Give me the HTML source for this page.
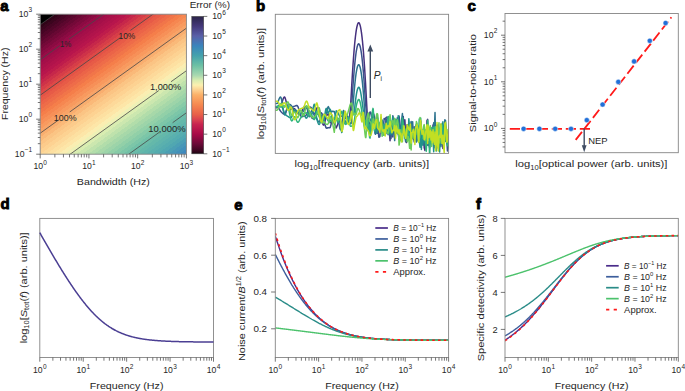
<!DOCTYPE html>
<html><head><meta charset="utf-8"><style>html,body{margin:0;padding:0;background:#fff;width:685px;height:391px;overflow:hidden}svg{display:block}text{font-family:"Liberation Sans", sans-serif;stroke:#262626;stroke-width:0px}</style></head>
<body><svg width="685" height="391" viewBox="0 0 685 391" font-family='"Liberation Sans", sans-serif'><defs><linearGradient id="ga" gradientUnits="userSpaceOnUse" x1="40.20" y1="14.20" x2="156.28" y2="175.83"><stop offset="0" stop-color="#000"/><stop offset="0.0430" stop-color="#000"/><stop offset="0.0430" stop-color="#300418"/><stop offset="0.0573" stop-color="#300418"/><stop offset="0.0573" stop-color="#3b051e"/><stop offset="0.0716" stop-color="#3b051e"/><stop offset="0.0716" stop-color="#460524"/><stop offset="0.0859" stop-color="#460524"/><stop offset="0.0859" stop-color="#510629"/><stop offset="0.1002" stop-color="#510629"/><stop offset="0.1002" stop-color="#5c072e"/><stop offset="0.1145" stop-color="#5c072e"/><stop offset="0.1145" stop-color="#680833"/><stop offset="0.1288" stop-color="#680833"/><stop offset="0.1288" stop-color="#740938"/><stop offset="0.1431" stop-color="#740938"/><stop offset="0.1431" stop-color="#7f0a3d"/><stop offset="0.1574" stop-color="#7f0a3d"/><stop offset="0.1574" stop-color="#8b0b42"/><stop offset="0.1717" stop-color="#8b0b42"/><stop offset="0.1717" stop-color="#970c47"/><stop offset="0.1861" stop-color="#970c47"/><stop offset="0.1861" stop-color="#9e0d49"/><stop offset="0.2004" stop-color="#9e0d49"/><stop offset="0.2004" stop-color="#a50f49"/><stop offset="0.2148" stop-color="#a50f49"/><stop offset="0.2148" stop-color="#ab114a"/><stop offset="0.2291" stop-color="#ab114a"/><stop offset="0.2291" stop-color="#b1134b"/><stop offset="0.2435" stop-color="#b1134b"/><stop offset="0.2435" stop-color="#b7154c"/><stop offset="0.2579" stop-color="#b7154c"/><stop offset="0.2579" stop-color="#be1c4b"/><stop offset="0.2724" stop-color="#be1c4b"/><stop offset="0.2724" stop-color="#c6274a"/><stop offset="0.2869" stop-color="#c6274a"/><stop offset="0.2869" stop-color="#ce3249"/><stop offset="0.3014" stop-color="#ce3249"/><stop offset="0.3014" stop-color="#d63e48"/><stop offset="0.3160" stop-color="#d63e48"/><stop offset="0.3160" stop-color="#de4947"/><stop offset="0.3307" stop-color="#de4947"/><stop offset="0.3307" stop-color="#e45346"/><stop offset="0.3455" stop-color="#e45346"/><stop offset="0.3455" stop-color="#e75b47"/><stop offset="0.3603" stop-color="#e75b47"/><stop offset="0.3603" stop-color="#eb6448"/><stop offset="0.3753" stop-color="#eb6448"/><stop offset="0.3753" stop-color="#ee6c49"/><stop offset="0.3905" stop-color="#ee6c49"/><stop offset="0.3905" stop-color="#f17549"/><stop offset="0.4058" stop-color="#f17549"/><stop offset="0.4058" stop-color="#f57e4a"/><stop offset="0.4213" stop-color="#f57e4a"/><stop offset="0.4213" stop-color="#f68751"/><stop offset="0.4371" stop-color="#f68751"/><stop offset="0.4371" stop-color="#f79058"/><stop offset="0.4531" stop-color="#f79058"/><stop offset="0.4531" stop-color="#f89a5f"/><stop offset="0.4693" stop-color="#f89a5f"/><stop offset="0.4693" stop-color="#f8a367"/><stop offset="0.4857" stop-color="#f8a367"/><stop offset="0.4857" stop-color="#f9ae6f"/><stop offset="0.5024" stop-color="#f9ae6f"/><stop offset="0.5024" stop-color="#fab979"/><stop offset="0.5194" stop-color="#fab979"/><stop offset="0.5194" stop-color="#fbc484"/><stop offset="0.5365" stop-color="#fbc484"/><stop offset="0.5365" stop-color="#fccb8b"/><stop offset="0.5538" stop-color="#fccb8b"/><stop offset="0.5538" stop-color="#fdd292"/><stop offset="0.5712" stop-color="#fdd292"/><stop offset="0.5712" stop-color="#fdd99a"/><stop offset="0.5888" stop-color="#fdd99a"/><stop offset="0.5888" stop-color="#fde0a1"/><stop offset="0.6064" stop-color="#fde0a1"/><stop offset="0.6064" stop-color="#fde6a8"/><stop offset="0.6240" stop-color="#fde6a8"/><stop offset="0.6240" stop-color="#faeeb2"/><stop offset="0.6416" stop-color="#faeeb2"/><stop offset="0.6416" stop-color="#eef1b6"/><stop offset="0.6592" stop-color="#eef1b6"/><stop offset="0.6592" stop-color="#d9edb1"/><stop offset="0.6767" stop-color="#d9edb1"/><stop offset="0.6767" stop-color="#cce7af"/><stop offset="0.6942" stop-color="#cce7af"/><stop offset="0.6942" stop-color="#bfe2ac"/><stop offset="0.7116" stop-color="#bfe2ac"/><stop offset="0.7116" stop-color="#b2ddaa"/><stop offset="0.7289" stop-color="#b2ddaa"/><stop offset="0.7289" stop-color="#a7d8a9"/><stop offset="0.7462" stop-color="#a7d8a9"/><stop offset="0.7462" stop-color="#9dd4a9"/><stop offset="0.7633" stop-color="#9dd4a9"/><stop offset="0.7633" stop-color="#92d0a8"/><stop offset="0.7803" stop-color="#92d0a8"/><stop offset="0.7803" stop-color="#87cba8"/><stop offset="0.7973" stop-color="#87cba8"/><stop offset="0.7973" stop-color="#7cc6a8"/><stop offset="0.8141" stop-color="#7cc6a8"/><stop offset="0.8141" stop-color="#72c1a8"/><stop offset="0.8309" stop-color="#72c1a8"/><stop offset="0.8309" stop-color="#6abca9"/><stop offset="0.8476" stop-color="#6abca9"/><stop offset="0.8476" stop-color="#64b8aa"/><stop offset="0.8642" stop-color="#64b8aa"/><stop offset="0.8642" stop-color="#5fb4ac"/><stop offset="0.8807" stop-color="#5fb4ac"/><stop offset="0.8807" stop-color="#5ab0ae"/><stop offset="0.8971" stop-color="#5ab0ae"/><stop offset="0.8971" stop-color="#55acaf"/><stop offset="0.9135" stop-color="#55acaf"/><stop offset="0.9135" stop-color="#50a7b1"/><stop offset="0.9298" stop-color="#50a7b1"/><stop offset="0.9298" stop-color="#4b9fb4"/><stop offset="0.9460" stop-color="#4b9fb4"/><stop offset="0.9460" stop-color="#4797b7"/><stop offset="0.9622" stop-color="#4797b7"/><stop offset="0.9622" stop-color="#4290ba"/><stop offset="0.9783" stop-color="#4290ba"/><stop offset="0.9783" stop-color="#3e88bd"/><stop offset="0.9943" stop-color="#3e88bd"/><stop offset="0.9943" stop-color="#3b83bf"/><stop offset="1.0000" stop-color="#3b83bf"/></linearGradient><linearGradient id="gcb" x1="0" y1="0" x2="0" y2="1"><stop offset="0.0000" stop-color="#2a2448"/><stop offset="0.0714" stop-color="#44387a"/><stop offset="0.1429" stop-color="#5a60a8"/><stop offset="0.2143" stop-color="#3a84bc"/><stop offset="0.2857" stop-color="#44a2ac"/><stop offset="0.3571" stop-color="#6cc0a4"/><stop offset="0.4286" stop-color="#a8d8b0"/><stop offset="0.4643" stop-color="#d8ecb0"/><stop offset="0.5000" stop-color="#fcf0b0"/><stop offset="0.5357" stop-color="#fcd090"/><stop offset="0.5714" stop-color="#fbb068"/><stop offset="0.6429" stop-color="#f58850"/><stop offset="0.7143" stop-color="#e86048"/><stop offset="0.7543" stop-color="#d84050"/><stop offset="0.7857" stop-color="#c82450"/><stop offset="0.8571" stop-color="#a80a48"/><stop offset="0.9286" stop-color="#6a0a38"/><stop offset="0.9786" stop-color="#3a0620"/><stop offset="1.0000" stop-color="#1a0610"/></linearGradient><clipPath id="ca"><rect x="40.2" y="14.2" width="146.20" height="140.00"/></clipPath><clipPath id="cb"><rect x="275.3" y="14.3" width="173.30" height="139.10"/></clipPath><clipPath id="cc"><rect x="505.0" y="13.5" width="173.30" height="139.20"/></clipPath><clipPath id="ce"><rect x="275.3" y="218.4" width="173.30" height="139.10"/></clipPath><clipPath id="cf"><rect x="505.0" y="218.4" width="173.30" height="139.10"/></clipPath></defs>
<rect x="40.2" y="14.2" width="146.20" height="140.00" fill="url(#ga)"/>
<g clip-path="url(#ca)">
<line x1="35.20" y1="28.33" x2="59.88" y2="10.61" stroke="#474747" stroke-width="0.8" />
<line x1="35.20" y1="63.38" x2="59.87" y2="45.66" stroke="#474747" stroke-width="0.8"/>
<line x1="68.91" y1="39.17" x2="191.40" y2="-48.80" stroke="#474747" stroke-width="0.8"/>
<line x1="35.20" y1="98.81" x2="120.51" y2="37.54" stroke="#474747" stroke-width="0.8"/>
<line x1="130.40" y1="30.44" x2="191.40" y2="-13.37" stroke="#474747" stroke-width="0.8"/>
<line x1="35.20" y1="136.80" x2="58.84" y2="119.82" stroke="#474747" stroke-width="0.8"/>
<line x1="69.71" y1="112.01" x2="191.40" y2="24.61" stroke="#474747" stroke-width="0.8"/>
<line x1="35.20" y1="179.30" x2="158.78" y2="90.54" stroke="#474747" stroke-width="0.8"/>
<line x1="171.04" y1="81.73" x2="191.40" y2="67.11" stroke="#474747" stroke-width="0.8"/>
<line x1="35.20" y1="221.36" x2="159.37" y2="132.18" stroke="#474747" stroke-width="0.8"/>
<line x1="172.61" y1="122.68" x2="191.40" y2="109.18" stroke="#474747" stroke-width="0.8"/>
</g>
<text x="59.90" y="47.40" font-size="9.2" fill="#262626" textLength="11.40" lengthAdjust="spacingAndGlyphs">1%</text>
<text x="118.55" y="39.30" font-size="9.2" fill="#262626" textLength="16.70" lengthAdjust="spacingAndGlyphs">10%</text>
<text x="53.85" y="120.50" font-size="9.2" fill="#262626" textLength="22.70" lengthAdjust="spacingAndGlyphs">100%</text>
<text x="149.95" y="90.40" font-size="9.2" fill="#262626" textLength="31.30" lengthAdjust="spacingAndGlyphs">1,000%</text>
<text x="148.25" y="132.00" font-size="9.2" fill="#262626" textLength="37.30" lengthAdjust="spacingAndGlyphs">10,000%</text>
<rect x="40.20" y="14.20" width="146.20" height="140.00" fill="none" stroke="#858585" stroke-width="0.9"/>
<line x1="40.20" y1="154.20" x2="40.20" y2="158.40" stroke="#4a4a4a" stroke-width="0.75" />
<line x1="54.87" y1="154.20" x2="54.87" y2="157.40" stroke="#4a4a4a" stroke-width="0.75" />
<line x1="63.45" y1="154.20" x2="63.45" y2="157.40" stroke="#4a4a4a" stroke-width="0.75" />
<line x1="69.54" y1="154.20" x2="69.54" y2="157.40" stroke="#4a4a4a" stroke-width="0.75" />
<line x1="74.26" y1="154.20" x2="74.26" y2="157.40" stroke="#4a4a4a" stroke-width="0.75" />
<line x1="78.12" y1="154.20" x2="78.12" y2="157.40" stroke="#4a4a4a" stroke-width="0.75" />
<line x1="81.38" y1="154.20" x2="81.38" y2="157.40" stroke="#4a4a4a" stroke-width="0.75" />
<line x1="84.21" y1="154.20" x2="84.21" y2="157.40" stroke="#4a4a4a" stroke-width="0.75" />
<line x1="86.70" y1="154.20" x2="86.70" y2="157.40" stroke="#4a4a4a" stroke-width="0.75" />
<line x1="88.93" y1="154.20" x2="88.93" y2="158.40" stroke="#4a4a4a" stroke-width="0.75" />
<line x1="103.60" y1="154.20" x2="103.60" y2="157.40" stroke="#4a4a4a" stroke-width="0.75" />
<line x1="112.19" y1="154.20" x2="112.19" y2="157.40" stroke="#4a4a4a" stroke-width="0.75" />
<line x1="118.27" y1="154.20" x2="118.27" y2="157.40" stroke="#4a4a4a" stroke-width="0.75" />
<line x1="123.00" y1="154.20" x2="123.00" y2="157.40" stroke="#4a4a4a" stroke-width="0.75" />
<line x1="126.86" y1="154.20" x2="126.86" y2="157.40" stroke="#4a4a4a" stroke-width="0.75" />
<line x1="130.12" y1="154.20" x2="130.12" y2="157.40" stroke="#4a4a4a" stroke-width="0.75" />
<line x1="132.94" y1="154.20" x2="132.94" y2="157.40" stroke="#4a4a4a" stroke-width="0.75" />
<line x1="135.44" y1="154.20" x2="135.44" y2="157.40" stroke="#4a4a4a" stroke-width="0.75" />
<line x1="137.67" y1="154.20" x2="137.67" y2="158.40" stroke="#4a4a4a" stroke-width="0.75" />
<line x1="152.34" y1="154.20" x2="152.34" y2="157.40" stroke="#4a4a4a" stroke-width="0.75" />
<line x1="160.92" y1="154.20" x2="160.92" y2="157.40" stroke="#4a4a4a" stroke-width="0.75" />
<line x1="167.01" y1="154.20" x2="167.01" y2="157.40" stroke="#4a4a4a" stroke-width="0.75" />
<line x1="171.73" y1="154.20" x2="171.73" y2="157.40" stroke="#4a4a4a" stroke-width="0.75" />
<line x1="175.59" y1="154.20" x2="175.59" y2="157.40" stroke="#4a4a4a" stroke-width="0.75" />
<line x1="178.85" y1="154.20" x2="178.85" y2="157.40" stroke="#4a4a4a" stroke-width="0.75" />
<line x1="181.68" y1="154.20" x2="181.68" y2="157.40" stroke="#4a4a4a" stroke-width="0.75" />
<line x1="184.17" y1="154.20" x2="184.17" y2="157.40" stroke="#4a4a4a" stroke-width="0.75" />
<line x1="186.40" y1="154.20" x2="186.40" y2="158.40" stroke="#4a4a4a" stroke-width="0.75" />
<line x1="36.20" y1="154.20" x2="40.20" y2="154.20" stroke="#4a4a4a" stroke-width="0.75" />
<line x1="37.80" y1="143.66" x2="40.20" y2="143.66" stroke="#4a4a4a" stroke-width="0.75" />
<line x1="37.80" y1="137.50" x2="40.20" y2="137.50" stroke="#4a4a4a" stroke-width="0.75" />
<line x1="37.80" y1="133.13" x2="40.20" y2="133.13" stroke="#4a4a4a" stroke-width="0.75" />
<line x1="37.80" y1="129.74" x2="40.20" y2="129.74" stroke="#4a4a4a" stroke-width="0.75" />
<line x1="37.80" y1="126.96" x2="40.20" y2="126.96" stroke="#4a4a4a" stroke-width="0.75" />
<line x1="37.80" y1="124.62" x2="40.20" y2="124.62" stroke="#4a4a4a" stroke-width="0.75" />
<line x1="37.80" y1="122.59" x2="40.20" y2="122.59" stroke="#4a4a4a" stroke-width="0.75" />
<line x1="37.80" y1="120.80" x2="40.20" y2="120.80" stroke="#4a4a4a" stroke-width="0.75" />
<line x1="36.20" y1="119.20" x2="40.20" y2="119.20" stroke="#4a4a4a" stroke-width="0.75" />
<line x1="37.80" y1="108.66" x2="40.20" y2="108.66" stroke="#4a4a4a" stroke-width="0.75" />
<line x1="37.80" y1="102.50" x2="40.20" y2="102.50" stroke="#4a4a4a" stroke-width="0.75" />
<line x1="37.80" y1="98.13" x2="40.20" y2="98.13" stroke="#4a4a4a" stroke-width="0.75" />
<line x1="37.80" y1="94.74" x2="40.20" y2="94.74" stroke="#4a4a4a" stroke-width="0.75" />
<line x1="37.80" y1="91.96" x2="40.20" y2="91.96" stroke="#4a4a4a" stroke-width="0.75" />
<line x1="37.80" y1="89.62" x2="40.20" y2="89.62" stroke="#4a4a4a" stroke-width="0.75" />
<line x1="37.80" y1="87.59" x2="40.20" y2="87.59" stroke="#4a4a4a" stroke-width="0.75" />
<line x1="37.80" y1="85.80" x2="40.20" y2="85.80" stroke="#4a4a4a" stroke-width="0.75" />
<line x1="36.20" y1="84.20" x2="40.20" y2="84.20" stroke="#4a4a4a" stroke-width="0.75" />
<line x1="37.80" y1="73.66" x2="40.20" y2="73.66" stroke="#4a4a4a" stroke-width="0.75" />
<line x1="37.80" y1="67.50" x2="40.20" y2="67.50" stroke="#4a4a4a" stroke-width="0.75" />
<line x1="37.80" y1="63.13" x2="40.20" y2="63.13" stroke="#4a4a4a" stroke-width="0.75" />
<line x1="37.80" y1="59.74" x2="40.20" y2="59.74" stroke="#4a4a4a" stroke-width="0.75" />
<line x1="37.80" y1="56.96" x2="40.20" y2="56.96" stroke="#4a4a4a" stroke-width="0.75" />
<line x1="37.80" y1="54.62" x2="40.20" y2="54.62" stroke="#4a4a4a" stroke-width="0.75" />
<line x1="37.80" y1="52.59" x2="40.20" y2="52.59" stroke="#4a4a4a" stroke-width="0.75" />
<line x1="37.80" y1="50.80" x2="40.20" y2="50.80" stroke="#4a4a4a" stroke-width="0.75" />
<line x1="36.20" y1="49.20" x2="40.20" y2="49.20" stroke="#4a4a4a" stroke-width="0.75" />
<line x1="37.80" y1="38.66" x2="40.20" y2="38.66" stroke="#4a4a4a" stroke-width="0.75" />
<line x1="37.80" y1="32.50" x2="40.20" y2="32.50" stroke="#4a4a4a" stroke-width="0.75" />
<line x1="37.80" y1="28.13" x2="40.20" y2="28.13" stroke="#4a4a4a" stroke-width="0.75" />
<line x1="37.80" y1="24.74" x2="40.20" y2="24.74" stroke="#4a4a4a" stroke-width="0.75" />
<line x1="37.80" y1="21.96" x2="40.20" y2="21.96" stroke="#4a4a4a" stroke-width="0.75" />
<line x1="37.80" y1="19.62" x2="40.20" y2="19.62" stroke="#4a4a4a" stroke-width="0.75" />
<line x1="37.80" y1="17.59" x2="40.20" y2="17.59" stroke="#4a4a4a" stroke-width="0.75" />
<line x1="37.80" y1="15.80" x2="40.20" y2="15.80" stroke="#4a4a4a" stroke-width="0.75" />
<line x1="36.20" y1="14.20" x2="40.20" y2="14.20" stroke="#4a4a4a" stroke-width="0.75" />
<text x="33.43" y="169.30" font-size="9.3" fill="#262626" textLength="9.62" lengthAdjust="spacingAndGlyphs">10</text>
<text x="43.35" y="164.60" font-size="6.5" fill="#262626" style="stroke-width:0">0</text>
<text x="82.17" y="169.30" font-size="9.3" fill="#262626" textLength="9.62" lengthAdjust="spacingAndGlyphs">10</text>
<text x="92.09" y="164.60" font-size="6.5" fill="#262626" style="stroke-width:0">1</text>
<text x="130.90" y="169.30" font-size="9.3" fill="#262626" textLength="9.62" lengthAdjust="spacingAndGlyphs">10</text>
<text x="140.82" y="164.60" font-size="6.5" fill="#262626" style="stroke-width:0">2</text>
<text x="179.63" y="169.30" font-size="9.3" fill="#262626" textLength="9.62" lengthAdjust="spacingAndGlyphs">10</text>
<text x="189.55" y="164.60" font-size="6.5" fill="#262626" style="stroke-width:0">3</text>
<text x="14.87" y="157.10" font-size="9.3" fill="#262626" textLength="9.62" lengthAdjust="spacingAndGlyphs">10</text>
<text x="24.79" y="152.40" font-size="6.5" fill="#262626" style="stroke-width:0">&#8722;1</text>
<text x="18.67" y="122.10" font-size="9.3" fill="#262626" textLength="9.62" lengthAdjust="spacingAndGlyphs">10</text>
<text x="28.59" y="117.40" font-size="6.5" fill="#262626" style="stroke-width:0">0</text>
<text x="18.67" y="87.10" font-size="9.3" fill="#262626" textLength="9.62" lengthAdjust="spacingAndGlyphs">10</text>
<text x="28.59" y="82.40" font-size="6.5" fill="#262626" style="stroke-width:0">1</text>
<text x="18.67" y="52.10" font-size="9.3" fill="#262626" textLength="9.62" lengthAdjust="spacingAndGlyphs">10</text>
<text x="28.59" y="47.40" font-size="6.5" fill="#262626" style="stroke-width:0">2</text>
<text x="18.67" y="17.10" font-size="9.3" fill="#262626" textLength="9.62" lengthAdjust="spacingAndGlyphs">10</text>
<text x="28.59" y="12.40" font-size="6.5" fill="#262626" style="stroke-width:0">3</text>
<text x="76.85" y="185.00" font-size="9.6" fill="#262626" textLength="73.00" lengthAdjust="spacingAndGlyphs">Bandwidth (Hz)</text>
<text x="-36.20" y="0" font-size="9.6" fill="#262626" textLength="72.40" lengthAdjust="spacingAndGlyphs" transform="translate(8.40,83.80) rotate(-90)">Frequency (Hz)</text>
<text x="0.20" y="11.40" font-size="15" font-weight="bold" fill="#000" style="stroke:#000;stroke-width:0.9px">a</text>
<rect x="191.8" y="16.4" width="11.90" height="137.40" fill="url(#gcb)" stroke="#4a4a4a" stroke-width="0.6"/>
<line x1="203.70" y1="16.40" x2="207.30" y2="16.40" stroke="#4a4a4a" stroke-width="0.75" />
<text x="212.30" y="19.30" font-size="9.3" fill="#262626" textLength="9.62" lengthAdjust="spacingAndGlyphs">10</text>
<text x="222.22" y="14.60" font-size="6.5" fill="#262626" style="stroke-width:0">6</text>
<line x1="203.70" y1="36.03" x2="207.30" y2="36.03" stroke="#4a4a4a" stroke-width="0.75" />
<text x="212.30" y="38.93" font-size="9.3" fill="#262626" textLength="9.62" lengthAdjust="spacingAndGlyphs">10</text>
<text x="222.22" y="34.23" font-size="6.5" fill="#262626" style="stroke-width:0">5</text>
<line x1="203.70" y1="55.66" x2="207.30" y2="55.66" stroke="#4a4a4a" stroke-width="0.75" />
<text x="212.30" y="58.56" font-size="9.3" fill="#262626" textLength="9.62" lengthAdjust="spacingAndGlyphs">10</text>
<text x="222.22" y="53.86" font-size="6.5" fill="#262626" style="stroke-width:0">4</text>
<line x1="203.70" y1="75.29" x2="207.30" y2="75.29" stroke="#4a4a4a" stroke-width="0.75" />
<text x="212.30" y="78.19" font-size="9.3" fill="#262626" textLength="9.62" lengthAdjust="spacingAndGlyphs">10</text>
<text x="222.22" y="73.49" font-size="6.5" fill="#262626" style="stroke-width:0">3</text>
<line x1="203.70" y1="94.91" x2="207.30" y2="94.91" stroke="#4a4a4a" stroke-width="0.75" />
<text x="212.30" y="97.81" font-size="9.3" fill="#262626" textLength="9.62" lengthAdjust="spacingAndGlyphs">10</text>
<text x="222.22" y="93.11" font-size="6.5" fill="#262626" style="stroke-width:0">2</text>
<line x1="203.70" y1="114.54" x2="207.30" y2="114.54" stroke="#4a4a4a" stroke-width="0.75" />
<text x="212.30" y="117.44" font-size="9.3" fill="#262626" textLength="9.62" lengthAdjust="spacingAndGlyphs">10</text>
<text x="222.22" y="112.74" font-size="6.5" fill="#262626" style="stroke-width:0">1</text>
<line x1="203.70" y1="134.17" x2="207.30" y2="134.17" stroke="#4a4a4a" stroke-width="0.75" />
<text x="212.30" y="137.07" font-size="9.3" fill="#262626" textLength="9.62" lengthAdjust="spacingAndGlyphs">10</text>
<text x="222.22" y="132.37" font-size="6.5" fill="#262626" style="stroke-width:0">0</text>
<line x1="203.70" y1="153.80" x2="207.30" y2="153.80" stroke="#4a4a4a" stroke-width="0.75" />
<text x="212.30" y="156.70" font-size="9.3" fill="#262626" textLength="9.62" lengthAdjust="spacingAndGlyphs">10</text>
<text x="222.22" y="152.00" font-size="6.5" fill="#262626" style="stroke-width:0">&#8722;1</text>
<text x="189.65" y="7.70" font-size="9.6" fill="#262626" textLength="40.40" lengthAdjust="spacingAndGlyphs">Error (%)</text>
<text x="256.10" y="11.20" font-size="15" font-weight="bold" fill="#000" style="stroke:#000;stroke-width:0.9px">b</text>
<g clip-path="url(#cb)">
<path d="M273.30,107.73 L273.80,107.73 L274.30,107.73 L274.80,107.73 L275.30,107.73 L275.80,107.73 L276.30,107.73 L276.80,107.73 L277.30,107.54 L277.80,107.05 L278.30,106.73 L278.80,106.51 L279.30,106.33 L279.80,106.10 L280.30,105.76 L280.80,105.23 L281.30,104.37 L281.80,103.07 L282.30,101.55 L282.80,99.99 L283.30,98.59 L283.80,97.54 L284.30,97.03 L284.80,97.29 L285.30,98.41 L285.80,100.15 L286.30,102.24 L286.80,104.41 L287.30,106.41 L287.80,107.95 L288.30,108.85 L288.80,109.31 L289.30,109.46 L289.80,109.40 L290.30,109.22 L290.80,109.04 L291.30,108.95 L291.80,108.93 L292.30,108.82 L292.80,108.67 L293.30,108.54 L293.80,108.50 L294.30,108.61 L294.80,108.92 L295.30,109.53 L295.80,110.33 L296.30,111.22 L296.80,112.10 L297.30,112.86 L297.80,113.39 L298.30,113.81 L298.80,114.15 L299.30,114.39 L299.80,114.46 L300.30,114.33 L300.80,113.94 L301.30,113.09 L301.80,111.83 L302.30,110.40 L302.80,109.01 L303.30,107.88 L303.80,107.23 L304.30,106.97 L304.80,106.99 L305.30,107.20 L305.80,107.54 L306.30,107.92 L306.80,108.30 L307.30,108.76 L307.80,109.31 L308.30,109.95 L308.80,110.71 L309.30,111.59 L309.80,112.81 L310.30,114.26 L310.80,115.73 L311.30,116.99 L311.80,117.85 L312.30,118.31 L312.80,118.52 L313.30,118.45 L313.80,118.07 L314.30,117.35 L314.80,116.01 L315.30,113.96 L315.80,111.66 L316.30,109.59 L316.80,108.20 L317.30,107.59 L317.80,107.46 L318.30,107.77 L318.80,108.49 L319.30,109.61 L319.80,111.48 L320.30,113.99 L320.80,116.67 L321.30,119.09 L321.80,120.93 L322.30,122.61 L322.80,124.03 L323.30,124.95 L323.80,125.14 L324.30,124.23 L324.80,122.30 L325.30,120.00 L325.80,117.93 L326.30,116.55 L326.80,115.33 L327.30,114.40 L327.80,114.01 L328.30,114.44 L328.80,116.30 L329.30,119.00 L329.80,121.49 L330.27,122.71 L332.31,117.43 L334.29,122.99 L336.22,127.89 L338.10,123.42 L339.94,120.53 L340.00,120.54 L340.50,121.24 L341.00,122.45 L341.50,123.22 L341.74,123.15 L342.00,122.59 L342.50,120.51 L343.00,118.12 L343.49,116.62 L343.50,116.61 L344.00,116.60 L344.50,117.39 L345.00,118.15 L345.21,118.26 L345.50,118.16 L346.00,117.63 L346.50,117.06 L346.88,116.91 L347.00,116.95 L347.50,117.49 L348.00,118.23 L348.50,118.61 L348.53,118.61 L349.00,118.06 L349.50,116.32 L350.00,112.75 L350.13,111.43 L350.50,106.70 L351.00,98.56 L351.50,89.66 L351.70,86.11 L352.00,80.89 L352.50,72.60 L353.00,64.90 L353.24,61.43 L353.50,57.84 L354.00,51.41 L354.50,45.63 L354.75,42.98 L355.00,40.50 L355.50,36.01 L356.00,32.18 L356.23,30.63 L356.50,28.99 L357.00,26.46 L357.50,24.57 L357.69,24.03 L358.00,23.34 L358.50,22.75 L359.00,22.82 L359.11,22.92 L359.50,23.53 L360.00,24.90 L360.50,26.91 L360.51,26.96 L361.00,29.58 L361.50,32.89 L361.88,35.85 L362.00,36.86 L362.50,41.47 L363.00,46.73 L363.23,49.37 L363.50,52.64 L364.00,59.20 L364.50,66.38 L364.55,67.13 L365.00,74.19 L365.50,82.62 L365.85,88.85 L366.00,91.59 L366.50,100.86 L367.00,109.96 L367.13,112.21 L367.50,118.32 L368.00,125.22 L368.39,127.93 L368.50,127.97 L369.00,124.14 L369.50,119.41 L369.63,118.93 L370.00,119.81 L370.50,123.40 L370.85,125.15 L371.00,125.44 L371.50,125.75 L372.00,124.55 L372.04,124.37 L372.50,120.44 L373.00,115.28 L373.22,114.03 L373.50,113.65 L374.00,115.02 L374.39,117.20 L374.50,118.02 L375.00,123.42 L375.50,128.41 L375.53,128.60 L376.00,130.27 L376.50,130.79 L376.66,131.05 L377.00,131.92 L377.50,133.11 L377.77,133.30 L378.87,130.32 L379.95,129.04 L381.02,128.29 L382.07,133.38 L383.11,122.29 L384.14,125.62 L385.15,128.08 L386.15,118.69 L387.14,133.69 L388.12,123.53 L389.08,128.29 L390.04,140.70 L390.98,124.10 L391.92,125.45 L392.84,136.95 L393.75,122.58 L394.66,125.48 L395.55,132.10 L396.44,132.76 L397.32,133.58 L398.19,133.21 L399.05,139.18 L399.90,137.68 L400.75,133.82 L401.59,125.34 L402.42,123.29 L403.24,117.73 L404.06,131.72 L404.87,119.82 L405.68,136.36 L406.48,142.60 L407.27,124.82 L408.06,125.24 L408.84,128.13 L409.61,135.62 L410.38,126.27 L411.15,129.51 L411.91,127.87 L412.66,130.73 L413.41,139.49 L414.16,126.74 L414.90,132.07 L415.64,134.90 L416.37,137.34 L417.10,125.73 L417.82,139.43 L418.55,137.39 L419.26,139.25 L419.98,132.86 L420.69,121.59 L421.40,128.25 L422.10,138.44 L422.80,134.44 L423.50,134.87 L424.20,147.86 L424.89,150.42 L425.58,137.29 L426.27,145.60 L426.95,120.52 L427.64,119.39 L428.32,138.51 L428.99,134.05 L429.67,138.94 L430.35,138.82 L431.02,135.38 L431.69,139.86 L432.36,135.48 L433.03,124.97 L433.69,135.75 L434.36,138.65 L435.02,147.63 L435.68,129.49 L436.34,134.63 L437.00,132.91 L437.66,136.26 L438.32,148.12 L438.97,140.09 L439.63,133.64 L440.28,137.89 L440.94,141.34 L441.59,130.19 L442.24,135.46 L442.90,148.53 L443.55,144.53 L444.20,137.25 L444.85,133.76 L445.50,134.55 L446.15,127.17 L446.80,143.35 L447.45,141.23 L448.10,138.06 L448.75,128.17 L449.40,132.27 L450.05,132.29" fill="none" stroke="#46317e" stroke-width="1.5" stroke-linejoin="round" stroke-linecap="butt" />
<path d="M273.30,106.51 L273.80,106.51 L274.30,106.51 L274.80,106.51 L275.30,106.51 L275.80,106.51 L276.30,106.51 L276.80,106.51 L277.30,106.59 L277.80,107.00 L278.30,107.61 L278.80,108.37 L279.30,109.20 L279.80,110.03 L280.30,110.79 L280.80,111.42 L281.30,111.94 L281.80,112.48 L282.30,113.01 L282.80,113.47 L283.30,113.81 L283.80,113.99 L284.30,113.95 L284.80,113.63 L285.30,112.89 L285.80,111.87 L286.30,110.68 L286.80,109.47 L287.30,108.38 L287.80,107.54 L288.30,107.06 L288.80,106.87 L289.30,106.88 L289.80,107.01 L290.30,107.19 L290.80,107.33 L291.30,107.37 L291.80,107.26 L292.30,107.08 L292.80,106.86 L293.30,106.63 L293.80,106.42 L294.30,106.25 L294.80,106.13 L295.30,105.93 L295.80,105.69 L296.30,105.51 L296.80,105.50 L297.30,105.75 L297.80,106.37 L298.30,107.60 L298.80,109.33 L299.30,111.30 L299.80,113.23 L300.30,114.88 L300.80,115.99 L301.30,116.56 L301.80,116.75 L302.30,116.68 L302.80,116.47 L303.30,116.23 L303.80,116.09 L304.30,116.01 L304.80,115.92 L305.30,115.75 L305.80,115.43 L306.30,114.90 L306.80,114.00 L307.30,112.64 L307.80,111.05 L308.30,109.48 L308.80,108.19 L309.30,107.41 L309.80,107.08 L310.30,107.06 L310.80,107.29 L311.30,107.71 L311.80,108.24 L312.30,109.05 L312.80,110.20 L313.30,111.47 L313.80,112.62 L314.30,113.42 L314.80,113.72 L315.30,113.64 L315.80,113.36 L316.30,113.11 L316.80,113.09 L317.30,113.46 L317.80,114.10 L318.30,114.80 L318.80,115.33 L319.30,115.50 L319.80,115.01 L320.30,114.08 L320.80,113.18 L321.30,112.75 L321.80,113.22 L322.30,114.59 L322.80,116.47 L323.30,118.54 L323.80,120.42 L324.30,122.21 L324.80,124.11 L325.30,125.87 L325.80,127.26 L326.30,128.06 L326.80,128.25 L327.30,128.06 L327.80,127.77 L328.30,127.62 L328.80,127.73 L329.30,127.87 L329.80,127.76 L330.27,127.20 L332.31,119.94 L334.29,122.98 L336.22,117.75 L338.10,123.38 L339.94,117.40 L340.00,117.29 L340.50,116.60 L341.00,116.28 L341.50,116.15 L341.74,116.09 L342.00,115.98 L342.50,115.73 L343.00,115.74 L343.49,116.37 L343.50,116.40 L344.00,118.31 L344.50,120.96 L345.00,123.21 L345.21,123.75 L345.50,124.05 L346.00,123.76 L346.50,123.02 L346.88,122.56 L347.00,122.47 L347.50,122.25 L348.00,121.94 L348.50,121.15 L348.53,121.08 L349.00,119.16 L349.50,116.43 L350.00,114.34 L350.13,114.04 L350.50,113.77 L351.00,112.63 L351.50,107.98 L351.70,105.26 L352.00,100.71 L352.50,92.93 L353.00,85.55 L353.24,82.22 L353.50,78.76 L354.00,72.46 L354.50,66.72 L354.75,64.07 L355.00,61.59 L355.50,57.11 L356.00,53.27 L356.23,51.73 L356.50,50.09 L357.00,47.55 L357.50,45.67 L357.69,45.12 L358.00,44.43 L358.50,43.85 L359.00,43.91 L359.11,44.02 L359.50,44.63 L360.00,45.99 L360.50,48.00 L360.51,48.05 L361.00,50.66 L361.50,53.97 L361.88,56.92 L362.00,57.93 L362.50,62.54 L363.00,67.80 L363.23,70.44 L363.50,73.71 L364.00,80.26 L364.50,87.44 L364.55,88.18 L365.00,95.08 L365.50,102.42 L365.85,106.64 L366.00,108.26 L366.50,113.02 L367.00,116.74 L367.13,117.42 L367.50,119.31 L368.00,121.65 L368.39,121.96 L368.50,121.60 L369.00,117.79 L369.50,113.59 L369.63,112.96 L370.00,112.00 L370.50,112.00 L370.85,112.84 L371.00,113.51 L371.50,117.15 L372.00,120.76 L372.04,120.96 L372.50,122.69 L373.00,123.76 L373.22,124.07 L373.50,124.04 L374.00,123.32 L374.39,123.93 L374.50,124.60 L375.00,130.06 L375.50,134.17 L375.53,134.22 L376.00,131.56 L376.50,126.73 L376.66,125.99 L377.00,125.91 L377.50,127.66 L377.77,129.01 L378.87,137.26 L379.95,136.57 L381.02,117.55 L382.07,123.82 L383.11,132.49 L384.14,118.48 L385.15,119.21 L386.15,117.34 L387.14,116.97 L388.12,119.53 L389.08,128.88 L390.04,137.18 L390.98,138.67 L391.92,127.87 L392.84,115.85 L393.75,126.29 L394.66,126.74 L395.55,130.69 L396.44,127.00 L397.32,117.87 L398.19,128.82 L399.05,115.92 L399.90,123.68 L400.75,131.45 L401.59,133.66 L402.42,138.55 L403.24,116.39 L404.06,131.12 L404.87,134.93 L405.68,129.52 L406.48,133.70 L407.27,124.69 L408.06,134.86 L408.84,134.36 L409.61,124.69 L410.38,126.01 L411.15,129.17 L411.91,128.03 L412.66,138.30 L413.41,135.03 L414.16,141.92 L414.90,141.15 L415.64,133.50 L416.37,130.39 L417.10,125.36 L417.82,125.80 L418.55,127.05 L419.26,133.84 L419.98,127.44 L420.69,133.12 L421.40,134.23 L422.10,130.05 L422.80,133.05 L423.50,144.70 L424.20,145.29 L424.89,129.75 L425.58,131.70 L426.27,131.19 L426.95,133.33 L427.64,145.30 L428.32,141.62 L428.99,145.39 L429.67,147.71 L430.35,133.12 L431.02,133.32 L431.69,136.09 L432.36,142.27 L433.03,136.12 L433.69,140.84 L434.36,145.27 L435.02,145.18 L435.68,139.23 L436.34,129.40 L437.00,125.37 L437.66,143.03 L438.32,139.56 L438.97,129.70 L439.63,131.66 L440.28,131.48 L440.94,124.65 L441.59,136.38 L442.24,131.28 L442.90,134.91 L443.55,142.05 L444.20,137.70 L444.85,141.52 L445.50,141.00 L446.15,138.23 L446.80,139.72 L447.45,151.06 L448.10,139.83 L448.75,148.78 L449.40,133.69 L450.05,133.68" fill="none" stroke="#3b528b" stroke-width="1.5" stroke-linejoin="round" stroke-linecap="butt" />
<path d="M273.30,103.62 L273.80,103.62 L274.30,103.62 L274.80,103.62 L275.30,103.62 L275.80,103.62 L276.30,103.62 L276.80,103.62 L277.30,103.38 L277.80,102.36 L278.30,101.09 L278.80,99.75 L279.30,98.52 L279.80,97.57 L280.30,97.08 L280.80,97.23 L281.30,98.34 L281.80,100.54 L282.30,103.47 L282.80,106.71 L283.30,109.87 L283.80,112.54 L284.30,114.34 L284.80,114.91 L285.30,114.33 L285.80,112.92 L286.30,111.01 L286.80,108.92 L287.30,107.00 L287.80,105.57 L288.30,104.84 L288.80,104.47 L289.30,104.36 L289.80,104.46 L290.30,104.72 L290.80,105.10 L291.30,105.54 L291.80,106.14 L292.30,107.01 L292.80,108.04 L293.30,109.13 L293.80,110.16 L294.30,111.02 L294.80,111.61 L295.30,111.96 L295.80,112.14 L296.30,112.22 L296.80,112.25 L297.30,112.30 L297.80,112.43 L298.30,112.68 L298.80,112.98 L299.30,113.29 L299.80,113.54 L300.30,113.67 L300.80,113.63 L301.30,113.40 L301.80,113.02 L302.30,112.53 L302.80,111.96 L303.30,111.35 L303.80,110.69 L304.30,109.67 L304.80,108.44 L305.30,107.26 L305.80,106.42 L306.30,106.21 L306.80,107.01 L307.30,108.95 L307.80,111.49 L308.30,114.03 L308.80,115.98 L309.30,116.76 L309.80,116.15 L310.30,114.63 L310.80,112.79 L311.30,111.20 L311.80,110.44 L312.30,110.74 L312.80,111.71 L313.30,113.04 L313.80,114.43 L314.30,115.57 L314.80,116.40 L315.30,117.12 L315.80,117.76 L316.30,118.38 L316.80,118.99 L317.30,119.76 L317.80,120.68 L318.30,121.51 L318.80,121.99 L319.30,121.90 L319.80,120.93 L320.30,119.33 L320.80,117.54 L321.30,116.01 L321.80,115.12 L322.30,114.71 L322.80,114.58 L323.30,114.57 L323.80,114.52 L324.30,114.51 L324.80,114.68 L325.30,114.76 L325.80,114.48 L326.30,113.49 L326.80,111.53 L327.30,109.25 L327.80,107.38 L328.30,106.65 L328.80,107.37 L329.30,108.93 L329.80,110.58 L330.27,111.58 L332.31,111.19 L334.29,111.44 L336.22,118.47 L338.10,118.37 L339.94,128.77 L340.00,128.92 L340.50,129.77 L341.00,129.74 L341.50,128.55 L341.74,127.50 L342.00,125.58 L342.50,119.85 L343.00,113.85 L343.49,110.47 L343.50,110.45 L344.00,111.44 L344.50,114.93 L345.00,118.16 L345.21,118.78 L345.50,118.72 L346.00,117.21 L346.50,115.52 L346.88,115.25 L347.00,115.49 L347.50,117.77 L348.00,120.88 L348.50,123.15 L348.53,123.23 L349.00,123.59 L349.50,123.06 L350.00,122.67 L350.13,122.71 L350.50,123.20 L351.00,123.73 L351.50,122.38 L351.70,121.01 L352.00,118.15 L352.50,112.14 L353.00,105.64 L353.24,102.54 L353.50,99.26 L354.00,93.19 L354.50,87.56 L354.75,84.95 L355.00,82.49 L355.50,78.03 L356.00,74.20 L356.23,72.66 L356.50,71.01 L357.00,68.45 L357.50,66.54 L357.69,65.99 L358.00,65.31 L358.50,64.76 L359.00,64.85 L359.11,64.96 L359.50,65.57 L360.00,66.94 L360.50,68.95 L360.51,68.99 L361.00,71.60 L361.50,74.89 L361.88,77.81 L362.00,78.81 L362.50,83.31 L363.00,88.37 L363.23,90.91 L363.50,94.12 L364.00,100.70 L364.50,107.75 L364.55,108.46 L365.00,114.47 L365.50,119.01 L365.85,120.90 L366.00,121.90 L366.50,126.38 L367.00,130.23 L367.13,130.59 L367.50,129.45 L368.00,125.68 L368.39,124.28 L368.50,124.57 L369.00,129.01 L369.50,133.01 L369.63,133.04 L370.00,129.74 L370.50,122.12 L370.85,119.03 L371.00,119.07 L371.50,122.97 L372.00,126.44 L372.04,126.45 L372.50,123.39 L373.00,118.44 L373.22,117.73 L373.50,118.95 L374.00,124.21 L374.39,128.04 L374.50,128.89 L375.00,133.08 L375.50,134.20 L375.53,134.06 L376.00,127.28 L376.50,117.82 L376.66,116.17 L377.00,115.46 L377.50,117.82 L377.77,119.36 L378.87,126.62 L379.95,124.12 L381.02,118.65 L382.07,132.58 L383.11,128.87 L384.14,135.13 L385.15,129.11 L386.15,119.89 L387.14,124.53 L388.12,134.70 L389.08,119.75 L390.04,124.33 L390.98,132.22 L391.92,135.72 L392.84,133.22 L393.75,121.45 L394.66,140.62 L395.55,129.47 L396.44,128.92 L397.32,128.93 L398.19,127.00 L399.05,122.76 L399.90,127.72 L400.75,136.88 L401.59,120.14 L402.42,113.59 L403.24,131.87 L404.06,133.51 L404.87,136.84 L405.68,141.83 L406.48,127.50 L407.27,131.83 L408.06,135.46 L408.84,140.48 L409.61,138.35 L410.38,125.55 L411.15,121.49 L411.91,127.37 L412.66,121.76 L413.41,137.60 L414.16,130.03 L414.90,128.72 L415.64,127.35 L416.37,142.11 L417.10,135.40 L417.82,130.66 L418.55,136.50 L419.26,133.36 L419.98,138.11 L420.69,142.36 L421.40,133.03 L422.10,137.06 L422.80,138.17 L423.50,142.29 L424.20,138.80 L424.89,134.07 L425.58,129.90 L426.27,134.70 L426.95,127.88 L427.64,138.05 L428.32,135.93 L428.99,138.01 L429.67,130.92 L430.35,128.05 L431.02,128.91 L431.69,141.77 L432.36,134.41 L433.03,131.92 L433.69,122.70 L434.36,130.53 L435.02,112.62 L435.68,142.04 L436.34,135.40 L437.00,134.68 L437.66,125.12 L438.32,127.82 L438.97,139.43 L439.63,135.89 L440.28,140.50 L440.94,146.64 L441.59,140.95 L442.24,123.17 L442.90,127.33 L443.55,127.35 L444.20,127.88 L444.85,119.85 L445.50,120.26 L446.15,129.87 L446.80,133.18 L447.45,140.68 L448.10,137.31 L448.75,146.34 L449.40,125.04 L450.05,125.01" fill="none" stroke="#2c728e" stroke-width="1.5" stroke-linejoin="round" stroke-linecap="butt" />
<path d="M273.30,106.66 L273.80,106.66 L274.30,106.66 L274.80,106.66 L275.30,106.66 L275.80,106.66 L276.30,106.66 L276.80,106.66 L277.30,106.57 L277.80,106.20 L278.30,105.74 L278.80,105.26 L279.30,104.84 L279.80,104.55 L280.30,104.46 L280.80,104.64 L281.30,105.21 L281.80,106.18 L282.30,107.43 L282.80,108.84 L283.30,110.28 L283.80,111.63 L284.30,112.77 L284.80,113.62 L285.30,114.32 L285.80,114.88 L286.30,115.35 L286.80,115.73 L287.30,116.07 L287.80,116.37 L288.30,116.68 L288.80,117.03 L289.30,117.37 L289.80,117.63 L290.30,117.78 L290.80,117.74 L291.30,117.46 L291.80,116.80 L292.30,115.70 L292.80,114.34 L293.30,112.92 L293.80,111.61 L294.30,110.60 L294.80,110.07 L295.30,109.95 L295.80,110.13 L296.30,110.51 L296.80,110.98 L297.30,111.43 L297.80,111.77 L298.30,112.08 L298.80,112.41 L299.30,112.74 L299.80,113.06 L300.30,113.34 L300.80,113.55 L301.30,113.64 L301.80,113.63 L302.30,113.58 L302.80,113.59 L303.30,113.73 L303.80,114.09 L304.30,114.86 L304.80,115.90 L305.30,116.95 L305.80,117.80 L306.30,118.19 L306.80,117.88 L307.30,116.85 L307.80,115.43 L308.30,113.95 L308.80,112.76 L309.30,112.20 L309.80,112.48 L310.30,113.26 L310.80,114.14 L311.30,114.69 L311.80,114.49 L312.30,112.94 L312.80,110.30 L313.30,107.40 L313.80,105.07 L314.30,104.17 L314.80,105.37 L315.30,108.23 L315.80,111.93 L316.30,115.63 L316.80,118.52 L317.30,120.54 L317.80,122.26 L318.30,123.57 L318.80,124.36 L319.30,124.51 L319.80,123.55 L320.30,121.70 L320.80,119.64 L321.30,118.04 L321.80,117.57 L322.30,118.38 L322.80,119.74 L323.30,120.81 L323.80,120.79 L324.30,118.88 L324.80,115.54 L325.30,111.92 L325.80,109.16 L326.30,108.30 L326.80,109.24 L327.30,111.03 L327.80,112.68 L328.30,113.22 L328.80,112.31 L329.30,110.73 L329.80,109.42 L330.27,109.25 L332.31,118.90 L334.29,120.30 L336.22,110.85 L338.10,112.89 L339.94,117.05 L340.00,117.40 L340.50,121.89 L341.00,127.45 L341.50,131.63 L341.74,132.42 L342.00,132.06 L342.50,128.77 L343.00,124.25 L343.49,121.15 L343.50,121.12 L344.00,120.22 L344.50,120.35 L345.00,120.82 L345.21,120.96 L345.50,121.18 L346.00,121.77 L346.50,122.40 L346.88,122.69 L347.00,122.75 L347.50,122.89 L348.00,122.83 L348.50,122.45 L348.53,122.42 L349.00,121.68 L349.50,120.58 L350.00,119.23 L350.13,118.85 L350.50,117.39 L351.00,114.97 L351.50,113.14 L351.70,112.84 L352.00,112.84 L352.50,113.54 L353.00,114.42 L353.24,114.59 L353.50,114.61 L354.00,113.23 L354.50,109.50 L354.75,107.24 L355.00,104.94 L355.50,100.59 L356.00,96.79 L356.23,95.27 L356.50,93.66 L357.00,91.15 L357.50,89.28 L357.69,88.73 L358.00,88.01 L358.50,87.34 L359.00,87.33 L359.11,87.43 L359.50,88.08 L360.00,89.54 L360.50,91.58 L360.51,91.63 L361.00,94.17 L361.50,97.30 L361.88,100.01 L362.00,100.91 L362.50,104.69 L363.00,108.43 L363.23,110.25 L363.50,112.71 L364.00,118.07 L364.50,122.82 L364.55,123.14 L365.00,123.95 L365.50,121.71 L365.85,120.44 L366.00,120.34 L366.50,121.02 L367.00,122.61 L367.13,123.05 L367.50,124.82 L368.00,127.74 L368.39,129.15 L368.50,129.25 L369.00,128.29 L369.50,127.11 L369.63,127.12 L370.00,128.30 L370.50,130.73 L370.85,131.23 L371.00,130.81 L371.50,127.46 L372.00,124.05 L372.04,123.89 L372.50,122.61 L373.00,122.28 L373.22,122.51 L373.50,123.43 L374.00,126.19 L374.39,127.81 L374.50,128.00 L375.00,127.81 L375.50,127.83 L375.53,127.89 L376.00,130.20 L376.50,132.90 L376.66,133.21 L377.00,132.60 L377.50,130.21 L377.77,129.10 L378.87,126.42 L379.95,129.34 L381.02,129.80 L382.07,119.98 L383.11,124.65 L384.14,125.60 L385.15,133.83 L386.15,125.93 L387.14,132.63 L388.12,120.40 L389.08,127.17 L390.04,134.32 L390.98,128.13 L391.92,133.63 L392.84,116.46 L393.75,127.17 L394.66,129.61 L395.55,126.97 L396.44,119.78 L397.32,130.31 L398.19,115.64 L399.05,133.88 L399.90,133.00 L400.75,136.11 L401.59,128.11 L402.42,122.19 L403.24,125.51 L404.06,127.33 L404.87,133.70 L405.68,129.37 L406.48,133.58 L407.27,135.53 L408.06,139.03 L408.84,118.87 L409.61,127.53 L410.38,136.19 L411.15,136.21 L411.91,128.34 L412.66,129.55 L413.41,131.25 L414.16,132.45 L414.90,128.08 L415.64,126.70 L416.37,124.20 L417.10,130.36 L417.82,141.00 L418.55,128.53 L419.26,140.34 L419.98,147.27 L420.69,138.35 L421.40,149.49 L422.10,136.08 L422.80,144.92 L423.50,133.97 L424.20,126.03 L424.89,137.11 L425.58,146.97 L426.27,132.40 L426.95,136.50 L427.64,127.47 L428.32,128.29 L428.99,137.13 L429.67,134.67 L430.35,140.06 L431.02,143.58 L431.69,127.77 L432.36,129.83 L433.03,137.49 L433.69,151.71 L434.36,135.23 L435.02,132.81 L435.68,140.68 L436.34,151.00 L437.00,134.00 L437.66,134.00 L438.32,137.47 L438.97,144.14 L439.63,151.96 L440.28,128.87 L440.94,124.57 L441.59,137.51 L442.24,139.54 L442.90,121.72 L443.55,132.35 L444.20,143.77 L444.85,135.60 L445.50,141.34 L446.15,140.59 L446.80,143.67 L447.45,142.52 L448.10,142.09 L448.75,147.55 L449.40,136.17 L450.05,136.16" fill="none" stroke="#21918c" stroke-width="1.5" stroke-linejoin="round" stroke-linecap="butt" />
<path d="M273.30,106.76 L273.80,106.76 L274.30,106.76 L274.80,106.76 L275.30,106.76 L275.80,106.76 L276.30,106.76 L276.80,106.76 L277.30,106.66 L277.80,106.45 L278.30,106.43 L278.80,106.54 L279.30,106.71 L279.80,106.90 L280.30,107.05 L280.80,107.10 L281.30,107.02 L281.80,106.86 L282.30,106.65 L282.80,106.43 L283.30,106.21 L283.80,106.04 L284.30,105.94 L284.80,105.92 L285.30,105.82 L285.80,105.69 L286.30,105.63 L286.80,105.72 L287.30,106.05 L287.80,106.71 L288.30,107.86 L288.80,109.75 L289.30,112.13 L289.80,114.70 L290.30,117.15 L290.80,119.20 L291.30,120.54 L291.80,120.95 L292.30,120.53 L292.80,119.58 L293.30,118.41 L293.80,117.32 L294.30,116.63 L294.80,116.63 L295.30,117.32 L295.80,118.44 L296.30,119.75 L296.80,121.00 L297.30,121.94 L297.80,122.31 L298.30,122.09 L298.80,121.44 L299.30,120.53 L299.80,119.50 L300.30,118.52 L300.80,117.73 L301.30,117.03 L301.80,116.34 L302.30,115.68 L302.80,115.07 L303.30,114.53 L303.80,114.08 L304.30,113.66 L304.80,113.30 L305.30,113.02 L305.80,112.85 L306.30,112.83 L306.80,113.03 L307.30,113.51 L307.80,114.15 L308.30,114.81 L308.80,115.37 L309.30,115.70 L309.80,115.73 L310.30,115.58 L310.80,115.40 L311.30,115.32 L311.80,115.50 L312.30,116.17 L312.80,117.26 L313.30,118.42 L313.80,119.29 L314.30,119.53 L314.80,118.73 L315.30,117.00 L315.80,114.94 L316.30,113.11 L316.80,112.11 L317.30,112.28 L317.80,113.25 L318.30,114.63 L318.80,116.00 L319.30,116.99 L319.80,117.71 L320.30,118.35 L320.80,118.83 L321.30,119.06 L321.80,118.96 L322.30,118.36 L322.80,117.49 L323.30,116.63 L323.80,116.06 L324.30,115.83 L324.80,115.77 L325.30,115.89 L325.80,116.22 L326.30,116.85 L326.80,117.92 L327.30,119.20 L327.80,120.37 L328.30,121.12 L328.80,121.55 L329.30,121.74 L329.80,121.72 L330.27,121.51 L332.31,118.38 L334.29,118.40 L336.22,116.61 L338.10,122.16 L339.94,118.54 L340.00,118.35 L340.50,116.07 L341.00,113.42 L341.50,111.54 L341.74,111.26 L342.00,111.53 L342.50,113.30 L343.00,115.85 L343.49,118.11 L343.50,118.15 L344.00,120.22 L344.50,122.28 L345.00,123.82 L345.21,124.19 L345.50,124.39 L346.00,124.09 L346.50,123.25 L346.88,122.45 L347.00,122.14 L347.50,120.08 L348.00,117.88 L348.50,117.04 L348.53,117.06 L349.00,118.79 L349.50,122.13 L350.00,125.08 L350.13,125.54 L350.50,126.23 L351.00,126.31 L351.50,126.08 L351.70,126.06 L352.00,126.02 L352.50,125.70 L353.00,125.09 L353.24,124.69 L353.50,124.23 L354.00,122.78 L354.50,119.82 L354.75,117.88 L355.00,115.77 L355.50,111.45 L356.00,107.66 L356.23,106.24 L356.50,104.89 L357.00,102.92 L357.50,101.39 L357.69,100.90 L358.00,100.23 L358.50,99.56 L359.00,99.53 L359.11,99.63 L359.50,100.30 L360.00,101.80 L360.50,103.85 L360.51,103.89 L361.00,106.41 L361.50,109.48 L361.88,112.08 L362.00,112.93 L362.50,116.42 L363.00,119.54 L363.23,120.85 L363.50,122.39 L364.00,125.10 L364.50,126.55 L364.55,126.56 L365.00,124.89 L365.50,121.52 L365.85,120.32 L366.00,120.50 L366.50,123.47 L367.00,126.41 L367.13,126.57 L367.50,124.74 L368.00,120.34 L368.39,119.58 L368.50,120.35 L369.00,128.32 L369.50,136.61 L369.63,137.63 L370.00,138.11 L370.50,135.38 L370.85,132.27 L371.00,130.57 L371.50,122.66 L372.00,115.29 L372.04,114.88 L372.50,110.54 L373.00,108.37 L373.22,109.13 L373.50,113.03 L374.00,124.75 L374.39,130.70 L374.50,130.97 L375.00,126.77 L375.50,121.95 L375.53,121.88 L376.00,123.91 L376.50,127.33 L376.66,127.50 L377.00,125.35 L377.50,120.02 L377.77,118.57 L378.87,125.12 L379.95,122.90 L381.02,129.43 L382.07,126.22 L383.11,135.17 L384.14,124.46 L385.15,134.51 L386.15,128.64 L387.14,129.50 L388.12,116.74 L389.08,116.40 L390.04,132.24 L390.98,120.98 L391.92,124.94 L392.84,125.44 L393.75,122.79 L394.66,128.20 L395.55,119.16 L396.44,121.07 L397.32,133.50 L398.19,125.52 L399.05,134.13 L399.90,135.69 L400.75,140.45 L401.59,132.57 L402.42,118.03 L403.24,124.13 L404.06,128.11 L404.87,138.40 L405.68,133.44 L406.48,128.18 L407.27,133.02 L408.06,129.46 L408.84,134.57 L409.61,133.62 L410.38,139.10 L411.15,135.47 L411.91,138.51 L412.66,133.13 L413.41,136.51 L414.16,132.16 L414.90,136.52 L415.64,134.22 L416.37,131.43 L417.10,129.40 L417.82,130.87 L418.55,133.79 L419.26,118.91 L419.98,137.49 L420.69,118.04 L421.40,129.76 L422.10,131.64 L422.80,138.47 L423.50,135.85 L424.20,133.75 L424.89,135.24 L425.58,142.57 L426.27,151.29 L426.95,137.14 L427.64,120.16 L428.32,130.25 L428.99,139.90 L429.67,157.31 L430.35,132.01 L431.02,132.21 L431.69,138.91 L432.36,136.75 L433.03,127.21 L433.69,139.72 L434.36,126.93 L435.02,133.80 L435.68,143.65 L436.34,127.51 L437.00,133.87 L437.66,147.31 L438.32,134.89 L438.97,128.21 L439.63,132.16 L440.28,140.59 L440.94,125.72 L441.59,129.61 L442.24,124.95 L442.90,128.69 L443.55,145.20 L444.20,137.38 L444.85,134.51 L445.50,139.47 L446.15,131.76 L446.80,129.41 L447.45,145.73 L448.10,144.51 L448.75,133.34 L449.40,143.74 L450.05,143.76" fill="none" stroke="#2fb47c" stroke-width="1.5" stroke-linejoin="round" stroke-linecap="butt" />
<path d="M273.30,110.14 L273.80,110.14 L274.30,110.14 L274.80,110.14 L275.30,110.14 L275.80,110.14 L276.30,110.14 L276.80,110.14 L277.30,109.99 L277.80,109.26 L278.30,108.27 L278.80,107.14 L279.30,105.98 L279.80,104.92 L280.30,104.07 L280.80,103.56 L281.30,103.49 L281.80,103.86 L282.30,104.53 L282.80,105.34 L283.30,106.15 L283.80,106.81 L284.30,107.16 L284.80,107.03 L285.30,106.32 L285.80,105.23 L286.30,104.00 L286.80,102.87 L287.30,102.07 L287.80,101.85 L288.30,102.46 L288.80,104.02 L289.30,106.22 L289.80,108.73 L290.30,111.20 L290.80,113.30 L291.30,114.71 L291.80,115.19 L292.30,114.95 L292.80,114.23 L293.30,113.32 L293.80,112.48 L294.30,111.98 L294.80,112.10 L295.30,112.89 L295.80,114.10 L296.30,115.46 L296.80,116.70 L297.30,117.53 L297.80,117.69 L298.30,116.91 L298.80,115.44 L299.30,113.63 L299.80,111.86 L300.30,110.51 L300.80,109.94 L301.30,110.43 L301.80,111.71 L302.30,113.31 L302.80,114.79 L303.30,115.70 L303.80,115.60 L304.30,114.24 L304.80,112.07 L305.30,109.62 L305.80,107.41 L306.30,105.97 L306.80,105.69 L307.30,106.27 L307.80,107.40 L308.30,108.82 L308.80,110.25 L309.30,111.42 L309.80,112.64 L310.30,113.94 L310.80,115.20 L311.30,116.27 L311.80,117.03 L312.30,117.44 L312.80,117.55 L313.30,117.45 L313.80,117.22 L314.30,116.92 L314.80,116.59 L315.30,116.15 L315.80,115.61 L316.30,114.93 L316.80,114.11 L317.30,112.77 L317.80,110.83 L318.30,108.96 L318.80,107.79 L319.30,107.97 L319.80,110.20 L320.30,113.85 L320.80,117.85 L321.30,121.15 L321.80,122.81 L322.30,123.05 L322.80,122.51 L323.30,121.79 L323.80,121.48 L324.30,121.85 L324.80,122.51 L325.30,123.25 L325.80,123.84 L326.30,124.14 L326.80,124.37 L327.30,124.44 L327.80,124.18 L328.30,123.43 L328.80,121.69 L329.30,119.43 L329.80,117.44 L330.27,116.50 L332.31,121.54 L334.29,132.29 L336.22,116.02 L338.10,120.14 L339.94,117.57 L340.00,117.74 L340.50,120.72 L341.00,124.95 L341.50,128.30 L341.74,128.96 L342.00,128.84 L342.50,126.92 L343.00,123.92 L343.49,121.26 L343.50,121.21 L344.00,118.79 L344.50,116.32 L345.00,114.41 L345.21,113.93 L345.50,113.72 L346.00,114.33 L346.50,115.16 L346.88,115.23 L347.00,115.08 L347.50,113.97 L348.00,112.37 L348.50,110.69 L348.53,110.59 L349.00,108.89 L349.50,106.94 L350.00,105.30 L350.13,104.98 L350.50,104.08 L351.00,103.08 L351.50,103.04 L351.70,103.48 L352.00,104.98 L352.50,109.10 L353.00,113.11 L353.24,114.29 L353.50,114.78 L354.00,114.30 L354.50,113.42 L354.75,113.35 L355.00,113.67 L355.50,114.61 L356.00,114.56 L356.23,114.03 L356.50,113.03 L357.00,110.77 L357.50,108.98 L357.69,108.64 L358.00,108.49 L358.50,108.88 L359.00,109.68 L359.11,109.89 L359.50,110.93 L360.00,112.72 L360.50,114.61 L360.51,114.65 L361.00,115.72 L361.50,114.63 L361.88,113.19 L362.00,112.97 L362.50,112.72 L363.00,113.93 L363.23,115.05 L363.50,117.21 L364.00,123.21 L364.50,129.08 L364.55,129.53 L365.00,133.83 L365.50,137.48 L365.85,137.61 L366.00,136.61 L366.50,129.12 L367.00,120.64 L367.13,119.13 L367.50,116.00 L368.00,113.49 L368.39,113.05 L368.50,113.27 L369.00,116.47 L369.50,120.36 L369.63,120.98 L370.00,121.75 L370.50,121.87 L370.85,122.39 L371.00,123.00 L371.50,126.16 L372.00,127.96 L372.04,127.92 L372.50,124.88 L373.00,119.94 L373.22,118.80 L373.50,118.87 L374.00,121.08 L374.39,122.47 L374.50,122.62 L375.00,122.93 L375.50,122.11 L375.53,122.01 L376.00,118.92 L376.50,115.07 L376.66,114.37 L377.00,113.60 L377.50,113.93 L377.77,115.13 L378.87,127.86 L379.95,129.20 L381.02,122.96 L382.07,136.31 L383.11,134.07 L384.14,130.92 L385.15,131.46 L386.15,130.41 L387.14,132.85 L388.12,133.60 L389.08,127.19 L390.04,114.66 L390.98,124.63 L391.92,121.71 L392.84,120.47 L393.75,129.91 L394.66,118.25 L395.55,132.17 L396.44,124.44 L397.32,119.84 L398.19,124.46 L399.05,145.11 L399.90,140.86 L400.75,129.87 L401.59,138.06 L402.42,141.83 L403.24,125.58 L404.06,128.34 L404.87,136.54 L405.68,133.61 L406.48,129.86 L407.27,141.76 L408.06,136.33 L408.84,138.82 L409.61,148.33 L410.38,138.85 L411.15,149.97 L411.91,135.71 L412.66,131.00 L413.41,133.31 L414.16,138.58 L414.90,137.63 L415.64,134.03 L416.37,121.59 L417.10,123.53 L417.82,130.42 L418.55,138.77 L419.26,141.41 L419.98,117.50 L420.69,129.59 L421.40,129.80 L422.10,132.33 L422.80,134.05 L423.50,126.63 L424.20,124.60 L424.89,140.34 L425.58,139.66 L426.27,131.61 L426.95,132.30 L427.64,128.00 L428.32,124.42 L428.99,137.18 L429.67,129.46 L430.35,125.65 L431.02,131.03 L431.69,146.40 L432.36,139.83 L433.03,137.29 L433.69,136.88 L434.36,142.27 L435.02,140.32 L435.68,126.72 L436.34,132.23 L437.00,131.13 L437.66,136.82 L438.32,133.94 L438.97,122.69 L439.63,142.98 L440.28,137.75 L440.94,125.17 L441.59,143.36 L442.24,139.01 L442.90,140.31 L443.55,137.63 L444.20,137.68 L444.85,131.98 L445.50,123.95 L446.15,131.33 L446.80,138.10 L447.45,138.46 L448.10,142.24 L448.75,135.47 L449.40,121.78 L450.05,121.79" fill="none" stroke="#6ccd5a" stroke-width="1.5" stroke-linejoin="round" stroke-linecap="butt" />
<path d="M273.30,101.18 L273.80,101.18 L274.30,101.18 L274.80,101.18 L275.30,101.18 L275.80,101.18 L276.30,101.18 L276.80,101.18 L277.30,101.25 L277.80,101.66 L278.30,102.30 L278.80,103.06 L279.30,103.86 L279.80,104.60 L280.30,105.19 L280.80,105.54 L281.30,105.54 L281.80,105.19 L282.30,104.61 L282.80,103.94 L283.30,103.32 L283.80,102.88 L284.30,102.75 L284.80,103.09 L285.30,103.94 L285.80,105.16 L286.30,106.55 L286.80,107.93 L287.30,109.14 L287.80,109.98 L288.30,110.27 L288.80,109.94 L289.30,109.20 L289.80,108.31 L290.30,107.51 L290.80,107.07 L291.30,107.23 L291.80,108.31 L292.30,110.30 L292.80,112.79 L293.30,115.38 L293.80,117.66 L294.30,119.24 L294.80,119.73 L295.30,119.12 L295.80,117.72 L296.30,115.87 L296.80,113.90 L297.30,112.17 L297.80,110.98 L298.30,110.24 L298.80,109.72 L299.30,109.37 L299.80,109.12 L300.30,108.89 L300.80,108.63 L301.30,108.43 L301.80,108.36 L302.30,108.31 L302.80,108.17 L303.30,107.87 L303.80,107.26 L304.30,106.12 L304.80,104.63 L305.30,103.10 L305.80,101.83 L306.30,101.11 L306.80,101.23 L307.30,102.12 L307.80,103.47 L308.30,104.99 L308.80,106.36 L309.30,107.29 L309.80,107.89 L310.30,108.31 L310.80,108.61 L311.30,108.88 L311.80,109.17 L312.30,109.63 L312.80,110.21 L313.30,110.71 L313.80,110.94 L314.30,110.72 L314.80,109.60 L315.30,107.55 L315.80,105.27 L316.30,103.48 L316.80,102.89 L317.30,104.02 L317.80,106.44 L318.30,109.50 L318.80,112.56 L319.30,114.98 L319.80,117.13 L320.30,119.22 L320.80,120.94 L321.30,121.96 L321.80,121.92 L322.30,120.46 L322.80,118.22 L323.30,115.99 L323.80,114.53 L324.30,114.18 L324.80,114.47 L325.30,115.10 L325.80,115.78 L326.30,116.34 L326.80,117.15 L327.30,117.98 L327.80,118.48 L328.30,118.31 L328.80,117.10 L329.30,115.31 L329.80,113.62 L330.27,112.71 L332.31,115.16 L334.29,122.88 L336.22,118.99 L338.10,110.54 L339.94,109.58 L340.00,109.96 L340.50,115.62 L341.00,123.29 L341.50,129.56 L341.74,131.08 L342.00,131.44 L342.50,129.57 L343.00,125.92 L343.49,122.48 L343.50,122.42 L344.00,118.69 L344.50,114.52 L345.00,111.62 L345.21,111.20 L345.50,111.64 L346.00,114.47 L346.50,118.17 L346.88,120.32 L347.00,120.80 L347.50,122.61 L348.00,123.92 L348.50,124.47 L348.53,124.47 L349.00,124.05 L349.50,122.81 L350.00,121.02 L350.13,120.51 L350.50,118.14 L351.00,113.88 L351.50,111.33 L351.70,111.51 L352.00,113.81 L352.50,121.28 L353.00,128.49 L353.24,130.23 L353.50,130.53 L354.00,128.49 L354.50,125.22 L354.75,123.84 L355.00,122.58 L355.50,119.89 L356.00,117.62 L356.23,116.90 L356.50,116.43 L357.00,116.13 L357.50,115.69 L357.69,115.40 L358.00,114.77 L358.50,113.72 L359.00,113.04 L359.11,113.00 L359.50,113.12 L360.00,113.76 L360.50,115.01 L360.51,115.05 L361.00,117.48 L361.50,120.51 L361.88,121.87 L362.00,121.83 L362.50,118.22 L363.00,113.05 L363.23,112.35 L363.50,113.97 L364.00,121.10 L364.50,127.55 L364.55,127.89 L365.00,128.82 L365.50,127.70 L365.85,127.27 L366.00,127.38 L366.50,128.17 L367.00,129.16 L367.13,129.38 L367.50,129.89 L368.00,130.56 L368.39,131.32 L368.50,131.63 L369.00,133.53 L369.50,135.26 L369.63,135.52 L370.00,135.86 L370.50,135.67 L370.85,135.14 L371.00,134.82 L371.50,133.27 L372.00,131.15 L372.04,130.97 L372.50,127.85 L373.00,124.45 L373.22,123.81 L373.50,124.39 L374.00,127.51 L374.39,128.76 L374.50,128.56 L375.00,125.67 L375.50,122.38 L375.53,122.25 L376.00,120.35 L376.50,119.45 L376.66,119.69 L377.00,121.70 L377.50,126.36 L377.77,128.19 L378.87,129.55 L379.95,132.29 L381.02,114.46 L382.07,129.22 L383.11,131.61 L384.14,129.44 L385.15,135.98 L386.15,123.32 L387.14,128.75 L388.12,125.66 L389.08,126.80 L390.04,121.81 L390.98,127.16 L391.92,132.78 L392.84,130.23 L393.75,130.52 L394.66,125.58 L395.55,138.21 L396.44,126.06 L397.32,129.48 L398.19,133.29 L399.05,129.65 L399.90,134.85 L400.75,133.33 L401.59,141.99 L402.42,135.69 L403.24,132.92 L404.06,126.00 L404.87,133.97 L405.68,138.28 L406.48,133.82 L407.27,124.87 L408.06,126.70 L408.84,129.45 L409.61,130.34 L410.38,123.98 L411.15,143.12 L411.91,132.90 L412.66,132.36 L413.41,129.25 L414.16,133.26 L414.90,144.53 L415.64,127.26 L416.37,127.45 L417.10,124.83 L417.82,129.50 L418.55,142.40 L419.26,129.77 L419.98,128.01 L420.69,120.28 L421.40,129.67 L422.10,134.40 L422.80,130.20 L423.50,131.34 L424.20,139.57 L424.89,138.29 L425.58,133.25 L426.27,127.49 L426.95,124.75 L427.64,143.55 L428.32,125.93 L428.99,137.73 L429.67,133.46 L430.35,130.53 L431.02,140.02 L431.69,131.96 L432.36,142.65 L433.03,129.81 L433.69,139.27 L434.36,144.26 L435.02,132.01 L435.68,150.64 L436.34,142.06 L437.00,122.56 L437.66,145.89 L438.32,150.93 L438.97,136.25 L439.63,135.38 L440.28,137.58 L440.94,123.82 L441.59,137.23 L442.24,143.43 L442.90,135.13 L443.55,146.82 L444.20,152.50 L444.85,123.83 L445.50,122.25 L446.15,131.61 L446.80,142.15 L447.45,140.51 L448.10,130.79 L448.75,128.49 L449.40,133.50 L450.05,133.53" fill="none" stroke="#c2df23" stroke-width="1.5" stroke-linejoin="round" stroke-linecap="butt" />
</g>
<rect x="275.30" y="14.30" width="173.30" height="139.10" fill="none" stroke="#858585" stroke-width="0.9"/>
<line x1="370.30" y1="98.00" x2="370.30" y2="50.00" stroke="#3f4c62" stroke-width="1.4" />
<path d="M367.4,51.5 L370.3,44.6 L373.2,51.5 Z" fill="#3f4c62"/>
<text x="373.80" y="78.60" font-size="10.2" text-anchor="start" fill="#262626" font-weight="normal" font-style="italic" >P</text>
<text x="380.60" y="81.40" font-size="6.6" text-anchor="start" fill="#262626" font-weight="normal" font-style="normal" >i</text>
<text x="294.45" y="167.40" font-size="9.6" fill="#262626" textLength="134.60" lengthAdjust="spacingAndGlyphs">log<tspan font-size="6.5" dy="2.4">10</tspan><tspan dy="-2.4">[frequency (arb. units)]</tspan></text>
<text x="-55.75" y="0" font-size="9.6" fill="#262626" textLength="111.50" lengthAdjust="spacingAndGlyphs" transform="translate(263.90,83.60) rotate(-90)">log<tspan font-size="6.5" dy="2.4">10</tspan><tspan dy="-2.4">[</tspan><tspan font-style="italic">S</tspan><tspan font-size="6.5" dy="2.4">tot</tspan><tspan dy="-2.4">(</tspan><tspan font-style="italic">f</tspan><tspan>) (arb. units)]</tspan></text>
<text x="467.40" y="11.30" font-size="15" font-weight="bold" fill="#000" style="stroke:#000;stroke-width:0.9px">c</text>
<rect x="505.00" y="13.50" width="173.30" height="139.20" fill="none" stroke="#858585" stroke-width="0.9"/>
<line x1="502.60" y1="146.94" x2="505.00" y2="146.94" stroke="#4a4a4a" stroke-width="0.75" />
<line x1="502.60" y1="142.43" x2="505.00" y2="142.43" stroke="#4a4a4a" stroke-width="0.75" />
<line x1="502.60" y1="138.74" x2="505.00" y2="138.74" stroke="#4a4a4a" stroke-width="0.75" />
<line x1="502.60" y1="135.62" x2="505.00" y2="135.62" stroke="#4a4a4a" stroke-width="0.75" />
<line x1="502.60" y1="132.92" x2="505.00" y2="132.92" stroke="#4a4a4a" stroke-width="0.75" />
<line x1="502.60" y1="130.53" x2="505.00" y2="130.53" stroke="#4a4a4a" stroke-width="0.75" />
<line x1="501.00" y1="128.40" x2="505.00" y2="128.40" stroke="#4a4a4a" stroke-width="0.75" />
<line x1="502.60" y1="114.37" x2="505.00" y2="114.37" stroke="#4a4a4a" stroke-width="0.75" />
<line x1="502.60" y1="106.17" x2="505.00" y2="106.17" stroke="#4a4a4a" stroke-width="0.75" />
<line x1="502.60" y1="100.34" x2="505.00" y2="100.34" stroke="#4a4a4a" stroke-width="0.75" />
<line x1="502.60" y1="95.83" x2="505.00" y2="95.83" stroke="#4a4a4a" stroke-width="0.75" />
<line x1="502.60" y1="92.14" x2="505.00" y2="92.14" stroke="#4a4a4a" stroke-width="0.75" />
<line x1="502.60" y1="89.02" x2="505.00" y2="89.02" stroke="#4a4a4a" stroke-width="0.75" />
<line x1="502.60" y1="86.32" x2="505.00" y2="86.32" stroke="#4a4a4a" stroke-width="0.75" />
<line x1="502.60" y1="83.93" x2="505.00" y2="83.93" stroke="#4a4a4a" stroke-width="0.75" />
<line x1="501.00" y1="81.80" x2="505.00" y2="81.80" stroke="#4a4a4a" stroke-width="0.75" />
<line x1="502.60" y1="67.77" x2="505.00" y2="67.77" stroke="#4a4a4a" stroke-width="0.75" />
<line x1="502.60" y1="59.57" x2="505.00" y2="59.57" stroke="#4a4a4a" stroke-width="0.75" />
<line x1="502.60" y1="53.74" x2="505.00" y2="53.74" stroke="#4a4a4a" stroke-width="0.75" />
<line x1="502.60" y1="49.23" x2="505.00" y2="49.23" stroke="#4a4a4a" stroke-width="0.75" />
<line x1="502.60" y1="45.54" x2="505.00" y2="45.54" stroke="#4a4a4a" stroke-width="0.75" />
<line x1="502.60" y1="42.42" x2="505.00" y2="42.42" stroke="#4a4a4a" stroke-width="0.75" />
<line x1="502.60" y1="39.72" x2="505.00" y2="39.72" stroke="#4a4a4a" stroke-width="0.75" />
<line x1="502.60" y1="37.33" x2="505.00" y2="37.33" stroke="#4a4a4a" stroke-width="0.75" />
<line x1="501.00" y1="35.20" x2="505.00" y2="35.20" stroke="#4a4a4a" stroke-width="0.75" />
<line x1="502.60" y1="21.17" x2="505.00" y2="21.17" stroke="#4a4a4a" stroke-width="0.75" />
<text x="483.87" y="131.30" font-size="9.3" fill="#262626" textLength="9.62" lengthAdjust="spacingAndGlyphs">10</text>
<text x="493.79" y="126.60" font-size="6.5" fill="#262626" style="stroke-width:0">0</text>
<text x="483.87" y="84.70" font-size="9.3" fill="#262626" textLength="9.62" lengthAdjust="spacingAndGlyphs">10</text>
<text x="493.79" y="80.00" font-size="6.5" fill="#262626" style="stroke-width:0">1</text>
<text x="483.87" y="38.10" font-size="9.3" fill="#262626" textLength="9.62" lengthAdjust="spacingAndGlyphs">10</text>
<text x="493.79" y="33.40" font-size="6.5" fill="#262626" style="stroke-width:0">2</text>
<g clip-path="url(#cc)">
<line x1="509.80" y1="128.90" x2="591.00" y2="128.90" stroke="#ff1a1a" stroke-width="1.8" stroke-dasharray="10.2,3.8"/>
<line x1="575.70" y1="139.90" x2="671.40" y2="17.30" stroke="#ff1a1a" stroke-width="1.8" stroke-dasharray="10.2,3.8"/>
<circle cx="523.6" cy="128.8" r="2.6" fill="#2270d8" stroke="#fff" stroke-width="0.5"/>
<circle cx="539.4" cy="128.8" r="2.6" fill="#2270d8" stroke="#fff" stroke-width="0.5"/>
<circle cx="555.2" cy="128.8" r="2.6" fill="#2270d8" stroke="#fff" stroke-width="0.5"/>
<circle cx="571.0" cy="128.8" r="2.6" fill="#2270d8" stroke="#fff" stroke-width="0.5"/>
<circle cx="586.8" cy="120.1" r="2.6" fill="#2270d8" stroke="#fff" stroke-width="0.5"/>
<circle cx="602.6" cy="104.5" r="2.6" fill="#2270d8" stroke="#fff" stroke-width="0.5"/>
<circle cx="618.3" cy="81.9" r="2.6" fill="#2270d8" stroke="#fff" stroke-width="0.5"/>
<circle cx="634.1" cy="61.4" r="2.6" fill="#2270d8" stroke="#fff" stroke-width="0.5"/>
<circle cx="649.8" cy="40.8" r="2.6" fill="#2270d8" stroke="#fff" stroke-width="0.5"/>
<circle cx="665.6" cy="23.0" r="2.6" fill="#2270d8" stroke="#fff" stroke-width="0.5"/>
</g>
<line x1="584.20" y1="128.40" x2="584.20" y2="146.00" stroke="#3f4c62" stroke-width="1.4" />
<path d="M581.8,145.3 L584.2,152.3 L586.6,145.3 Z" fill="#3f4c62"/>
<text x="588.15" y="143.70" font-size="9.4" fill="#262626" textLength="19.40" lengthAdjust="spacingAndGlyphs">NEP</text>
<text x="515.25" y="167.40" font-size="9.6" fill="#262626" textLength="152.20" lengthAdjust="spacingAndGlyphs">log<tspan font-size="6.5" dy="2.4">10</tspan><tspan dy="-2.4">[optical power (arb. units)]</tspan></text>
<text x="-48.95" y="0" font-size="9.6" fill="#262626" textLength="97.90" lengthAdjust="spacingAndGlyphs" transform="translate(476.30,83.20) rotate(-90)">Signal-to-noise ratio</text>
<text x="0.40" y="209.30" font-size="15" font-weight="bold" fill="#000" style="stroke:#000;stroke-width:0.9px">d</text>
<rect x="39.80" y="218.40" width="173.70" height="139.10" fill="none" stroke="#858585" stroke-width="0.9"/>
<line x1="39.80" y1="357.50" x2="39.80" y2="361.70" stroke="#4a4a4a" stroke-width="0.75" />
<line x1="52.87" y1="357.50" x2="52.87" y2="360.70" stroke="#4a4a4a" stroke-width="0.75" />
<line x1="60.52" y1="357.50" x2="60.52" y2="360.70" stroke="#4a4a4a" stroke-width="0.75" />
<line x1="65.94" y1="357.50" x2="65.94" y2="360.70" stroke="#4a4a4a" stroke-width="0.75" />
<line x1="70.15" y1="357.50" x2="70.15" y2="360.70" stroke="#4a4a4a" stroke-width="0.75" />
<line x1="73.59" y1="357.50" x2="73.59" y2="360.70" stroke="#4a4a4a" stroke-width="0.75" />
<line x1="76.50" y1="357.50" x2="76.50" y2="360.70" stroke="#4a4a4a" stroke-width="0.75" />
<line x1="79.02" y1="357.50" x2="79.02" y2="360.70" stroke="#4a4a4a" stroke-width="0.75" />
<line x1="81.24" y1="357.50" x2="81.24" y2="360.70" stroke="#4a4a4a" stroke-width="0.75" />
<line x1="83.22" y1="357.50" x2="83.22" y2="361.70" stroke="#4a4a4a" stroke-width="0.75" />
<line x1="96.30" y1="357.50" x2="96.30" y2="360.70" stroke="#4a4a4a" stroke-width="0.75" />
<line x1="103.94" y1="357.50" x2="103.94" y2="360.70" stroke="#4a4a4a" stroke-width="0.75" />
<line x1="109.37" y1="357.50" x2="109.37" y2="360.70" stroke="#4a4a4a" stroke-width="0.75" />
<line x1="113.58" y1="357.50" x2="113.58" y2="360.70" stroke="#4a4a4a" stroke-width="0.75" />
<line x1="117.02" y1="357.50" x2="117.02" y2="360.70" stroke="#4a4a4a" stroke-width="0.75" />
<line x1="119.92" y1="357.50" x2="119.92" y2="360.70" stroke="#4a4a4a" stroke-width="0.75" />
<line x1="122.44" y1="357.50" x2="122.44" y2="360.70" stroke="#4a4a4a" stroke-width="0.75" />
<line x1="124.66" y1="357.50" x2="124.66" y2="360.70" stroke="#4a4a4a" stroke-width="0.75" />
<line x1="126.65" y1="357.50" x2="126.65" y2="361.70" stroke="#4a4a4a" stroke-width="0.75" />
<line x1="139.72" y1="357.50" x2="139.72" y2="360.70" stroke="#4a4a4a" stroke-width="0.75" />
<line x1="147.37" y1="357.50" x2="147.37" y2="360.70" stroke="#4a4a4a" stroke-width="0.75" />
<line x1="152.79" y1="357.50" x2="152.79" y2="360.70" stroke="#4a4a4a" stroke-width="0.75" />
<line x1="157.00" y1="357.50" x2="157.00" y2="360.70" stroke="#4a4a4a" stroke-width="0.75" />
<line x1="160.44" y1="357.50" x2="160.44" y2="360.70" stroke="#4a4a4a" stroke-width="0.75" />
<line x1="163.35" y1="357.50" x2="163.35" y2="360.70" stroke="#4a4a4a" stroke-width="0.75" />
<line x1="165.87" y1="357.50" x2="165.87" y2="360.70" stroke="#4a4a4a" stroke-width="0.75" />
<line x1="168.09" y1="357.50" x2="168.09" y2="360.70" stroke="#4a4a4a" stroke-width="0.75" />
<line x1="170.07" y1="357.50" x2="170.07" y2="361.70" stroke="#4a4a4a" stroke-width="0.75" />
<line x1="183.15" y1="357.50" x2="183.15" y2="360.70" stroke="#4a4a4a" stroke-width="0.75" />
<line x1="190.79" y1="357.50" x2="190.79" y2="360.70" stroke="#4a4a4a" stroke-width="0.75" />
<line x1="196.22" y1="357.50" x2="196.22" y2="360.70" stroke="#4a4a4a" stroke-width="0.75" />
<line x1="200.43" y1="357.50" x2="200.43" y2="360.70" stroke="#4a4a4a" stroke-width="0.75" />
<line x1="203.87" y1="357.50" x2="203.87" y2="360.70" stroke="#4a4a4a" stroke-width="0.75" />
<line x1="206.77" y1="357.50" x2="206.77" y2="360.70" stroke="#4a4a4a" stroke-width="0.75" />
<line x1="209.29" y1="357.50" x2="209.29" y2="360.70" stroke="#4a4a4a" stroke-width="0.75" />
<line x1="211.51" y1="357.50" x2="211.51" y2="360.70" stroke="#4a4a4a" stroke-width="0.75" />
<line x1="213.50" y1="357.50" x2="213.50" y2="361.70" stroke="#4a4a4a" stroke-width="0.75" />
<text x="33.03" y="373.40" font-size="9.3" fill="#262626" textLength="9.62" lengthAdjust="spacingAndGlyphs">10</text>
<text x="42.95" y="368.70" font-size="6.5" fill="#262626" style="stroke-width:0">0</text>
<text x="76.46" y="373.40" font-size="9.3" fill="#262626" textLength="9.62" lengthAdjust="spacingAndGlyphs">10</text>
<text x="86.38" y="368.70" font-size="6.5" fill="#262626" style="stroke-width:0">1</text>
<text x="119.88" y="373.40" font-size="9.3" fill="#262626" textLength="9.62" lengthAdjust="spacingAndGlyphs">10</text>
<text x="129.80" y="368.70" font-size="6.5" fill="#262626" style="stroke-width:0">2</text>
<text x="163.31" y="373.40" font-size="9.3" fill="#262626" textLength="9.62" lengthAdjust="spacingAndGlyphs">10</text>
<text x="173.23" y="368.70" font-size="6.5" fill="#262626" style="stroke-width:0">3</text>
<text x="206.73" y="373.40" font-size="9.3" fill="#262626" textLength="9.62" lengthAdjust="spacingAndGlyphs">10</text>
<text x="216.65" y="368.70" font-size="6.5" fill="#262626" style="stroke-width:0">4</text>
<text x="89.85" y="388.50" font-size="9.6" fill="#262626" textLength="73.60" lengthAdjust="spacingAndGlyphs">Frequency (Hz)</text>
<path d="M39.80,232.70 L40.24,233.47 L40.67,234.24 L41.11,235.01 L41.54,235.78 L41.98,236.54 L42.41,237.31 L42.85,238.07 L43.28,238.84 L43.72,239.60 L44.15,240.36 L44.59,241.12 L45.02,241.88 L45.46,242.64 L45.89,243.40 L46.33,244.16 L46.77,244.92 L47.20,245.67 L47.64,246.42 L48.07,247.18 L48.51,247.93 L48.94,248.68 L49.38,249.43 L49.81,250.18 L50.25,250.92 L50.68,251.67 L51.12,252.41 L51.55,253.16 L51.99,253.90 L52.42,254.64 L52.86,255.38 L53.30,256.12 L53.73,256.85 L54.17,257.59 L54.60,258.32 L55.04,259.05 L55.47,259.78 L55.91,260.51 L56.34,261.24 L56.78,261.96 L57.21,262.69 L57.65,263.41 L58.08,264.13 L58.52,264.85 L58.95,265.56 L59.39,266.28 L59.83,266.99 L60.26,267.70 L60.70,268.41 L61.13,269.12 L61.57,269.82 L62.00,270.53 L62.44,271.23 L62.87,271.92 L63.31,272.62 L63.74,273.32 L64.18,274.01 L64.61,274.70 L65.05,275.39 L65.48,276.07 L65.92,276.75 L66.36,277.43 L66.79,278.11 L67.23,278.79 L67.66,279.46 L68.10,280.13 L68.53,280.80 L68.97,281.46 L69.40,282.13 L69.84,282.79 L70.27,283.44 L70.71,284.10 L71.14,284.75 L71.58,285.40 L72.02,286.04 L72.45,286.68 L72.89,287.32 L73.32,287.96 L73.76,288.59 L74.19,289.22 L74.63,289.85 L75.06,290.47 L75.50,291.09 L75.93,291.71 L76.37,292.32 L76.80,292.93 L77.24,293.54 L77.67,294.14 L78.11,294.74 L78.55,295.34 L78.98,295.93 L79.42,296.52 L79.85,297.11 L80.29,297.69 L80.72,298.27 L81.16,298.84 L81.59,299.41 L82.03,299.98 L82.46,300.54 L82.90,301.10 L83.33,301.66 L83.77,302.21 L84.20,302.75 L84.64,303.29 L85.08,303.83 L85.51,304.37 L85.95,304.90 L86.38,305.42 L86.82,305.95 L87.25,306.46 L87.69,306.98 L88.12,307.49 L88.56,307.99 L88.99,308.49 L89.43,308.99 L89.86,309.48 L90.30,309.96 L90.73,310.45 L91.17,310.93 L91.61,311.40 L92.04,311.87 L92.48,312.33 L92.91,312.79 L93.35,313.25 L93.78,313.70 L94.22,314.14 L94.65,314.59 L95.09,315.02 L95.52,315.46 L95.96,315.88 L96.39,316.31 L96.83,316.73 L97.26,317.14 L97.70,317.55 L98.14,317.95 L98.57,318.35 L99.01,318.75 L99.44,319.14 L99.88,319.52 L100.31,319.91 L100.75,320.28 L101.18,320.66 L101.62,321.02 L102.05,321.39 L102.49,321.74 L102.92,322.10 L103.36,322.45 L103.79,322.79 L104.23,323.13 L104.67,323.47 L105.10,323.80 L105.54,324.12 L105.97,324.45 L106.41,324.76 L106.84,325.08 L107.28,325.39 L107.71,325.69 L108.15,325.99 L108.58,326.29 L109.02,326.58 L109.45,326.86 L109.89,327.15 L110.32,327.43 L110.76,327.70 L111.20,327.97 L111.63,328.24 L112.07,328.50 L112.50,328.76 L112.94,329.01 L113.37,329.26 L113.81,329.51 L114.24,329.75 L114.68,329.99 L115.11,330.22 L115.55,330.45 L115.98,330.68 L116.42,330.90 L116.85,331.12 L117.29,331.34 L117.73,331.55 L118.16,331.76 L118.60,331.96 L119.03,332.16 L119.47,332.36 L119.90,332.56 L120.34,332.75 L120.77,332.93 L121.21,333.12 L121.64,333.30 L122.08,333.48 L122.51,333.65 L122.95,333.82 L123.38,333.99 L123.82,334.16 L124.26,334.32 L124.69,334.48 L125.13,334.64 L125.56,334.79 L126.00,334.94 L126.43,335.09 L126.87,335.23 L127.30,335.38 L127.74,335.52 L128.17,335.65 L128.61,335.79 L129.04,335.92 L129.48,336.05 L129.92,336.18 L130.35,336.30 L130.79,336.42 L131.22,336.54 L131.66,336.66 L132.09,336.78 L132.53,336.89 L132.96,337.00 L133.40,337.11 L133.83,337.21 L134.27,337.32 L134.70,337.42 L135.14,337.52 L135.57,337.62 L136.01,337.71 L136.45,337.81 L136.88,337.90 L137.32,337.99 L137.75,338.08 L138.19,338.17 L138.62,338.25 L139.06,338.33 L139.49,338.42 L139.93,338.50 L140.36,338.57 L140.80,338.65 L141.23,338.73 L141.67,338.80 L142.10,338.87 L142.54,338.94 L142.98,339.01 L143.41,339.08 L143.85,339.14 L144.28,339.21 L144.72,339.27 L145.15,339.33 L145.59,339.40 L146.02,339.45 L146.46,339.51 L146.89,339.57 L147.33,339.63 L147.76,339.68 L148.20,339.73 L148.63,339.79 L149.07,339.84 L149.51,339.89 L149.94,339.94 L150.38,339.98 L150.81,340.03 L151.25,340.08 L151.68,340.12 L152.12,340.17 L152.55,340.21 L152.99,340.25 L153.42,340.29 L153.86,340.33 L154.29,340.37 L154.73,340.41 L155.16,340.45 L155.60,340.48 L156.04,340.52 L156.47,340.56 L156.91,340.59 L157.34,340.62 L157.78,340.66 L158.21,340.69 L158.65,340.72 L159.08,340.75 L159.52,340.78 L159.95,340.81 L160.39,340.84 L160.82,340.87 L161.26,340.90 L161.69,340.92 L162.13,340.95 L162.57,340.98 L163.00,341.00 L163.44,341.03 L163.87,341.05 L164.31,341.07 L164.74,341.10 L165.18,341.12 L165.61,341.14 L166.05,341.16 L166.48,341.18 L166.92,341.20 L167.35,341.22 L167.79,341.24 L168.22,341.26 L168.66,341.28 L169.10,341.30 L169.53,341.32 L169.97,341.34 L170.40,341.35 L170.84,341.37 L171.27,341.39 L171.71,341.40 L172.14,341.42 L172.58,341.43 L173.01,341.45 L173.45,341.46 L173.88,341.48 L174.32,341.49 L174.75,341.51 L175.19,341.52 L175.63,341.53 L176.06,341.55 L176.50,341.56 L176.93,341.57 L177.37,341.58 L177.80,341.59 L178.24,341.61 L178.67,341.62 L179.11,341.63 L179.54,341.64 L179.98,341.65 L180.41,341.66 L180.85,341.67 L181.28,341.68 L181.72,341.69 L182.16,341.70 L182.59,341.71 L183.03,341.72 L183.46,341.72 L183.90,341.73 L184.33,341.74 L184.77,341.75 L185.20,341.76 L185.64,341.77 L186.07,341.77 L186.51,341.78 L186.94,341.79 L187.38,341.79 L187.82,341.80 L188.25,341.81 L188.69,341.82 L189.12,341.82 L189.56,341.83 L189.99,341.83 L190.43,341.84 L190.86,341.85 L191.30,341.85 L191.73,341.86 L192.17,341.86 L192.60,341.87 L193.04,341.87 L193.47,341.88 L193.91,341.88 L194.35,341.89 L194.78,341.89 L195.22,341.90 L195.65,341.90 L196.09,341.91 L196.52,341.91 L196.96,341.92 L197.39,341.92 L197.83,341.92 L198.26,341.93 L198.70,341.93 L199.13,341.94 L199.57,341.94 L200.00,341.94 L200.44,341.95 L200.88,341.95 L201.31,341.95 L201.75,341.96 L202.18,341.96 L202.62,341.96 L203.05,341.97 L203.49,341.97 L203.92,341.97 L204.36,341.98 L204.79,341.98 L205.23,341.98 L205.66,341.98 L206.10,341.99 L206.53,341.99 L206.97,341.99 L207.41,341.99 L207.84,342.00 L208.28,342.00 L208.71,342.00 L209.15,342.00 L209.58,342.01 L210.02,342.01 L210.45,342.01 L210.89,342.01 L211.32,342.01 L211.76,342.02 L212.19,342.02 L212.63,342.02 L213.06,342.02 L213.50,342.02" fill="none" stroke="#4b3f93" stroke-width="1.5" stroke-linejoin="round" stroke-linecap="butt" />
<text x="-55.50" y="0" font-size="9.6" fill="#262626" textLength="111.00" lengthAdjust="spacingAndGlyphs" transform="translate(27.00,287.85) rotate(-90)">log<tspan font-size="6.5" dy="2.4">10</tspan><tspan dy="-2.4">[</tspan><tspan font-style="italic">S</tspan><tspan font-size="6.5" dy="2.4">tot</tspan><tspan dy="-2.4">(</tspan><tspan font-style="italic">f</tspan><tspan>) (arb. units)]</tspan></text>
<text x="234.20" y="209.80" font-size="15" font-weight="bold" fill="#000" style="stroke:#000;stroke-width:0.9px">e</text>
<g clip-path="url(#ce)">
<path d="M275.30,236.09 L275.73,237.45 L276.17,238.80 L276.60,240.14 L277.04,241.46 L277.47,242.77 L277.91,244.06 L278.34,245.34 L278.77,246.61 L279.21,247.86 L279.64,249.10 L280.08,250.33 L280.51,251.54 L280.95,252.74 L281.38,253.93 L281.82,255.11 L282.25,256.27 L282.68,257.42 L283.12,258.55 L283.55,259.68 L283.99,260.79 L284.42,261.89 L284.86,262.97 L285.29,264.05 L285.72,265.11 L286.16,266.16 L286.59,267.20 L287.03,268.23 L287.46,269.24 L287.90,270.25 L288.33,271.24 L288.76,272.22 L289.20,273.19 L289.63,274.15 L290.07,275.09 L290.50,276.03 L290.94,276.96 L291.37,277.87 L291.80,278.77 L292.24,279.67 L292.67,280.55 L293.11,281.42 L293.54,282.29 L293.98,283.14 L294.41,283.98 L294.85,284.81 L295.28,285.63 L295.71,286.44 L296.15,287.25 L296.58,288.04 L297.02,288.82 L297.45,289.59 L297.89,290.36 L298.32,291.11 L298.75,291.86 L299.19,292.59 L299.62,293.32 L300.06,294.04 L300.49,294.75 L300.93,295.45 L301.36,296.14 L301.79,296.82 L302.23,297.49 L302.66,298.16 L303.10,298.82 L303.53,299.46 L303.97,300.10 L304.40,300.74 L304.83,301.36 L305.27,301.98 L305.70,302.59 L306.14,303.19 L306.57,303.78 L307.01,304.36 L307.44,304.94 L307.88,305.51 L308.31,306.07 L308.74,306.63 L309.18,307.17 L309.61,307.71 L310.05,308.25 L310.48,308.77 L310.92,309.29 L311.35,309.80 L311.78,310.30 L312.22,310.80 L312.65,311.29 L313.09,311.78 L313.52,312.26 L313.96,312.73 L314.39,313.19 L314.82,313.65 L315.26,314.10 L315.69,314.54 L316.13,314.98 L316.56,315.42 L317.00,315.84 L317.43,316.26 L317.86,316.68 L318.30,317.09 L318.73,317.49 L319.17,317.89 L319.60,318.28 L320.04,318.66 L320.47,319.04 L320.91,319.42 L321.34,319.79 L321.77,320.15 L322.21,320.51 L322.64,320.86 L323.08,321.21 L323.51,321.55 L323.95,321.89 L324.38,322.22 L324.81,322.54 L325.25,322.87 L325.68,323.18 L326.12,323.49 L326.55,323.80 L326.99,324.10 L327.42,324.40 L327.85,324.69 L328.29,324.98 L328.72,325.27 L329.16,325.55 L329.59,325.82 L330.03,326.09 L330.46,326.36 L330.89,326.62 L331.33,326.88 L331.76,327.13 L332.20,327.38 L332.63,327.63 L333.07,327.87 L333.50,328.10 L333.94,328.34 L334.37,328.57 L334.80,328.79 L335.24,329.01 L335.67,329.23 L336.11,329.45 L336.54,329.66 L336.98,329.86 L337.41,330.07 L337.84,330.27 L338.28,330.47 L338.71,330.66 L339.15,330.85 L339.58,331.03 L340.02,331.22 L340.45,331.40 L340.88,331.58 L341.32,331.75 L341.75,331.92 L342.19,332.09 L342.62,332.25 L343.06,332.41 L343.49,332.57 L343.93,332.73 L344.36,332.88 L344.79,333.03 L345.23,333.18 L345.66,333.32 L346.10,333.47 L346.53,333.61 L346.97,333.74 L347.40,333.88 L347.83,334.01 L348.27,334.14 L348.70,334.27 L349.14,334.39 L349.57,334.51 L350.01,334.63 L350.44,334.75 L350.87,334.87 L351.31,334.98 L351.74,335.09 L352.18,335.20 L352.61,335.31 L353.05,335.41 L353.48,335.51 L353.91,335.61 L354.35,335.71 L354.78,335.81 L355.22,335.90 L355.65,336.00 L356.09,336.09 L356.52,336.18 L356.96,336.27 L357.39,336.35 L357.82,336.44 L358.26,336.52 L358.69,336.60 L359.13,336.68 L359.56,336.76 L360.00,336.83 L360.43,336.91 L360.86,336.98 L361.30,337.05 L361.73,337.12 L362.17,337.19 L362.60,337.26 L363.04,337.32 L363.47,337.39 L363.90,337.45 L364.34,337.51 L364.77,337.57 L365.21,337.63 L365.64,337.69 L366.08,337.75 L366.51,337.80 L366.94,337.86 L367.38,337.91 L367.81,337.96 L368.25,338.01 L368.68,338.06 L369.12,338.11 L369.55,338.16 L369.99,338.21 L370.42,338.25 L370.85,338.30 L371.29,338.34 L371.72,338.39 L372.16,338.43 L372.59,338.47 L373.03,338.51 L373.46,338.55 L373.89,338.59 L374.33,338.63 L374.76,338.66 L375.20,338.70 L375.63,338.74 L376.07,338.77 L376.50,338.80 L376.93,338.84 L377.37,338.87 L377.80,338.90 L378.24,338.93 L378.67,338.96 L379.11,338.99 L379.54,339.02 L379.97,339.05 L380.41,339.08 L380.84,339.11 L381.28,339.13 L381.71,339.16 L382.15,339.19 L382.58,339.21 L383.02,339.23 L383.45,339.26 L383.88,339.28 L384.32,339.30 L384.75,339.33 L385.19,339.35 L385.62,339.37 L386.06,339.39 L386.49,339.41 L386.92,339.43 L387.36,339.45 L387.79,339.47 L388.23,339.49 L388.66,339.51 L389.10,339.53 L389.53,339.54 L389.96,339.56 L390.40,339.58 L390.83,339.59 L391.27,339.61 L391.70,339.63 L392.14,339.64 L392.57,339.66 L393.01,339.67 L393.44,339.68 L393.87,339.70 L394.31,339.71 L394.74,339.73 L395.18,339.74 L395.61,339.75 L396.05,339.76 L396.48,339.78 L396.91,339.79 L397.35,339.80 L397.78,339.81 L398.22,339.82 L398.65,339.83 L399.09,339.84 L399.52,339.85 L399.95,339.86 L400.39,339.87 L400.82,339.88 L401.26,339.89 L401.69,339.90 L402.13,339.91 L402.56,339.92 L402.99,339.93 L403.43,339.94 L403.86,339.95 L404.30,339.95 L404.73,339.96 L405.17,339.97 L405.60,339.98 L406.04,339.98 L406.47,339.99 L406.90,340.00 L407.34,340.01 L407.77,340.01 L408.21,340.02 L408.64,340.03 L409.08,340.03 L409.51,340.04 L409.94,340.04 L410.38,340.05 L410.81,340.06 L411.25,340.06 L411.68,340.07 L412.12,340.07 L412.55,340.08 L412.98,340.08 L413.42,340.09 L413.85,340.09 L414.29,340.10 L414.72,340.10 L415.16,340.11 L415.59,340.11 L416.02,340.12 L416.46,340.12 L416.89,340.12 L417.33,340.13 L417.76,340.13 L418.20,340.14 L418.63,340.14 L419.07,340.14 L419.50,340.15 L419.93,340.15 L420.37,340.15 L420.80,340.16 L421.24,340.16 L421.67,340.16 L422.11,340.17 L422.54,340.17 L422.97,340.17 L423.41,340.18 L423.84,340.18 L424.28,340.18 L424.71,340.19 L425.15,340.19 L425.58,340.19 L426.01,340.19 L426.45,340.20 L426.88,340.20 L427.32,340.20 L427.75,340.20 L428.19,340.21 L428.62,340.21 L429.05,340.21 L429.49,340.21 L429.92,340.21 L430.36,340.22 L430.79,340.22 L431.23,340.22 L431.66,340.22 L432.10,340.22 L432.53,340.23 L432.96,340.23 L433.40,340.23 L433.83,340.23 L434.27,340.23 L434.70,340.23 L435.14,340.24 L435.57,340.24 L436.00,340.24 L436.44,340.24 L436.87,340.24 L437.31,340.24 L437.74,340.24 L438.18,340.25 L438.61,340.25 L439.04,340.25 L439.48,340.25 L439.91,340.25 L440.35,340.25 L440.78,340.25 L441.22,340.25 L441.65,340.26 L442.08,340.26 L442.52,340.26 L442.95,340.26 L443.39,340.26 L443.82,340.26 L444.26,340.26 L444.69,340.26 L445.13,340.26 L445.56,340.26 L445.99,340.27 L446.43,340.27 L446.86,340.27 L447.30,340.27 L447.73,340.27 L448.17,340.27 L448.60,340.27" fill="none" stroke="#4a2c8a" stroke-width="1.4" stroke-linejoin="round" stroke-linecap="butt" />
<path d="M275.30,254.36 L275.73,255.24 L276.17,256.11 L276.60,256.98 L277.04,257.85 L277.47,258.71 L277.91,259.57 L278.34,260.43 L278.77,261.28 L279.21,262.13 L279.64,262.97 L280.08,263.81 L280.51,264.65 L280.95,265.48 L281.38,266.31 L281.82,267.14 L282.25,267.96 L282.68,268.77 L283.12,269.58 L283.55,270.39 L283.99,271.19 L284.42,271.99 L284.86,272.78 L285.29,273.57 L285.72,274.35 L286.16,275.13 L286.59,275.91 L287.03,276.68 L287.46,277.44 L287.90,278.20 L288.33,278.96 L288.76,279.71 L289.20,280.45 L289.63,281.19 L290.07,281.92 L290.50,282.65 L290.94,283.38 L291.37,284.09 L291.80,284.81 L292.24,285.51 L292.67,286.22 L293.11,286.91 L293.54,287.61 L293.98,288.29 L294.41,288.97 L294.85,289.65 L295.28,290.32 L295.71,290.98 L296.15,291.64 L296.58,292.29 L297.02,292.94 L297.45,293.58 L297.89,294.22 L298.32,294.85 L298.75,295.47 L299.19,296.09 L299.62,296.71 L300.06,297.31 L300.49,297.92 L300.93,298.51 L301.36,299.10 L301.79,299.69 L302.23,300.27 L302.66,300.84 L303.10,301.41 L303.53,301.98 L303.97,302.53 L304.40,303.08 L304.83,303.63 L305.27,304.17 L305.70,304.71 L306.14,305.23 L306.57,305.76 L307.01,306.28 L307.44,306.79 L307.88,307.29 L308.31,307.80 L308.74,308.29 L309.18,308.78 L309.61,309.27 L310.05,309.75 L310.48,310.22 L310.92,310.69 L311.35,311.15 L311.78,311.61 L312.22,312.06 L312.65,312.51 L313.09,312.95 L313.52,313.39 L313.96,313.82 L314.39,314.25 L314.82,314.67 L315.26,315.08 L315.69,315.49 L316.13,315.90 L316.56,316.30 L317.00,316.69 L317.43,317.08 L317.86,317.47 L318.30,317.85 L318.73,318.22 L319.17,318.60 L319.60,318.96 L320.04,319.32 L320.47,319.68 L320.91,320.03 L321.34,320.38 L321.77,320.72 L322.21,321.05 L322.64,321.39 L323.08,321.71 L323.51,322.04 L323.95,322.36 L324.38,322.67 L324.81,322.98 L325.25,323.29 L325.68,323.59 L326.12,323.89 L326.55,324.18 L326.99,324.47 L327.42,324.75 L327.85,325.03 L328.29,325.31 L328.72,325.58 L329.16,325.85 L329.59,326.11 L330.03,326.37 L330.46,326.62 L330.89,326.88 L331.33,327.12 L331.76,327.37 L332.20,327.61 L332.63,327.84 L333.07,328.08 L333.50,328.31 L333.94,328.53 L334.37,328.75 L334.80,328.97 L335.24,329.19 L335.67,329.40 L336.11,329.61 L336.54,329.81 L336.98,330.01 L337.41,330.21 L337.84,330.40 L338.28,330.60 L338.71,330.78 L339.15,330.97 L339.58,331.15 L340.02,331.33 L340.45,331.51 L340.88,331.68 L341.32,331.85 L341.75,332.01 L342.19,332.18 L342.62,332.34 L343.06,332.50 L343.49,332.65 L343.93,332.81 L344.36,332.96 L344.79,333.10 L345.23,333.25 L345.66,333.39 L346.10,333.53 L346.53,333.67 L346.97,333.80 L347.40,333.93 L347.83,334.06 L348.27,334.19 L348.70,334.32 L349.14,334.44 L349.57,334.56 L350.01,334.68 L350.44,334.79 L350.87,334.91 L351.31,335.02 L351.74,335.13 L352.18,335.23 L352.61,335.34 L353.05,335.44 L353.48,335.54 L353.91,335.64 L354.35,335.74 L354.78,335.84 L355.22,335.93 L355.65,336.02 L356.09,336.11 L356.52,336.20 L356.96,336.29 L357.39,336.37 L357.82,336.46 L358.26,336.54 L358.69,336.62 L359.13,336.70 L359.56,336.77 L360.00,336.85 L360.43,336.92 L360.86,336.99 L361.30,337.07 L361.73,337.13 L362.17,337.20 L362.60,337.27 L363.04,337.33 L363.47,337.40 L363.90,337.46 L364.34,337.52 L364.77,337.58 L365.21,337.64 L365.64,337.70 L366.08,337.76 L366.51,337.81 L366.94,337.87 L367.38,337.92 L367.81,337.97 L368.25,338.02 L368.68,338.07 L369.12,338.12 L369.55,338.17 L369.99,338.21 L370.42,338.26 L370.85,338.31 L371.29,338.35 L371.72,338.39 L372.16,338.43 L372.59,338.47 L373.03,338.52 L373.46,338.55 L373.89,338.59 L374.33,338.63 L374.76,338.67 L375.20,338.70 L375.63,338.74 L376.07,338.77 L376.50,338.81 L376.93,338.84 L377.37,338.87 L377.80,338.91 L378.24,338.94 L378.67,338.97 L379.11,339.00 L379.54,339.03 L379.97,339.05 L380.41,339.08 L380.84,339.11 L381.28,339.14 L381.71,339.16 L382.15,339.19 L382.58,339.21 L383.02,339.24 L383.45,339.26 L383.88,339.28 L384.32,339.31 L384.75,339.33 L385.19,339.35 L385.62,339.37 L386.06,339.39 L386.49,339.41 L386.92,339.43 L387.36,339.45 L387.79,339.47 L388.23,339.49 L388.66,339.51 L389.10,339.53 L389.53,339.54 L389.96,339.56 L390.40,339.58 L390.83,339.59 L391.27,339.61 L391.70,339.63 L392.14,339.64 L392.57,339.66 L393.01,339.67 L393.44,339.68 L393.87,339.70 L394.31,339.71 L394.74,339.73 L395.18,339.74 L395.61,339.75 L396.05,339.76 L396.48,339.78 L396.91,339.79 L397.35,339.80 L397.78,339.81 L398.22,339.82 L398.65,339.83 L399.09,339.84 L399.52,339.85 L399.95,339.86 L400.39,339.87 L400.82,339.88 L401.26,339.89 L401.69,339.90 L402.13,339.91 L402.56,339.92 L402.99,339.93 L403.43,339.94 L403.86,339.95 L404.30,339.95 L404.73,339.96 L405.17,339.97 L405.60,339.98 L406.04,339.98 L406.47,339.99 L406.90,340.00 L407.34,340.01 L407.77,340.01 L408.21,340.02 L408.64,340.03 L409.08,340.03 L409.51,340.04 L409.94,340.04 L410.38,340.05 L410.81,340.06 L411.25,340.06 L411.68,340.07 L412.12,340.07 L412.55,340.08 L412.98,340.08 L413.42,340.09 L413.85,340.09 L414.29,340.10 L414.72,340.10 L415.16,340.11 L415.59,340.11 L416.02,340.12 L416.46,340.12 L416.89,340.12 L417.33,340.13 L417.76,340.13 L418.20,340.14 L418.63,340.14 L419.07,340.14 L419.50,340.15 L419.93,340.15 L420.37,340.15 L420.80,340.16 L421.24,340.16 L421.67,340.16 L422.11,340.17 L422.54,340.17 L422.97,340.17 L423.41,340.18 L423.84,340.18 L424.28,340.18 L424.71,340.19 L425.15,340.19 L425.58,340.19 L426.01,340.19 L426.45,340.20 L426.88,340.20 L427.32,340.20 L427.75,340.20 L428.19,340.21 L428.62,340.21 L429.05,340.21 L429.49,340.21 L429.92,340.21 L430.36,340.22 L430.79,340.22 L431.23,340.22 L431.66,340.22 L432.10,340.22 L432.53,340.23 L432.96,340.23 L433.40,340.23 L433.83,340.23 L434.27,340.23 L434.70,340.23 L435.14,340.24 L435.57,340.24 L436.00,340.24 L436.44,340.24 L436.87,340.24 L437.31,340.24 L437.74,340.24 L438.18,340.25 L438.61,340.25 L439.04,340.25 L439.48,340.25 L439.91,340.25 L440.35,340.25 L440.78,340.25 L441.22,340.25 L441.65,340.26 L442.08,340.26 L442.52,340.26 L442.95,340.26 L443.39,340.26 L443.82,340.26 L444.26,340.26 L444.69,340.26 L445.13,340.26 L445.56,340.26 L445.99,340.27 L446.43,340.27 L446.86,340.27 L447.30,340.27 L447.73,340.27 L448.17,340.27 L448.60,340.27" fill="none" stroke="#3d5e9c" stroke-width="1.4" stroke-linejoin="round" stroke-linecap="butt" />
<path d="M275.30,297.05 L275.73,297.31 L276.17,297.57 L276.60,297.83 L277.04,298.09 L277.47,298.35 L277.91,298.61 L278.34,298.87 L278.77,299.14 L279.21,299.40 L279.64,299.66 L280.08,299.93 L280.51,300.19 L280.95,300.45 L281.38,300.72 L281.82,300.98 L282.25,301.25 L282.68,301.51 L283.12,301.78 L283.55,302.04 L283.99,302.31 L284.42,302.58 L284.86,302.84 L285.29,303.11 L285.72,303.38 L286.16,303.65 L286.59,303.91 L287.03,304.18 L287.46,304.45 L287.90,304.72 L288.33,304.99 L288.76,305.26 L289.20,305.53 L289.63,305.79 L290.07,306.06 L290.50,306.33 L290.94,306.60 L291.37,306.87 L291.80,307.14 L292.24,307.41 L292.67,307.68 L293.11,307.95 L293.54,308.22 L293.98,308.49 L294.41,308.76 L294.85,309.03 L295.28,309.30 L295.71,309.56 L296.15,309.83 L296.58,310.10 L297.02,310.37 L297.45,310.64 L297.89,310.91 L298.32,311.18 L298.75,311.44 L299.19,311.71 L299.62,311.98 L300.06,312.25 L300.49,312.51 L300.93,312.78 L301.36,313.04 L301.79,313.31 L302.23,313.57 L302.66,313.84 L303.10,314.10 L303.53,314.37 L303.97,314.63 L304.40,314.89 L304.83,315.15 L305.27,315.42 L305.70,315.68 L306.14,315.94 L306.57,316.20 L307.01,316.45 L307.44,316.71 L307.88,316.97 L308.31,317.23 L308.74,317.48 L309.18,317.74 L309.61,317.99 L310.05,318.24 L310.48,318.49 L310.92,318.75 L311.35,319.00 L311.78,319.25 L312.22,319.49 L312.65,319.74 L313.09,319.99 L313.52,320.23 L313.96,320.47 L314.39,320.72 L314.82,320.96 L315.26,321.20 L315.69,321.44 L316.13,321.68 L316.56,321.91 L317.00,322.15 L317.43,322.38 L317.86,322.61 L318.30,322.85 L318.73,323.08 L319.17,323.30 L319.60,323.53 L320.04,323.76 L320.47,323.98 L320.91,324.20 L321.34,324.42 L321.77,324.64 L322.21,324.86 L322.64,325.08 L323.08,325.29 L323.51,325.50 L323.95,325.72 L324.38,325.93 L324.81,326.13 L325.25,326.34 L325.68,326.54 L326.12,326.75 L326.55,326.95 L326.99,327.15 L327.42,327.35 L327.85,327.54 L328.29,327.74 L328.72,327.93 L329.16,328.12 L329.59,328.31 L330.03,328.49 L330.46,328.68 L330.89,328.86 L331.33,329.04 L331.76,329.22 L332.20,329.40 L332.63,329.58 L333.07,329.75 L333.50,329.92 L333.94,330.09 L334.37,330.26 L334.80,330.42 L335.24,330.59 L335.67,330.75 L336.11,330.91 L336.54,331.07 L336.98,331.23 L337.41,331.38 L337.84,331.53 L338.28,331.69 L338.71,331.83 L339.15,331.98 L339.58,332.13 L340.02,332.27 L340.45,332.41 L340.88,332.55 L341.32,332.69 L341.75,332.82 L342.19,332.96 L342.62,333.09 L343.06,333.22 L343.49,333.35 L343.93,333.48 L344.36,333.60 L344.79,333.72 L345.23,333.84 L345.66,333.96 L346.10,334.08 L346.53,334.20 L346.97,334.31 L347.40,334.42 L347.83,334.54 L348.27,334.64 L348.70,334.75 L349.14,334.86 L349.57,334.96 L350.01,335.06 L350.44,335.16 L350.87,335.26 L351.31,335.36 L351.74,335.46 L352.18,335.55 L352.61,335.64 L353.05,335.74 L353.48,335.83 L353.91,335.91 L354.35,336.00 L354.78,336.09 L355.22,336.17 L355.65,336.25 L356.09,336.33 L356.52,336.41 L356.96,336.49 L357.39,336.57 L357.82,336.64 L358.26,336.72 L358.69,336.79 L359.13,336.86 L359.56,336.93 L360.00,337.00 L360.43,337.07 L360.86,337.13 L361.30,337.20 L361.73,337.26 L362.17,337.33 L362.60,337.39 L363.04,337.45 L363.47,337.51 L363.90,337.56 L364.34,337.62 L364.77,337.68 L365.21,337.73 L365.64,337.79 L366.08,337.84 L366.51,337.89 L366.94,337.94 L367.38,337.99 L367.81,338.04 L368.25,338.09 L368.68,338.14 L369.12,338.18 L369.55,338.23 L369.99,338.27 L370.42,338.31 L370.85,338.36 L371.29,338.40 L371.72,338.44 L372.16,338.48 L372.59,338.52 L373.03,338.56 L373.46,338.59 L373.89,338.63 L374.33,338.67 L374.76,338.70 L375.20,338.74 L375.63,338.77 L376.07,338.80 L376.50,338.84 L376.93,338.87 L377.37,338.90 L377.80,338.93 L378.24,338.96 L378.67,338.99 L379.11,339.02 L379.54,339.05 L379.97,339.07 L380.41,339.10 L380.84,339.13 L381.28,339.15 L381.71,339.18 L382.15,339.20 L382.58,339.23 L383.02,339.25 L383.45,339.27 L383.88,339.30 L384.32,339.32 L384.75,339.34 L385.19,339.36 L385.62,339.38 L386.06,339.40 L386.49,339.42 L386.92,339.44 L387.36,339.46 L387.79,339.48 L388.23,339.50 L388.66,339.52 L389.10,339.53 L389.53,339.55 L389.96,339.57 L390.40,339.58 L390.83,339.60 L391.27,339.62 L391.70,339.63 L392.14,339.65 L392.57,339.66 L393.01,339.68 L393.44,339.69 L393.87,339.70 L394.31,339.72 L394.74,339.73 L395.18,339.74 L395.61,339.76 L396.05,339.77 L396.48,339.78 L396.91,339.79 L397.35,339.80 L397.78,339.81 L398.22,339.83 L398.65,339.84 L399.09,339.85 L399.52,339.86 L399.95,339.87 L400.39,339.88 L400.82,339.89 L401.26,339.90 L401.69,339.90 L402.13,339.91 L402.56,339.92 L402.99,339.93 L403.43,339.94 L403.86,339.95 L404.30,339.96 L404.73,339.96 L405.17,339.97 L405.60,339.98 L406.04,339.99 L406.47,339.99 L406.90,340.00 L407.34,340.01 L407.77,340.01 L408.21,340.02 L408.64,340.03 L409.08,340.03 L409.51,340.04 L409.94,340.05 L410.38,340.05 L410.81,340.06 L411.25,340.06 L411.68,340.07 L412.12,340.07 L412.55,340.08 L412.98,340.08 L413.42,340.09 L413.85,340.09 L414.29,340.10 L414.72,340.10 L415.16,340.11 L415.59,340.11 L416.02,340.12 L416.46,340.12 L416.89,340.12 L417.33,340.13 L417.76,340.13 L418.20,340.14 L418.63,340.14 L419.07,340.14 L419.50,340.15 L419.93,340.15 L420.37,340.15 L420.80,340.16 L421.24,340.16 L421.67,340.16 L422.11,340.17 L422.54,340.17 L422.97,340.17 L423.41,340.18 L423.84,340.18 L424.28,340.18 L424.71,340.19 L425.15,340.19 L425.58,340.19 L426.01,340.19 L426.45,340.20 L426.88,340.20 L427.32,340.20 L427.75,340.20 L428.19,340.21 L428.62,340.21 L429.05,340.21 L429.49,340.21 L429.92,340.21 L430.36,340.22 L430.79,340.22 L431.23,340.22 L431.66,340.22 L432.10,340.22 L432.53,340.23 L432.96,340.23 L433.40,340.23 L433.83,340.23 L434.27,340.23 L434.70,340.23 L435.14,340.24 L435.57,340.24 L436.00,340.24 L436.44,340.24 L436.87,340.24 L437.31,340.24 L437.74,340.24 L438.18,340.25 L438.61,340.25 L439.04,340.25 L439.48,340.25 L439.91,340.25 L440.35,340.25 L440.78,340.25 L441.22,340.25 L441.65,340.26 L442.08,340.26 L442.52,340.26 L442.95,340.26 L443.39,340.26 L443.82,340.26 L444.26,340.26 L444.69,340.26 L445.13,340.26 L445.56,340.26 L445.99,340.27 L446.43,340.27 L446.86,340.27 L447.30,340.27 L447.73,340.27 L448.17,340.27 L448.60,340.27" fill="none" stroke="#2a8c88" stroke-width="1.4" stroke-linejoin="round" stroke-linecap="butt" />
<path d="M275.30,327.90 L275.73,327.95 L276.17,328.00 L276.60,328.06 L277.04,328.11 L277.47,328.16 L277.91,328.21 L278.34,328.26 L278.77,328.31 L279.21,328.37 L279.64,328.42 L280.08,328.47 L280.51,328.52 L280.95,328.57 L281.38,328.63 L281.82,328.68 L282.25,328.73 L282.68,328.78 L283.12,328.84 L283.55,328.89 L283.99,328.94 L284.42,328.99 L284.86,329.05 L285.29,329.10 L285.72,329.15 L286.16,329.20 L286.59,329.26 L287.03,329.31 L287.46,329.36 L287.90,329.41 L288.33,329.47 L288.76,329.52 L289.20,329.57 L289.63,329.63 L290.07,329.68 L290.50,329.73 L290.94,329.79 L291.37,329.84 L291.80,329.89 L292.24,329.95 L292.67,330.00 L293.11,330.05 L293.54,330.11 L293.98,330.16 L294.41,330.21 L294.85,330.27 L295.28,330.32 L295.71,330.38 L296.15,330.43 L296.58,330.48 L297.02,330.54 L297.45,330.59 L297.89,330.65 L298.32,330.70 L298.75,330.75 L299.19,330.81 L299.62,330.86 L300.06,330.92 L300.49,330.97 L300.93,331.03 L301.36,331.08 L301.79,331.13 L302.23,331.19 L302.66,331.24 L303.10,331.30 L303.53,331.35 L303.97,331.41 L304.40,331.46 L304.83,331.52 L305.27,331.57 L305.70,331.63 L306.14,331.68 L306.57,331.74 L307.01,331.79 L307.44,331.85 L307.88,331.90 L308.31,331.96 L308.74,332.01 L309.18,332.06 L309.61,332.12 L310.05,332.17 L310.48,332.23 L310.92,332.28 L311.35,332.34 L311.78,332.39 L312.22,332.45 L312.65,332.50 L313.09,332.56 L313.52,332.61 L313.96,332.67 L314.39,332.73 L314.82,332.78 L315.26,332.84 L315.69,332.89 L316.13,332.95 L316.56,333.00 L317.00,333.06 L317.43,333.11 L317.86,333.17 L318.30,333.22 L318.73,333.27 L319.17,333.33 L319.60,333.38 L320.04,333.44 L320.47,333.49 L320.91,333.55 L321.34,333.60 L321.77,333.66 L322.21,333.71 L322.64,333.77 L323.08,333.82 L323.51,333.88 L323.95,333.93 L324.38,333.99 L324.81,334.04 L325.25,334.09 L325.68,334.15 L326.12,334.20 L326.55,334.26 L326.99,334.31 L327.42,334.37 L327.85,334.42 L328.29,334.47 L328.72,334.53 L329.16,334.58 L329.59,334.63 L330.03,334.69 L330.46,334.74 L330.89,334.79 L331.33,334.85 L331.76,334.90 L332.20,334.95 L332.63,335.01 L333.07,335.06 L333.50,335.11 L333.94,335.16 L334.37,335.22 L334.80,335.27 L335.24,335.32 L335.67,335.37 L336.11,335.42 L336.54,335.48 L336.98,335.53 L337.41,335.58 L337.84,335.63 L338.28,335.68 L338.71,335.73 L339.15,335.78 L339.58,335.83 L340.02,335.88 L340.45,335.93 L340.88,335.98 L341.32,336.03 L341.75,336.08 L342.19,336.13 L342.62,336.18 L343.06,336.23 L343.49,336.28 L343.93,336.33 L344.36,336.37 L344.79,336.42 L345.23,336.47 L345.66,336.52 L346.10,336.56 L346.53,336.61 L346.97,336.66 L347.40,336.70 L347.83,336.75 L348.27,336.80 L348.70,336.84 L349.14,336.89 L349.57,336.93 L350.01,336.98 L350.44,337.02 L350.87,337.06 L351.31,337.11 L351.74,337.15 L352.18,337.20 L352.61,337.24 L353.05,337.28 L353.48,337.32 L353.91,337.37 L354.35,337.41 L354.78,337.45 L355.22,337.49 L355.65,337.53 L356.09,337.57 L356.52,337.61 L356.96,337.65 L357.39,337.69 L357.82,337.73 L358.26,337.77 L358.69,337.81 L359.13,337.84 L359.56,337.88 L360.00,337.92 L360.43,337.96 L360.86,337.99 L361.30,338.03 L361.73,338.06 L362.17,338.10 L362.60,338.14 L363.04,338.17 L363.47,338.20 L363.90,338.24 L364.34,338.27 L364.77,338.31 L365.21,338.34 L365.64,338.37 L366.08,338.40 L366.51,338.43 L366.94,338.47 L367.38,338.50 L367.81,338.53 L368.25,338.56 L368.68,338.59 L369.12,338.62 L369.55,338.65 L369.99,338.68 L370.42,338.70 L370.85,338.73 L371.29,338.76 L371.72,338.79 L372.16,338.81 L372.59,338.84 L373.03,338.87 L373.46,338.89 L373.89,338.92 L374.33,338.94 L374.76,338.97 L375.20,338.99 L375.63,339.02 L376.07,339.04 L376.50,339.06 L376.93,339.09 L377.37,339.11 L377.80,339.13 L378.24,339.16 L378.67,339.18 L379.11,339.20 L379.54,339.22 L379.97,339.24 L380.41,339.26 L380.84,339.28 L381.28,339.30 L381.71,339.32 L382.15,339.34 L382.58,339.36 L383.02,339.38 L383.45,339.39 L383.88,339.41 L384.32,339.43 L384.75,339.45 L385.19,339.46 L385.62,339.48 L386.06,339.50 L386.49,339.51 L386.92,339.53 L387.36,339.54 L387.79,339.56 L388.23,339.57 L388.66,339.59 L389.10,339.60 L389.53,339.62 L389.96,339.63 L390.40,339.65 L390.83,339.66 L391.27,339.67 L391.70,339.69 L392.14,339.70 L392.57,339.71 L393.01,339.72 L393.44,339.74 L393.87,339.75 L394.31,339.76 L394.74,339.77 L395.18,339.78 L395.61,339.79 L396.05,339.80 L396.48,339.81 L396.91,339.82 L397.35,339.83 L397.78,339.84 L398.22,339.85 L398.65,339.86 L399.09,339.87 L399.52,339.88 L399.95,339.89 L400.39,339.90 L400.82,339.91 L401.26,339.92 L401.69,339.92 L402.13,339.93 L402.56,339.94 L402.99,339.95 L403.43,339.96 L403.86,339.96 L404.30,339.97 L404.73,339.98 L405.17,339.99 L405.60,339.99 L406.04,340.00 L406.47,340.01 L406.90,340.01 L407.34,340.02 L407.77,340.02 L408.21,340.03 L408.64,340.04 L409.08,340.04 L409.51,340.05 L409.94,340.05 L410.38,340.06 L410.81,340.06 L411.25,340.07 L411.68,340.08 L412.12,340.08 L412.55,340.09 L412.98,340.09 L413.42,340.09 L413.85,340.10 L414.29,340.10 L414.72,340.11 L415.16,340.11 L415.59,340.12 L416.02,340.12 L416.46,340.13 L416.89,340.13 L417.33,340.13 L417.76,340.14 L418.20,340.14 L418.63,340.14 L419.07,340.15 L419.50,340.15 L419.93,340.15 L420.37,340.16 L420.80,340.16 L421.24,340.16 L421.67,340.17 L422.11,340.17 L422.54,340.17 L422.97,340.18 L423.41,340.18 L423.84,340.18 L424.28,340.18 L424.71,340.19 L425.15,340.19 L425.58,340.19 L426.01,340.20 L426.45,340.20 L426.88,340.20 L427.32,340.20 L427.75,340.20 L428.19,340.21 L428.62,340.21 L429.05,340.21 L429.49,340.21 L429.92,340.22 L430.36,340.22 L430.79,340.22 L431.23,340.22 L431.66,340.22 L432.10,340.22 L432.53,340.23 L432.96,340.23 L433.40,340.23 L433.83,340.23 L434.27,340.23 L434.70,340.23 L435.14,340.24 L435.57,340.24 L436.00,340.24 L436.44,340.24 L436.87,340.24 L437.31,340.24 L437.74,340.25 L438.18,340.25 L438.61,340.25 L439.04,340.25 L439.48,340.25 L439.91,340.25 L440.35,340.25 L440.78,340.25 L441.22,340.26 L441.65,340.26 L442.08,340.26 L442.52,340.26 L442.95,340.26 L443.39,340.26 L443.82,340.26 L444.26,340.26 L444.69,340.26 L445.13,340.26 L445.56,340.27 L445.99,340.27 L446.43,340.27 L446.86,340.27 L447.30,340.27 L447.73,340.27 L448.17,340.27 L448.60,340.27" fill="none" stroke="#4cc26c" stroke-width="1.4" stroke-linejoin="round" stroke-linecap="butt" />
<path d="M275.30,233.06 L275.73,234.52 L276.17,235.97 L276.60,237.40 L277.04,238.81 L277.47,240.21 L277.91,241.59 L278.34,242.95 L278.77,244.30 L279.21,245.63 L279.64,246.95 L280.08,248.25 L280.51,249.53 L280.95,250.80 L281.38,252.05 L281.82,253.29 L282.25,254.51 L282.68,255.72 L283.12,256.91 L283.55,258.09 L283.99,259.26 L284.42,260.41 L284.86,261.55 L285.29,262.67 L285.72,263.78 L286.16,264.88 L286.59,265.96 L287.03,267.03 L287.46,268.08 L287.90,269.13 L288.33,270.16 L288.76,271.18 L289.20,272.18 L289.63,273.17 L290.07,274.15 L290.50,275.12 L290.94,276.08 L291.37,277.02 L291.80,277.96 L292.24,278.88 L292.67,279.79 L293.11,280.69 L293.54,281.58 L293.98,282.45 L294.41,283.32 L294.85,284.17 L295.28,285.02 L295.71,285.85 L296.15,286.67 L296.58,287.48 L297.02,288.29 L297.45,289.08 L297.89,289.86 L298.32,290.63 L298.75,291.39 L299.19,292.14 L299.62,292.89 L300.06,293.62 L300.49,294.34 L300.93,295.06 L301.36,295.76 L301.79,296.46 L302.23,297.14 L302.66,297.82 L303.10,298.49 L303.53,299.15 L303.97,299.80 L304.40,300.45 L304.83,301.08 L305.27,301.71 L305.70,302.32 L306.14,302.93 L306.57,303.53 L307.01,304.13 L307.44,304.71 L307.88,305.29 L308.31,305.86 L308.74,306.42 L309.18,306.98 L309.61,307.52 L310.05,308.06 L310.48,308.60 L310.92,309.12 L311.35,309.64 L311.78,310.15 L312.22,310.65 L312.65,311.15 L313.09,311.64 L313.52,312.12 L313.96,312.60 L314.39,313.06 L314.82,313.53 L315.26,313.98 L315.69,314.43 L316.13,314.88 L316.56,315.31 L317.00,315.74 L317.43,316.17 L317.86,316.59 L318.30,317.00 L318.73,317.40 L319.17,317.80 L319.60,318.20 L320.04,318.59 L320.47,318.97 L320.91,319.35 L321.34,319.72 L321.77,320.08 L322.21,320.44 L322.64,320.80 L323.08,321.15 L323.51,321.49 L323.95,321.83 L324.38,322.16 L324.81,322.49 L325.25,322.82 L325.68,323.14 L326.12,323.45 L326.55,323.76 L326.99,324.06 L327.42,324.36 L327.85,324.66 L328.29,324.95 L328.72,325.23 L329.16,325.51 L329.59,325.79 L330.03,326.06 L330.46,326.33 L330.89,326.59 L331.33,326.85 L331.76,327.10 L332.20,327.35 L332.63,327.60 L333.07,327.84 L333.50,328.08 L333.94,328.32 L334.37,328.55 L334.80,328.77 L335.24,328.99 L335.67,329.21 L336.11,329.43 L336.54,329.64 L336.98,329.85 L337.41,330.05 L337.84,330.25 L338.28,330.45 L338.71,330.64 L339.15,330.83 L339.58,331.02 L340.02,331.21 L340.45,331.39 L340.88,331.56 L341.32,331.74 L341.75,331.91 L342.19,332.08 L342.62,332.24 L343.06,332.40 L343.49,332.56 L343.93,332.72 L344.36,332.87 L344.79,333.02 L345.23,333.17 L345.66,333.32 L346.10,333.46 L346.53,333.60 L346.97,333.74 L347.40,333.87 L347.83,334.00 L348.27,334.13 L348.70,334.26 L349.14,334.39 L349.57,334.51 L350.01,334.63 L350.44,334.75 L350.87,334.86 L351.31,334.98 L351.74,335.09 L352.18,335.20 L352.61,335.30 L353.05,335.41 L353.48,335.51 L353.91,335.61 L354.35,335.71 L354.78,335.81 L355.22,335.90 L355.65,336.00 L356.09,336.09 L356.52,336.18 L356.96,336.26 L357.39,336.35 L357.82,336.43 L358.26,336.52 L358.69,336.60 L359.13,336.68 L359.56,336.75 L360.00,336.83 L360.43,336.91 L360.86,336.98 L361.30,337.05 L361.73,337.12 L362.17,337.19 L362.60,337.26 L363.04,337.32 L363.47,337.39 L363.90,337.45 L364.34,337.51 L364.77,337.57 L365.21,337.63 L365.64,337.69 L366.08,337.75 L366.51,337.80 L366.94,337.86 L367.38,337.91 L367.81,337.96 L368.25,338.01 L368.68,338.06 L369.12,338.11 L369.55,338.16 L369.99,338.21 L370.42,338.25 L370.85,338.30 L371.29,338.34 L371.72,338.39 L372.16,338.43 L372.59,338.47 L373.03,338.51 L373.46,338.55 L373.89,338.59 L374.33,338.63 L374.76,338.66 L375.20,338.70 L375.63,338.74 L376.07,338.77 L376.50,338.80 L376.93,338.84 L377.37,338.87 L377.80,338.90 L378.24,338.93 L378.67,338.96 L379.11,338.99 L379.54,339.02 L379.97,339.05 L380.41,339.08 L380.84,339.11 L381.28,339.13 L381.71,339.16 L382.15,339.19 L382.58,339.21 L383.02,339.23 L383.45,339.26 L383.88,339.28 L384.32,339.30 L384.75,339.33 L385.19,339.35 L385.62,339.37 L386.06,339.39 L386.49,339.41 L386.92,339.43 L387.36,339.45 L387.79,339.47 L388.23,339.49 L388.66,339.51 L389.10,339.53 L389.53,339.54 L389.96,339.56 L390.40,339.58 L390.83,339.59 L391.27,339.61 L391.70,339.62 L392.14,339.64 L392.57,339.66 L393.01,339.67 L393.44,339.68 L393.87,339.70 L394.31,339.71 L394.74,339.73 L395.18,339.74 L395.61,339.75 L396.05,339.76 L396.48,339.78 L396.91,339.79 L397.35,339.80 L397.78,339.81 L398.22,339.82 L398.65,339.83 L399.09,339.84 L399.52,339.85 L399.95,339.86 L400.39,339.87 L400.82,339.88 L401.26,339.89 L401.69,339.90 L402.13,339.91 L402.56,339.92 L402.99,339.93 L403.43,339.94 L403.86,339.95 L404.30,339.95 L404.73,339.96 L405.17,339.97 L405.60,339.98 L406.04,339.98 L406.47,339.99 L406.90,340.00 L407.34,340.01 L407.77,340.01 L408.21,340.02 L408.64,340.03 L409.08,340.03 L409.51,340.04 L409.94,340.04 L410.38,340.05 L410.81,340.06 L411.25,340.06 L411.68,340.07 L412.12,340.07 L412.55,340.08 L412.98,340.08 L413.42,340.09 L413.85,340.09 L414.29,340.10 L414.72,340.10 L415.16,340.11 L415.59,340.11 L416.02,340.12 L416.46,340.12 L416.89,340.12 L417.33,340.13 L417.76,340.13 L418.20,340.14 L418.63,340.14 L419.07,340.14 L419.50,340.15 L419.93,340.15 L420.37,340.15 L420.80,340.16 L421.24,340.16 L421.67,340.16 L422.11,340.17 L422.54,340.17 L422.97,340.17 L423.41,340.18 L423.84,340.18 L424.28,340.18 L424.71,340.19 L425.15,340.19 L425.58,340.19 L426.01,340.19 L426.45,340.20 L426.88,340.20 L427.32,340.20 L427.75,340.20 L428.19,340.21 L428.62,340.21 L429.05,340.21 L429.49,340.21 L429.92,340.21 L430.36,340.22 L430.79,340.22 L431.23,340.22 L431.66,340.22 L432.10,340.22 L432.53,340.23 L432.96,340.23 L433.40,340.23 L433.83,340.23 L434.27,340.23 L434.70,340.23 L435.14,340.24 L435.57,340.24 L436.00,340.24 L436.44,340.24 L436.87,340.24 L437.31,340.24 L437.74,340.24 L438.18,340.25 L438.61,340.25 L439.04,340.25 L439.48,340.25 L439.91,340.25 L440.35,340.25 L440.78,340.25 L441.22,340.25 L441.65,340.26 L442.08,340.26 L442.52,340.26 L442.95,340.26 L443.39,340.26 L443.82,340.26 L444.26,340.26 L444.69,340.26 L445.13,340.26 L445.56,340.26 L445.99,340.27 L446.43,340.27 L446.86,340.27 L447.30,340.27 L447.73,340.27 L448.17,340.27 L448.60,340.27" fill="none" stroke="#ff1a1a" stroke-width="1.6" stroke-linejoin="round" stroke-linecap="butt" stroke-dasharray="2.6,3.2"/>
</g>
<rect x="275.30" y="218.40" width="173.30" height="139.10" fill="none" stroke="#858585" stroke-width="0.9"/>
<line x1="275.30" y1="357.50" x2="275.30" y2="361.70" stroke="#4a4a4a" stroke-width="0.75" />
<line x1="288.34" y1="357.50" x2="288.34" y2="360.70" stroke="#4a4a4a" stroke-width="0.75" />
<line x1="295.97" y1="357.50" x2="295.97" y2="360.70" stroke="#4a4a4a" stroke-width="0.75" />
<line x1="301.38" y1="357.50" x2="301.38" y2="360.70" stroke="#4a4a4a" stroke-width="0.75" />
<line x1="305.58" y1="357.50" x2="305.58" y2="360.70" stroke="#4a4a4a" stroke-width="0.75" />
<line x1="309.01" y1="357.50" x2="309.01" y2="360.70" stroke="#4a4a4a" stroke-width="0.75" />
<line x1="311.91" y1="357.50" x2="311.91" y2="360.70" stroke="#4a4a4a" stroke-width="0.75" />
<line x1="314.43" y1="357.50" x2="314.43" y2="360.70" stroke="#4a4a4a" stroke-width="0.75" />
<line x1="316.64" y1="357.50" x2="316.64" y2="360.70" stroke="#4a4a4a" stroke-width="0.75" />
<line x1="318.62" y1="357.50" x2="318.62" y2="361.70" stroke="#4a4a4a" stroke-width="0.75" />
<line x1="331.67" y1="357.50" x2="331.67" y2="360.70" stroke="#4a4a4a" stroke-width="0.75" />
<line x1="339.30" y1="357.50" x2="339.30" y2="360.70" stroke="#4a4a4a" stroke-width="0.75" />
<line x1="344.71" y1="357.50" x2="344.71" y2="360.70" stroke="#4a4a4a" stroke-width="0.75" />
<line x1="348.91" y1="357.50" x2="348.91" y2="360.70" stroke="#4a4a4a" stroke-width="0.75" />
<line x1="352.34" y1="357.50" x2="352.34" y2="360.70" stroke="#4a4a4a" stroke-width="0.75" />
<line x1="355.24" y1="357.50" x2="355.24" y2="360.70" stroke="#4a4a4a" stroke-width="0.75" />
<line x1="357.75" y1="357.50" x2="357.75" y2="360.70" stroke="#4a4a4a" stroke-width="0.75" />
<line x1="359.97" y1="357.50" x2="359.97" y2="360.70" stroke="#4a4a4a" stroke-width="0.75" />
<line x1="361.95" y1="357.50" x2="361.95" y2="361.70" stroke="#4a4a4a" stroke-width="0.75" />
<line x1="374.99" y1="357.50" x2="374.99" y2="360.70" stroke="#4a4a4a" stroke-width="0.75" />
<line x1="382.62" y1="357.50" x2="382.62" y2="360.70" stroke="#4a4a4a" stroke-width="0.75" />
<line x1="388.03" y1="357.50" x2="388.03" y2="360.70" stroke="#4a4a4a" stroke-width="0.75" />
<line x1="392.23" y1="357.50" x2="392.23" y2="360.70" stroke="#4a4a4a" stroke-width="0.75" />
<line x1="395.66" y1="357.50" x2="395.66" y2="360.70" stroke="#4a4a4a" stroke-width="0.75" />
<line x1="398.56" y1="357.50" x2="398.56" y2="360.70" stroke="#4a4a4a" stroke-width="0.75" />
<line x1="401.08" y1="357.50" x2="401.08" y2="360.70" stroke="#4a4a4a" stroke-width="0.75" />
<line x1="403.29" y1="357.50" x2="403.29" y2="360.70" stroke="#4a4a4a" stroke-width="0.75" />
<line x1="405.28" y1="357.50" x2="405.28" y2="361.70" stroke="#4a4a4a" stroke-width="0.75" />
<line x1="418.32" y1="357.50" x2="418.32" y2="360.70" stroke="#4a4a4a" stroke-width="0.75" />
<line x1="425.95" y1="357.50" x2="425.95" y2="360.70" stroke="#4a4a4a" stroke-width="0.75" />
<line x1="431.36" y1="357.50" x2="431.36" y2="360.70" stroke="#4a4a4a" stroke-width="0.75" />
<line x1="435.56" y1="357.50" x2="435.56" y2="360.70" stroke="#4a4a4a" stroke-width="0.75" />
<line x1="438.99" y1="357.50" x2="438.99" y2="360.70" stroke="#4a4a4a" stroke-width="0.75" />
<line x1="441.89" y1="357.50" x2="441.89" y2="360.70" stroke="#4a4a4a" stroke-width="0.75" />
<line x1="444.40" y1="357.50" x2="444.40" y2="360.70" stroke="#4a4a4a" stroke-width="0.75" />
<line x1="446.62" y1="357.50" x2="446.62" y2="360.70" stroke="#4a4a4a" stroke-width="0.75" />
<line x1="448.60" y1="357.50" x2="448.60" y2="361.70" stroke="#4a4a4a" stroke-width="0.75" />
<text x="268.53" y="373.40" font-size="9.3" fill="#262626" textLength="9.62" lengthAdjust="spacingAndGlyphs">10</text>
<text x="278.45" y="368.70" font-size="6.5" fill="#262626" style="stroke-width:0">0</text>
<text x="311.86" y="373.40" font-size="9.3" fill="#262626" textLength="9.62" lengthAdjust="spacingAndGlyphs">10</text>
<text x="321.78" y="368.70" font-size="6.5" fill="#262626" style="stroke-width:0">1</text>
<text x="355.18" y="373.40" font-size="9.3" fill="#262626" textLength="9.62" lengthAdjust="spacingAndGlyphs">10</text>
<text x="365.10" y="368.70" font-size="6.5" fill="#262626" style="stroke-width:0">2</text>
<text x="398.51" y="373.40" font-size="9.3" fill="#262626" textLength="9.62" lengthAdjust="spacingAndGlyphs">10</text>
<text x="408.43" y="368.70" font-size="6.5" fill="#262626" style="stroke-width:0">3</text>
<text x="441.83" y="373.40" font-size="9.3" fill="#262626" textLength="9.62" lengthAdjust="spacingAndGlyphs">10</text>
<text x="451.75" y="368.70" font-size="6.5" fill="#262626" style="stroke-width:0">4</text>
<text x="325.15" y="388.50" font-size="9.6" fill="#262626" textLength="73.60" lengthAdjust="spacingAndGlyphs">Frequency (Hz)</text>
<line x1="271.10" y1="328.80" x2="275.30" y2="328.80" stroke="#4a4a4a" stroke-width="0.75" />
<text x="253.4" y="332.10" font-size="9.3" fill="#262626" textLength="13.6" lengthAdjust="spacingAndGlyphs">0.2</text>
<line x1="271.10" y1="292.00" x2="275.30" y2="292.00" stroke="#4a4a4a" stroke-width="0.75" />
<text x="253.4" y="295.30" font-size="9.3" fill="#262626" textLength="13.6" lengthAdjust="spacingAndGlyphs">0.4</text>
<line x1="271.10" y1="255.20" x2="275.30" y2="255.20" stroke="#4a4a4a" stroke-width="0.75" />
<text x="253.4" y="258.50" font-size="9.3" fill="#262626" textLength="13.6" lengthAdjust="spacingAndGlyphs">0.6</text>
<line x1="271.10" y1="218.40" x2="275.30" y2="218.40" stroke="#4a4a4a" stroke-width="0.75" />
<text x="253.4" y="221.70" font-size="9.3" fill="#262626" textLength="13.6" lengthAdjust="spacingAndGlyphs">0.8</text>
<text x="-69.80" y="0" font-size="9.6" fill="#262626" textLength="139.60" lengthAdjust="spacingAndGlyphs" transform="translate(244.90,291.15) rotate(-90)">Noise current/<tspan font-style="italic">B</tspan><tspan font-size="6.5" dy="-3.6">1/2</tspan><tspan dy="3.6"> (arb. units)</tspan></text>
<line x1="375.30" y1="228.00" x2="387.90" y2="228.00" stroke="#4a2c8a" stroke-width="1.7" />
<text x="393.30" y="231.10" font-size="8.8" fill="#262626" textLength="43.20" lengthAdjust="spacingAndGlyphs"><tspan font-style="italic">B</tspan> = 10<tspan font-size="5.8" dy="-4.0" style="stroke-width:0">&#8722;1</tspan><tspan dy="4.0"> Hz</tspan></text>
<line x1="375.30" y1="238.95" x2="387.90" y2="238.95" stroke="#3d5e9c" stroke-width="1.7" />
<text x="393.30" y="242.05" font-size="8.8" fill="#262626" textLength="43.20" lengthAdjust="spacingAndGlyphs"><tspan font-style="italic">B</tspan> = 10<tspan font-size="5.8" dy="-4.0" style="stroke-width:0">0</tspan><tspan dy="4.0"> Hz</tspan></text>
<line x1="375.30" y1="249.90" x2="387.90" y2="249.90" stroke="#2a8c88" stroke-width="1.7" />
<text x="393.30" y="253.00" font-size="8.8" fill="#262626" textLength="43.20" lengthAdjust="spacingAndGlyphs"><tspan font-style="italic">B</tspan> = 10<tspan font-size="5.8" dy="-4.0" style="stroke-width:0">1</tspan><tspan dy="4.0"> Hz</tspan></text>
<line x1="375.30" y1="260.85" x2="387.90" y2="260.85" stroke="#4cc26c" stroke-width="1.7" />
<text x="393.30" y="263.95" font-size="8.8" fill="#262626" textLength="43.20" lengthAdjust="spacingAndGlyphs"><tspan font-style="italic">B</tspan> = 10<tspan font-size="5.8" dy="-4.0" style="stroke-width:0">2</tspan><tspan dy="4.0"> Hz</tspan></text>
<line x1="375.30" y1="271.80" x2="387.90" y2="271.80" stroke="#ff1a1a" stroke-width="1.7" stroke-dasharray="3.2,4.4"/>
<text x="393.30" y="274.90" font-size="8.8" fill="#262626" textLength="32.40" lengthAdjust="spacingAndGlyphs">Approx.</text>
<text x="476.00" y="209.10" font-size="15" font-weight="bold" fill="#000" style="stroke:#000;stroke-width:0.9px">f</text>
<g clip-path="url(#cf)">
<path d="M505.00,340.15 L505.43,339.87 L505.87,339.58 L506.30,339.30 L506.74,339.01 L507.17,338.72 L507.61,338.43 L508.04,338.13 L508.47,337.83 L508.91,337.53 L509.34,337.22 L509.78,336.91 L510.21,336.60 L510.65,336.28 L511.08,335.96 L511.52,335.64 L511.95,335.31 L512.38,334.98 L512.82,334.65 L513.25,334.31 L513.69,333.98 L514.12,333.63 L514.56,333.29 L514.99,332.94 L515.42,332.59 L515.86,332.23 L516.29,331.87 L516.73,331.51 L517.16,331.14 L517.60,330.77 L518.03,330.40 L518.46,330.02 L518.90,329.64 L519.33,329.26 L519.77,328.87 L520.20,328.48 L520.64,328.09 L521.07,327.69 L521.50,327.29 L521.94,326.88 L522.37,326.47 L522.81,326.06 L523.24,325.65 L523.68,325.23 L524.11,324.81 L524.55,324.38 L524.98,323.95 L525.41,323.52 L525.85,323.08 L526.28,322.64 L526.72,322.20 L527.15,321.75 L527.59,321.30 L528.02,320.85 L528.45,320.39 L528.89,319.93 L529.32,319.47 L529.76,319.00 L530.19,318.53 L530.63,318.05 L531.06,317.58 L531.49,317.09 L531.93,316.61 L532.36,316.12 L532.80,315.63 L533.23,315.14 L533.67,314.64 L534.10,314.14 L534.53,313.64 L534.97,313.13 L535.40,312.62 L535.84,312.11 L536.27,311.59 L536.71,311.07 L537.14,310.55 L537.58,310.03 L538.01,309.50 L538.44,308.97 L538.88,308.44 L539.31,307.91 L539.75,307.37 L540.18,306.83 L540.62,306.29 L541.05,305.74 L541.48,305.19 L541.92,304.64 L542.35,304.09 L542.79,303.54 L543.22,302.98 L543.66,302.43 L544.09,301.87 L544.52,301.31 L544.96,300.74 L545.39,300.18 L545.83,299.61 L546.26,299.04 L546.70,298.47 L547.13,297.90 L547.56,297.33 L548.00,296.76 L548.43,296.18 L548.87,295.61 L549.30,295.03 L549.74,294.46 L550.17,293.88 L550.61,293.30 L551.04,292.72 L551.47,292.14 L551.91,291.56 L552.34,290.98 L552.78,290.40 L553.21,289.82 L553.65,289.25 L554.08,288.67 L554.51,288.09 L554.95,287.51 L555.38,286.93 L555.82,286.35 L556.25,285.78 L556.69,285.20 L557.12,284.63 L557.55,284.05 L557.99,283.48 L558.42,282.91 L558.86,282.34 L559.29,281.77 L559.73,281.21 L560.16,280.64 L560.59,280.08 L561.03,279.52 L561.46,278.96 L561.90,278.40 L562.33,277.85 L562.77,277.29 L563.20,276.74 L563.64,276.20 L564.07,275.65 L564.50,275.11 L564.94,274.57 L565.37,274.03 L565.81,273.50 L566.24,272.97 L566.68,272.44 L567.11,271.92 L567.54,271.40 L567.98,270.88 L568.41,270.37 L568.85,269.86 L569.28,269.35 L569.72,268.85 L570.15,268.35 L570.58,267.86 L571.02,267.37 L571.45,266.88 L571.89,266.40 L572.32,265.92 L572.76,265.44 L573.19,264.97 L573.63,264.51 L574.06,264.05 L574.49,263.59 L574.93,263.14 L575.36,262.69 L575.80,262.24 L576.23,261.80 L576.67,261.37 L577.10,260.94 L577.53,260.51 L577.97,260.09 L578.40,259.68 L578.84,259.27 L579.27,258.86 L579.71,258.46 L580.14,258.06 L580.57,257.67 L581.01,257.28 L581.44,256.90 L581.88,256.52 L582.31,256.15 L582.75,255.78 L583.18,255.42 L583.61,255.06 L584.05,254.70 L584.48,254.36 L584.92,254.01 L585.35,253.67 L585.79,253.34 L586.22,253.01 L586.66,252.68 L587.09,252.36 L587.52,252.05 L587.96,251.73 L588.39,251.43 L588.83,251.13 L589.26,250.83 L589.70,250.54 L590.13,250.25 L590.56,249.96 L591.00,249.68 L591.43,249.41 L591.87,249.14 L592.30,248.87 L592.74,248.61 L593.17,248.35 L593.60,248.10 L594.04,247.85 L594.47,247.60 L594.91,247.36 L595.34,247.13 L595.78,246.89 L596.21,246.66 L596.64,246.44 L597.08,246.22 L597.51,246.00 L597.95,245.79 L598.38,245.58 L598.82,245.37 L599.25,245.17 L599.69,244.97 L600.12,244.78 L600.55,244.58 L600.99,244.40 L601.42,244.21 L601.86,244.03 L602.29,243.85 L602.73,243.68 L603.16,243.51 L603.59,243.34 L604.03,243.17 L604.46,243.01 L604.90,242.85 L605.33,242.70 L605.77,242.54 L606.20,242.39 L606.63,242.25 L607.07,242.10 L607.50,241.96 L607.94,241.82 L608.37,241.69 L608.81,241.56 L609.24,241.43 L609.67,241.30 L610.11,241.17 L610.54,241.05 L610.98,240.93 L611.41,240.81 L611.85,240.69 L612.28,240.58 L612.72,240.47 L613.15,240.36 L613.58,240.26 L614.02,240.15 L614.45,240.05 L614.89,239.95 L615.32,239.85 L615.76,239.75 L616.19,239.66 L616.62,239.57 L617.06,239.48 L617.49,239.39 L617.93,239.30 L618.36,239.22 L618.80,239.14 L619.23,239.05 L619.66,238.97 L620.10,238.90 L620.53,238.82 L620.97,238.75 L621.40,238.67 L621.84,238.60 L622.27,238.53 L622.71,238.46 L623.14,238.40 L623.57,238.33 L624.01,238.27 L624.44,238.20 L624.88,238.14 L625.31,238.08 L625.75,238.02 L626.18,237.96 L626.61,237.91 L627.05,237.85 L627.48,237.80 L627.92,237.75 L628.35,237.69 L628.79,237.64 L629.22,237.59 L629.65,237.55 L630.09,237.50 L630.52,237.45 L630.96,237.41 L631.39,237.36 L631.83,237.32 L632.26,237.28 L632.69,237.24 L633.13,237.20 L633.56,237.16 L634.00,237.12 L634.43,237.08 L634.87,237.04 L635.30,237.01 L635.74,236.97 L636.17,236.94 L636.60,236.90 L637.04,236.87 L637.47,236.84 L637.91,236.80 L638.34,236.77 L638.78,236.74 L639.21,236.71 L639.64,236.68 L640.08,236.66 L640.51,236.63 L640.95,236.60 L641.38,236.57 L641.82,236.55 L642.25,236.52 L642.68,236.50 L643.12,236.47 L643.55,236.45 L643.99,236.43 L644.42,236.40 L644.86,236.38 L645.29,236.36 L645.72,236.34 L646.16,236.32 L646.59,236.30 L647.03,236.28 L647.46,236.26 L647.90,236.24 L648.33,236.22 L648.77,236.20 L649.20,236.19 L649.63,236.17 L650.07,236.15 L650.50,236.13 L650.94,236.12 L651.37,236.10 L651.81,236.09 L652.24,236.07 L652.67,236.06 L653.11,236.04 L653.54,236.03 L653.98,236.02 L654.41,236.00 L654.85,235.99 L655.28,235.98 L655.71,235.96 L656.15,235.95 L656.58,235.94 L657.02,235.93 L657.45,235.92 L657.89,235.90 L658.32,235.89 L658.75,235.88 L659.19,235.87 L659.62,235.86 L660.06,235.85 L660.49,235.84 L660.93,235.83 L661.36,235.82 L661.80,235.81 L662.23,235.81 L662.66,235.80 L663.10,235.79 L663.53,235.78 L663.97,235.77 L664.40,235.76 L664.84,235.76 L665.27,235.75 L665.70,235.74 L666.14,235.73 L666.57,235.73 L667.01,235.72 L667.44,235.71 L667.88,235.71 L668.31,235.70 L668.74,235.69 L669.18,235.69 L669.61,235.68 L670.05,235.68 L670.48,235.67 L670.92,235.66 L671.35,235.66 L671.78,235.65 L672.22,235.65 L672.65,235.64 L673.09,235.64 L673.52,235.63 L673.96,235.63 L674.39,235.62 L674.83,235.62 L675.26,235.61 L675.69,235.61 L676.13,235.61 L676.56,235.60 L677.00,235.60 L677.43,235.59 L677.87,235.59 L678.30,235.59" fill="none" stroke="#4a2c8a" stroke-width="1.4" stroke-linejoin="round" stroke-linecap="butt" />
<path d="M505.00,335.84 L505.43,335.60 L505.87,335.36 L506.30,335.11 L506.74,334.86 L507.17,334.60 L507.61,334.35 L508.04,334.09 L508.47,333.82 L508.91,333.56 L509.34,333.29 L509.78,333.01 L510.21,332.74 L510.65,332.46 L511.08,332.18 L511.52,331.89 L511.95,331.60 L512.38,331.31 L512.82,331.02 L513.25,330.72 L513.69,330.42 L514.12,330.11 L514.56,329.80 L514.99,329.49 L515.42,329.17 L515.86,328.85 L516.29,328.53 L516.73,328.21 L517.16,327.88 L517.60,327.54 L518.03,327.21 L518.46,326.87 L518.90,326.52 L519.33,326.17 L519.77,325.82 L520.20,325.47 L520.64,325.11 L521.07,324.75 L521.50,324.38 L521.94,324.01 L522.37,323.64 L522.81,323.26 L523.24,322.88 L523.68,322.50 L524.11,322.11 L524.55,321.72 L524.98,321.33 L525.41,320.93 L525.85,320.52 L526.28,320.12 L526.72,319.71 L527.15,319.30 L527.59,318.88 L528.02,318.46 L528.45,318.03 L528.89,317.61 L529.32,317.17 L529.76,316.74 L530.19,316.30 L530.63,315.86 L531.06,315.41 L531.49,314.96 L531.93,314.51 L532.36,314.05 L532.80,313.59 L533.23,313.13 L533.67,312.67 L534.10,312.20 L534.53,311.72 L534.97,311.25 L535.40,310.77 L535.84,310.28 L536.27,309.80 L536.71,309.31 L537.14,308.82 L537.58,308.32 L538.01,307.82 L538.44,307.32 L538.88,306.82 L539.31,306.31 L539.75,305.80 L540.18,305.29 L540.62,304.77 L541.05,304.25 L541.48,303.73 L541.92,303.21 L542.35,302.68 L542.79,302.16 L543.22,301.63 L543.66,301.09 L544.09,300.56 L544.52,300.02 L544.96,299.48 L545.39,298.94 L545.83,298.40 L546.26,297.86 L546.70,297.31 L547.13,296.76 L547.56,296.21 L548.00,295.66 L548.43,295.11 L548.87,294.56 L549.30,294.00 L549.74,293.45 L550.17,292.89 L550.61,292.33 L551.04,291.78 L551.47,291.22 L551.91,290.66 L552.34,290.10 L552.78,289.54 L553.21,288.98 L553.65,288.42 L554.08,287.86 L554.51,287.30 L554.95,286.74 L555.38,286.18 L555.82,285.62 L556.25,285.06 L556.69,284.50 L557.12,283.94 L557.55,283.39 L557.99,282.83 L558.42,282.28 L558.86,281.72 L559.29,281.17 L559.73,280.62 L560.16,280.07 L560.59,279.52 L561.03,278.97 L561.46,278.43 L561.90,277.88 L562.33,277.34 L562.77,276.80 L563.20,276.27 L563.64,275.73 L564.07,275.20 L564.50,274.67 L564.94,274.14 L565.37,273.62 L565.81,273.10 L566.24,272.58 L566.68,272.06 L567.11,271.55 L567.54,271.04 L567.98,270.53 L568.41,270.03 L568.85,269.53 L569.28,269.03 L569.72,268.54 L570.15,268.05 L570.58,267.57 L571.02,267.08 L571.45,266.61 L571.89,266.13 L572.32,265.66 L572.76,265.19 L573.19,264.73 L573.63,264.27 L574.06,263.82 L574.49,263.37 L574.93,262.92 L575.36,262.48 L575.80,262.05 L576.23,261.61 L576.67,261.19 L577.10,260.76 L577.53,260.34 L577.97,259.93 L578.40,259.52 L578.84,259.11 L579.27,258.71 L579.71,258.31 L580.14,257.92 L580.57,257.53 L581.01,257.15 L581.44,256.77 L581.88,256.40 L582.31,256.03 L582.75,255.67 L583.18,255.31 L583.61,254.95 L584.05,254.60 L584.48,254.26 L584.92,253.92 L585.35,253.58 L585.79,253.25 L586.22,252.92 L586.66,252.60 L587.09,252.28 L587.52,251.97 L587.96,251.66 L588.39,251.36 L588.83,251.06 L589.26,250.76 L589.70,250.47 L590.13,250.19 L590.56,249.91 L591.00,249.63 L591.43,249.36 L591.87,249.09 L592.30,248.82 L592.74,248.56 L593.17,248.31 L593.60,248.05 L594.04,247.81 L594.47,247.56 L594.91,247.32 L595.34,247.09 L595.78,246.86 L596.21,246.63 L596.64,246.41 L597.08,246.19 L597.51,245.97 L597.95,245.76 L598.38,245.55 L598.82,245.34 L599.25,245.14 L599.69,244.95 L600.12,244.75 L600.55,244.56 L600.99,244.37 L601.42,244.19 L601.86,244.01 L602.29,243.83 L602.73,243.66 L603.16,243.49 L603.59,243.32 L604.03,243.16 L604.46,243.00 L604.90,242.84 L605.33,242.68 L605.77,242.53 L606.20,242.38 L606.63,242.24 L607.07,242.09 L607.50,241.95 L607.94,241.81 L608.37,241.68 L608.81,241.55 L609.24,241.42 L609.67,241.29 L610.11,241.16 L610.54,241.04 L610.98,240.92 L611.41,240.80 L611.85,240.69 L612.28,240.57 L612.72,240.46 L613.15,240.36 L613.58,240.25 L614.02,240.14 L614.45,240.04 L614.89,239.94 L615.32,239.84 L615.76,239.75 L616.19,239.66 L616.62,239.56 L617.06,239.47 L617.49,239.39 L617.93,239.30 L618.36,239.21 L618.80,239.13 L619.23,239.05 L619.66,238.97 L620.10,238.89 L620.53,238.82 L620.97,238.74 L621.40,238.67 L621.84,238.60 L622.27,238.53 L622.71,238.46 L623.14,238.39 L623.57,238.33 L624.01,238.26 L624.44,238.20 L624.88,238.14 L625.31,238.08 L625.75,238.02 L626.18,237.96 L626.61,237.91 L627.05,237.85 L627.48,237.80 L627.92,237.74 L628.35,237.69 L628.79,237.64 L629.22,237.59 L629.65,237.54 L630.09,237.50 L630.52,237.45 L630.96,237.41 L631.39,237.36 L631.83,237.32 L632.26,237.28 L632.69,237.23 L633.13,237.19 L633.56,237.15 L634.00,237.12 L634.43,237.08 L634.87,237.04 L635.30,237.00 L635.74,236.97 L636.17,236.93 L636.60,236.90 L637.04,236.87 L637.47,236.83 L637.91,236.80 L638.34,236.77 L638.78,236.74 L639.21,236.71 L639.64,236.68 L640.08,236.65 L640.51,236.63 L640.95,236.60 L641.38,236.57 L641.82,236.55 L642.25,236.52 L642.68,236.50 L643.12,236.47 L643.55,236.45 L643.99,236.43 L644.42,236.40 L644.86,236.38 L645.29,236.36 L645.72,236.34 L646.16,236.32 L646.59,236.30 L647.03,236.28 L647.46,236.26 L647.90,236.24 L648.33,236.22 L648.77,236.20 L649.20,236.19 L649.63,236.17 L650.07,236.15 L650.50,236.13 L650.94,236.12 L651.37,236.10 L651.81,236.09 L652.24,236.07 L652.67,236.06 L653.11,236.04 L653.54,236.03 L653.98,236.02 L654.41,236.00 L654.85,235.99 L655.28,235.98 L655.71,235.96 L656.15,235.95 L656.58,235.94 L657.02,235.93 L657.45,235.92 L657.89,235.90 L658.32,235.89 L658.75,235.88 L659.19,235.87 L659.62,235.86 L660.06,235.85 L660.49,235.84 L660.93,235.83 L661.36,235.82 L661.80,235.81 L662.23,235.81 L662.66,235.80 L663.10,235.79 L663.53,235.78 L663.97,235.77 L664.40,235.76 L664.84,235.76 L665.27,235.75 L665.70,235.74 L666.14,235.73 L666.57,235.73 L667.01,235.72 L667.44,235.71 L667.88,235.71 L668.31,235.70 L668.74,235.69 L669.18,235.69 L669.61,235.68 L670.05,235.68 L670.48,235.67 L670.92,235.66 L671.35,235.66 L671.78,235.65 L672.22,235.65 L672.65,235.64 L673.09,235.64 L673.52,235.63 L673.96,235.63 L674.39,235.62 L674.83,235.62 L675.26,235.61 L675.69,235.61 L676.13,235.61 L676.56,235.60 L677.00,235.60 L677.43,235.59 L677.87,235.59 L678.30,235.59" fill="none" stroke="#3d5e9c" stroke-width="1.4" stroke-linejoin="round" stroke-linecap="butt" />
<path d="M505.00,316.93 L505.43,316.74 L505.87,316.55 L506.30,316.36 L506.74,316.17 L507.17,315.98 L507.61,315.78 L508.04,315.59 L508.47,315.39 L508.91,315.19 L509.34,314.99 L509.78,314.78 L510.21,314.57 L510.65,314.37 L511.08,314.16 L511.52,313.94 L511.95,313.73 L512.38,313.51 L512.82,313.29 L513.25,313.07 L513.69,312.85 L514.12,312.63 L514.56,312.40 L514.99,312.17 L515.42,311.94 L515.86,311.71 L516.29,311.47 L516.73,311.24 L517.16,311.00 L517.60,310.75 L518.03,310.51 L518.46,310.26 L518.90,310.01 L519.33,309.76 L519.77,309.51 L520.20,309.25 L520.64,309.00 L521.07,308.74 L521.50,308.47 L521.94,308.21 L522.37,307.94 L522.81,307.67 L523.24,307.40 L523.68,307.12 L524.11,306.84 L524.55,306.56 L524.98,306.28 L525.41,305.99 L525.85,305.71 L526.28,305.41 L526.72,305.12 L527.15,304.83 L527.59,304.53 L528.02,304.23 L528.45,303.92 L528.89,303.62 L529.32,303.31 L529.76,302.99 L530.19,302.68 L530.63,302.36 L531.06,302.04 L531.49,301.72 L531.93,301.40 L532.36,301.07 L532.80,300.74 L533.23,300.40 L533.67,300.07 L534.10,299.73 L534.53,299.39 L534.97,299.04 L535.40,298.70 L535.84,298.35 L536.27,298.00 L536.71,297.64 L537.14,297.28 L537.58,296.92 L538.01,296.56 L538.44,296.20 L538.88,295.83 L539.31,295.46 L539.75,295.08 L540.18,294.71 L540.62,294.33 L541.05,293.95 L541.48,293.57 L541.92,293.18 L542.35,292.79 L542.79,292.40 L543.22,292.01 L543.66,291.62 L544.09,291.22 L544.52,290.82 L544.96,290.42 L545.39,290.01 L545.83,289.61 L546.26,289.20 L546.70,288.79 L547.13,288.38 L547.56,287.96 L548.00,287.55 L548.43,287.13 L548.87,286.71 L549.30,286.29 L549.74,285.86 L550.17,285.44 L550.61,285.01 L551.04,284.59 L551.47,284.16 L551.91,283.73 L552.34,283.29 L552.78,282.86 L553.21,282.43 L553.65,281.99 L554.08,281.55 L554.51,281.12 L554.95,280.68 L555.38,280.24 L555.82,279.80 L556.25,279.36 L556.69,278.92 L557.12,278.48 L557.55,278.04 L557.99,277.60 L558.42,277.15 L558.86,276.71 L559.29,276.27 L559.73,275.83 L560.16,275.38 L560.59,274.94 L561.03,274.50 L561.46,274.06 L561.90,273.62 L562.33,273.18 L562.77,272.74 L563.20,272.30 L563.64,271.86 L564.07,271.42 L564.50,270.99 L564.94,270.55 L565.37,270.12 L565.81,269.69 L566.24,269.26 L566.68,268.83 L567.11,268.40 L567.54,267.97 L567.98,267.55 L568.41,267.12 L568.85,266.70 L569.28,266.28 L569.72,265.87 L570.15,265.45 L570.58,265.04 L571.02,264.63 L571.45,264.22 L571.89,263.81 L572.32,263.41 L572.76,263.01 L573.19,262.61 L573.63,262.22 L574.06,261.82 L574.49,261.43 L574.93,261.05 L575.36,260.66 L575.80,260.28 L576.23,259.90 L576.67,259.53 L577.10,259.15 L577.53,258.79 L577.97,258.42 L578.40,258.06 L578.84,257.70 L579.27,257.34 L579.71,256.99 L580.14,256.64 L580.57,256.30 L581.01,255.96 L581.44,255.62 L581.88,255.28 L582.31,254.95 L582.75,254.62 L583.18,254.30 L583.61,253.98 L584.05,253.66 L584.48,253.35 L584.92,253.04 L585.35,252.74 L585.79,252.43 L586.22,252.14 L586.66,251.84 L587.09,251.55 L587.52,251.26 L587.96,250.98 L588.39,250.70 L588.83,250.43 L589.26,250.15 L589.70,249.89 L590.13,249.62 L590.56,249.36 L591.00,249.10 L591.43,248.85 L591.87,248.60 L592.30,248.35 L592.74,248.11 L593.17,247.87 L593.60,247.64 L594.04,247.41 L594.47,247.18 L594.91,246.95 L595.34,246.73 L595.78,246.51 L596.21,246.30 L596.64,246.09 L597.08,245.88 L597.51,245.68 L597.95,245.48 L598.38,245.28 L598.82,245.08 L599.25,244.89 L599.69,244.71 L600.12,244.52 L600.55,244.34 L600.99,244.16 L601.42,243.99 L601.86,243.81 L602.29,243.64 L602.73,243.48 L603.16,243.32 L603.59,243.16 L604.03,243.00 L604.46,242.84 L604.90,242.69 L605.33,242.54 L605.77,242.40 L606.20,242.25 L606.63,242.11 L607.07,241.97 L607.50,241.84 L607.94,241.70 L608.37,241.57 L608.81,241.44 L609.24,241.32 L609.67,241.20 L610.11,241.07 L610.54,240.96 L610.98,240.84 L611.41,240.72 L611.85,240.61 L612.28,240.50 L612.72,240.40 L613.15,240.29 L613.58,240.19 L614.02,240.08 L614.45,239.99 L614.89,239.89 L615.32,239.79 L615.76,239.70 L616.19,239.61 L616.62,239.52 L617.06,239.43 L617.49,239.34 L617.93,239.26 L618.36,239.18 L618.80,239.09 L619.23,239.01 L619.66,238.94 L620.10,238.86 L620.53,238.79 L620.97,238.71 L621.40,238.64 L621.84,238.57 L622.27,238.50 L622.71,238.43 L623.14,238.37 L623.57,238.30 L624.01,238.24 L624.44,238.18 L624.88,238.12 L625.31,238.06 L625.75,238.00 L626.18,237.95 L626.61,237.89 L627.05,237.84 L627.48,237.78 L627.92,237.73 L628.35,237.68 L628.79,237.63 L629.22,237.58 L629.65,237.53 L630.09,237.49 L630.52,237.44 L630.96,237.40 L631.39,237.35 L631.83,237.31 L632.26,237.27 L632.69,237.23 L633.13,237.19 L633.56,237.15 L634.00,237.11 L634.43,237.07 L634.87,237.03 L635.30,237.00 L635.74,236.96 L636.17,236.93 L636.60,236.89 L637.04,236.86 L637.47,236.83 L637.91,236.80 L638.34,236.77 L638.78,236.74 L639.21,236.71 L639.64,236.68 L640.08,236.65 L640.51,236.62 L640.95,236.60 L641.38,236.57 L641.82,236.54 L642.25,236.52 L642.68,236.49 L643.12,236.47 L643.55,236.45 L643.99,236.42 L644.42,236.40 L644.86,236.38 L645.29,236.36 L645.72,236.34 L646.16,236.32 L646.59,236.30 L647.03,236.28 L647.46,236.26 L647.90,236.24 L648.33,236.22 L648.77,236.20 L649.20,236.18 L649.63,236.17 L650.07,236.15 L650.50,236.13 L650.94,236.12 L651.37,236.10 L651.81,236.09 L652.24,236.07 L652.67,236.06 L653.11,236.04 L653.54,236.03 L653.98,236.01 L654.41,236.00 L654.85,235.99 L655.28,235.97 L655.71,235.96 L656.15,235.95 L656.58,235.94 L657.02,235.93 L657.45,235.91 L657.89,235.90 L658.32,235.89 L658.75,235.88 L659.19,235.87 L659.62,235.86 L660.06,235.85 L660.49,235.84 L660.93,235.83 L661.36,235.82 L661.80,235.81 L662.23,235.80 L662.66,235.80 L663.10,235.79 L663.53,235.78 L663.97,235.77 L664.40,235.76 L664.84,235.76 L665.27,235.75 L665.70,235.74 L666.14,235.73 L666.57,235.73 L667.01,235.72 L667.44,235.71 L667.88,235.71 L668.31,235.70 L668.74,235.69 L669.18,235.69 L669.61,235.68 L670.05,235.67 L670.48,235.67 L670.92,235.66 L671.35,235.66 L671.78,235.65 L672.22,235.65 L672.65,235.64 L673.09,235.64 L673.52,235.63 L673.96,235.63 L674.39,235.62 L674.83,235.62 L675.26,235.61 L675.69,235.61 L676.13,235.61 L676.56,235.60 L677.00,235.60 L677.43,235.59 L677.87,235.59 L678.30,235.59" fill="none" stroke="#2a8c88" stroke-width="1.4" stroke-linejoin="round" stroke-linecap="butt" />
<path d="M505.00,277.21 L505.43,277.09 L505.87,276.97 L506.30,276.85 L506.74,276.73 L507.17,276.61 L507.61,276.49 L508.04,276.37 L508.47,276.25 L508.91,276.13 L509.34,276.00 L509.78,275.88 L510.21,275.76 L510.65,275.63 L511.08,275.51 L511.52,275.38 L511.95,275.26 L512.38,275.13 L512.82,275.01 L513.25,274.88 L513.69,274.75 L514.12,274.62 L514.56,274.49 L514.99,274.37 L515.42,274.24 L515.86,274.11 L516.29,273.98 L516.73,273.84 L517.16,273.71 L517.60,273.58 L518.03,273.45 L518.46,273.32 L518.90,273.18 L519.33,273.05 L519.77,272.91 L520.20,272.78 L520.64,272.64 L521.07,272.51 L521.50,272.37 L521.94,272.23 L522.37,272.10 L522.81,271.96 L523.24,271.82 L523.68,271.68 L524.11,271.54 L524.55,271.40 L524.98,271.26 L525.41,271.12 L525.85,270.97 L526.28,270.83 L526.72,270.69 L527.15,270.55 L527.59,270.40 L528.02,270.26 L528.45,270.11 L528.89,269.97 L529.32,269.82 L529.76,269.67 L530.19,269.53 L530.63,269.38 L531.06,269.23 L531.49,269.08 L531.93,268.93 L532.36,268.78 L532.80,268.63 L533.23,268.48 L533.67,268.33 L534.10,268.17 L534.53,268.02 L534.97,267.87 L535.40,267.71 L535.84,267.56 L536.27,267.40 L536.71,267.25 L537.14,267.09 L537.58,266.94 L538.01,266.78 L538.44,266.62 L538.88,266.46 L539.31,266.30 L539.75,266.14 L540.18,265.98 L540.62,265.82 L541.05,265.66 L541.48,265.50 L541.92,265.34 L542.35,265.17 L542.79,265.01 L543.22,264.85 L543.66,264.68 L544.09,264.52 L544.52,264.35 L544.96,264.19 L545.39,264.02 L545.83,263.85 L546.26,263.69 L546.70,263.52 L547.13,263.35 L547.56,263.18 L548.00,263.01 L548.43,262.84 L548.87,262.67 L549.30,262.50 L549.74,262.33 L550.17,262.16 L550.61,261.98 L551.04,261.81 L551.47,261.64 L551.91,261.47 L552.34,261.29 L552.78,261.12 L553.21,260.94 L553.65,260.77 L554.08,260.59 L554.51,260.42 L554.95,260.24 L555.38,260.06 L555.82,259.88 L556.25,259.71 L556.69,259.53 L557.12,259.35 L557.55,259.17 L557.99,258.99 L558.42,258.81 L558.86,258.63 L559.29,258.46 L559.73,258.28 L560.16,258.09 L560.59,257.91 L561.03,257.73 L561.46,257.55 L561.90,257.37 L562.33,257.19 L562.77,257.01 L563.20,256.83 L563.64,256.65 L564.07,256.46 L564.50,256.28 L564.94,256.10 L565.37,255.92 L565.81,255.73 L566.24,255.55 L566.68,255.37 L567.11,255.19 L567.54,255.00 L567.98,254.82 L568.41,254.64 L568.85,254.46 L569.28,254.28 L569.72,254.09 L570.15,253.91 L570.58,253.73 L571.02,253.55 L571.45,253.37 L571.89,253.18 L572.32,253.00 L572.76,252.82 L573.19,252.64 L573.63,252.46 L574.06,252.28 L574.49,252.10 L574.93,251.92 L575.36,251.74 L575.80,251.56 L576.23,251.39 L576.67,251.21 L577.10,251.03 L577.53,250.85 L577.97,250.68 L578.40,250.50 L578.84,250.33 L579.27,250.15 L579.71,249.98 L580.14,249.80 L580.57,249.63 L581.01,249.46 L581.44,249.29 L581.88,249.12 L582.31,248.95 L582.75,248.78 L583.18,248.61 L583.61,248.44 L584.05,248.27 L584.48,248.11 L584.92,247.94 L585.35,247.78 L585.79,247.61 L586.22,247.45 L586.66,247.29 L587.09,247.13 L587.52,246.97 L587.96,246.81 L588.39,246.65 L588.83,246.49 L589.26,246.34 L589.70,246.18 L590.13,246.03 L590.56,245.88 L591.00,245.73 L591.43,245.58 L591.87,245.43 L592.30,245.28 L592.74,245.13 L593.17,244.99 L593.60,244.84 L594.04,244.70 L594.47,244.56 L594.91,244.42 L595.34,244.28 L595.78,244.14 L596.21,244.01 L596.64,243.87 L597.08,243.74 L597.51,243.60 L597.95,243.47 L598.38,243.34 L598.82,243.21 L599.25,243.09 L599.69,242.96 L600.12,242.84 L600.55,242.71 L600.99,242.59 L601.42,242.47 L601.86,242.35 L602.29,242.23 L602.73,242.12 L603.16,242.00 L603.59,241.89 L604.03,241.78 L604.46,241.67 L604.90,241.56 L605.33,241.45 L605.77,241.34 L606.20,241.24 L606.63,241.13 L607.07,241.03 L607.50,240.93 L607.94,240.83 L608.37,240.73 L608.81,240.64 L609.24,240.54 L609.67,240.45 L610.11,240.35 L610.54,240.26 L610.98,240.17 L611.41,240.08 L611.85,240.00 L612.28,239.91 L612.72,239.83 L613.15,239.74 L613.58,239.66 L614.02,239.58 L614.45,239.50 L614.89,239.42 L615.32,239.34 L615.76,239.27 L616.19,239.19 L616.62,239.12 L617.06,239.05 L617.49,238.98 L617.93,238.91 L618.36,238.84 L618.80,238.77 L619.23,238.70 L619.66,238.64 L620.10,238.57 L620.53,238.51 L620.97,238.45 L621.40,238.39 L621.84,238.33 L622.27,238.27 L622.71,238.21 L623.14,238.16 L623.57,238.10 L624.01,238.04 L624.44,237.99 L624.88,237.94 L625.31,237.89 L625.75,237.84 L626.18,237.79 L626.61,237.74 L627.05,237.69 L627.48,237.64 L627.92,237.60 L628.35,237.55 L628.79,237.51 L629.22,237.46 L629.65,237.42 L630.09,237.38 L630.52,237.34 L630.96,237.30 L631.39,237.26 L631.83,237.22 L632.26,237.18 L632.69,237.14 L633.13,237.11 L633.56,237.07 L634.00,237.03 L634.43,237.00 L634.87,236.97 L635.30,236.93 L635.74,236.90 L636.17,236.87 L636.60,236.84 L637.04,236.81 L637.47,236.78 L637.91,236.75 L638.34,236.72 L638.78,236.69 L639.21,236.66 L639.64,236.64 L640.08,236.61 L640.51,236.59 L640.95,236.56 L641.38,236.54 L641.82,236.51 L642.25,236.49 L642.68,236.46 L643.12,236.44 L643.55,236.42 L643.99,236.40 L644.42,236.38 L644.86,236.35 L645.29,236.33 L645.72,236.31 L646.16,236.29 L646.59,236.28 L647.03,236.26 L647.46,236.24 L647.90,236.22 L648.33,236.20 L648.77,236.19 L649.20,236.17 L649.63,236.15 L650.07,236.14 L650.50,236.12 L650.94,236.10 L651.37,236.09 L651.81,236.07 L652.24,236.06 L652.67,236.05 L653.11,236.03 L653.54,236.02 L653.98,236.00 L654.41,235.99 L654.85,235.98 L655.28,235.97 L655.71,235.95 L656.15,235.94 L656.58,235.93 L657.02,235.92 L657.45,235.91 L657.89,235.90 L658.32,235.89 L658.75,235.88 L659.19,235.87 L659.62,235.86 L660.06,235.85 L660.49,235.84 L660.93,235.83 L661.36,235.82 L661.80,235.81 L662.23,235.80 L662.66,235.79 L663.10,235.78 L663.53,235.78 L663.97,235.77 L664.40,235.76 L664.84,235.75 L665.27,235.75 L665.70,235.74 L666.14,235.73 L666.57,235.72 L667.01,235.72 L667.44,235.71 L667.88,235.70 L668.31,235.70 L668.74,235.69 L669.18,235.68 L669.61,235.68 L670.05,235.67 L670.48,235.67 L670.92,235.66 L671.35,235.66 L671.78,235.65 L672.22,235.65 L672.65,235.64 L673.09,235.64 L673.52,235.63 L673.96,235.63 L674.39,235.62 L674.83,235.62 L675.26,235.61 L675.69,235.61 L676.13,235.60 L676.56,235.60 L677.00,235.60 L677.43,235.59 L677.87,235.59 L678.30,235.58" fill="none" stroke="#4cc26c" stroke-width="1.4" stroke-linejoin="round" stroke-linecap="butt" />
<path d="M505.00,340.74 L505.43,340.46 L505.87,340.17 L506.30,339.88 L506.74,339.58 L507.17,339.28 L507.61,338.98 L508.04,338.68 L508.47,338.37 L508.91,338.06 L509.34,337.75 L509.78,337.43 L510.21,337.11 L510.65,336.79 L511.08,336.46 L511.52,336.13 L511.95,335.80 L512.38,335.47 L512.82,335.13 L513.25,334.79 L513.69,334.44 L514.12,334.09 L514.56,333.74 L514.99,333.38 L515.42,333.03 L515.86,332.66 L516.29,332.30 L516.73,331.93 L517.16,331.56 L517.60,331.18 L518.03,330.80 L518.46,330.42 L518.90,330.04 L519.33,329.65 L519.77,329.25 L520.20,328.86 L520.64,328.46 L521.07,328.06 L521.50,327.65 L521.94,327.24 L522.37,326.83 L522.81,326.41 L523.24,325.99 L523.68,325.57 L524.11,325.14 L524.55,324.71 L524.98,324.27 L525.41,323.84 L525.85,323.40 L526.28,322.95 L526.72,322.50 L527.15,322.05 L527.59,321.60 L528.02,321.14 L528.45,320.68 L528.89,320.21 L529.32,319.74 L529.76,319.27 L530.19,318.80 L530.63,318.32 L531.06,317.84 L531.49,317.35 L531.93,316.86 L532.36,316.37 L532.80,315.88 L533.23,315.38 L533.67,314.88 L534.10,314.37 L534.53,313.86 L534.97,313.35 L535.40,312.84 L535.84,312.32 L536.27,311.81 L536.71,311.28 L537.14,310.76 L537.58,310.23 L538.01,309.70 L538.44,309.17 L538.88,308.63 L539.31,308.09 L539.75,307.55 L540.18,307.01 L540.62,306.46 L541.05,305.92 L541.48,305.36 L541.92,304.81 L542.35,304.26 L542.79,303.70 L543.22,303.14 L543.66,302.58 L544.09,302.02 L544.52,301.45 L544.96,300.89 L545.39,300.32 L545.83,299.75 L546.26,299.18 L546.70,298.61 L547.13,298.03 L547.56,297.46 L548.00,296.88 L548.43,296.31 L548.87,295.73 L549.30,295.15 L549.74,294.57 L550.17,293.99 L550.61,293.41 L551.04,292.83 L551.47,292.25 L551.91,291.67 L552.34,291.09 L552.78,290.50 L553.21,289.92 L553.65,289.34 L554.08,288.76 L554.51,288.18 L554.95,287.60 L555.38,287.02 L555.82,286.44 L556.25,285.86 L556.69,285.28 L557.12,284.70 L557.55,284.13 L557.99,283.55 L558.42,282.98 L558.86,282.41 L559.29,281.84 L559.73,281.27 L560.16,280.71 L560.59,280.14 L561.03,279.58 L561.46,279.02 L561.90,278.46 L562.33,277.90 L562.77,277.35 L563.20,276.80 L563.64,276.25 L564.07,275.70 L564.50,275.16 L564.94,274.62 L565.37,274.08 L565.81,273.55 L566.24,273.01 L566.68,272.49 L567.11,271.96 L567.54,271.44 L567.98,270.92 L568.41,270.41 L568.85,269.90 L569.28,269.39 L569.72,268.88 L570.15,268.38 L570.58,267.89 L571.02,267.40 L571.45,266.91 L571.89,266.43 L572.32,265.95 L572.76,265.47 L573.19,265.00 L573.63,264.53 L574.06,264.07 L574.49,263.61 L574.93,263.16 L575.36,262.71 L575.80,262.27 L576.23,261.83 L576.67,261.39 L577.10,260.96 L577.53,260.53 L577.97,260.11 L578.40,259.70 L578.84,259.28 L579.27,258.88 L579.71,258.47 L580.14,258.08 L580.57,257.68 L581.01,257.30 L581.44,256.91 L581.88,256.54 L582.31,256.16 L582.75,255.79 L583.18,255.43 L583.61,255.07 L584.05,254.72 L584.48,254.37 L584.92,254.02 L585.35,253.68 L585.79,253.35 L586.22,253.02 L586.66,252.69 L587.09,252.37 L587.52,252.05 L587.96,251.74 L588.39,251.44 L588.83,251.13 L589.26,250.84 L589.70,250.54 L590.13,250.25 L590.56,249.97 L591.00,249.69 L591.43,249.41 L591.87,249.14 L592.30,248.88 L592.74,248.61 L593.17,248.36 L593.60,248.10 L594.04,247.85 L594.47,247.61 L594.91,247.37 L595.34,247.13 L595.78,246.90 L596.21,246.67 L596.64,246.44 L597.08,246.22 L597.51,246.00 L597.95,245.79 L598.38,245.58 L598.82,245.37 L599.25,245.17 L599.69,244.97 L600.12,244.78 L600.55,244.59 L600.99,244.40 L601.42,244.21 L601.86,244.03 L602.29,243.85 L602.73,243.68 L603.16,243.51 L603.59,243.34 L604.03,243.18 L604.46,243.01 L604.90,242.85 L605.33,242.70 L605.77,242.55 L606.20,242.40 L606.63,242.25 L607.07,242.11 L607.50,241.96 L607.94,241.83 L608.37,241.69 L608.81,241.56 L609.24,241.43 L609.67,241.30 L610.11,241.17 L610.54,241.05 L610.98,240.93 L611.41,240.81 L611.85,240.70 L612.28,240.58 L612.72,240.47 L613.15,240.36 L613.58,240.26 L614.02,240.15 L614.45,240.05 L614.89,239.95 L615.32,239.85 L615.76,239.75 L616.19,239.66 L616.62,239.57 L617.06,239.48 L617.49,239.39 L617.93,239.30 L618.36,239.22 L618.80,239.14 L619.23,239.05 L619.66,238.97 L620.10,238.90 L620.53,238.82 L620.97,238.75 L621.40,238.67 L621.84,238.60 L622.27,238.53 L622.71,238.46 L623.14,238.40 L623.57,238.33 L624.01,238.27 L624.44,238.20 L624.88,238.14 L625.31,238.08 L625.75,238.02 L626.18,237.96 L626.61,237.91 L627.05,237.85 L627.48,237.80 L627.92,237.75 L628.35,237.69 L628.79,237.64 L629.22,237.59 L629.65,237.55 L630.09,237.50 L630.52,237.45 L630.96,237.41 L631.39,237.36 L631.83,237.32 L632.26,237.28 L632.69,237.24 L633.13,237.20 L633.56,237.16 L634.00,237.12 L634.43,237.08 L634.87,237.04 L635.30,237.01 L635.74,236.97 L636.17,236.94 L636.60,236.90 L637.04,236.87 L637.47,236.84 L637.91,236.80 L638.34,236.77 L638.78,236.74 L639.21,236.71 L639.64,236.68 L640.08,236.66 L640.51,236.63 L640.95,236.60 L641.38,236.57 L641.82,236.55 L642.25,236.52 L642.68,236.50 L643.12,236.47 L643.55,236.45 L643.99,236.43 L644.42,236.40 L644.86,236.38 L645.29,236.36 L645.72,236.34 L646.16,236.32 L646.59,236.30 L647.03,236.28 L647.46,236.26 L647.90,236.24 L648.33,236.22 L648.77,236.20 L649.20,236.19 L649.63,236.17 L650.07,236.15 L650.50,236.13 L650.94,236.12 L651.37,236.10 L651.81,236.09 L652.24,236.07 L652.67,236.06 L653.11,236.04 L653.54,236.03 L653.98,236.02 L654.41,236.00 L654.85,235.99 L655.28,235.98 L655.71,235.96 L656.15,235.95 L656.58,235.94 L657.02,235.93 L657.45,235.92 L657.89,235.90 L658.32,235.89 L658.75,235.88 L659.19,235.87 L659.62,235.86 L660.06,235.85 L660.49,235.84 L660.93,235.83 L661.36,235.82 L661.80,235.81 L662.23,235.81 L662.66,235.80 L663.10,235.79 L663.53,235.78 L663.97,235.77 L664.40,235.76 L664.84,235.76 L665.27,235.75 L665.70,235.74 L666.14,235.73 L666.57,235.73 L667.01,235.72 L667.44,235.71 L667.88,235.71 L668.31,235.70 L668.74,235.69 L669.18,235.69 L669.61,235.68 L670.05,235.68 L670.48,235.67 L670.92,235.66 L671.35,235.66 L671.78,235.65 L672.22,235.65 L672.65,235.64 L673.09,235.64 L673.52,235.63 L673.96,235.63 L674.39,235.62 L674.83,235.62 L675.26,235.61 L675.69,235.61 L676.13,235.61 L676.56,235.60 L677.00,235.60 L677.43,235.59 L677.87,235.59 L678.30,235.59" fill="none" stroke="#ff1a1a" stroke-width="1.6" stroke-linejoin="round" stroke-linecap="butt" stroke-dasharray="2.6,3.2"/>
</g>
<rect x="505.00" y="218.40" width="173.30" height="139.10" fill="none" stroke="#858585" stroke-width="0.9"/>
<line x1="505.00" y1="357.50" x2="505.00" y2="361.70" stroke="#4a4a4a" stroke-width="0.75" />
<line x1="518.04" y1="357.50" x2="518.04" y2="360.70" stroke="#4a4a4a" stroke-width="0.75" />
<line x1="525.67" y1="357.50" x2="525.67" y2="360.70" stroke="#4a4a4a" stroke-width="0.75" />
<line x1="531.08" y1="357.50" x2="531.08" y2="360.70" stroke="#4a4a4a" stroke-width="0.75" />
<line x1="535.28" y1="357.50" x2="535.28" y2="360.70" stroke="#4a4a4a" stroke-width="0.75" />
<line x1="538.71" y1="357.50" x2="538.71" y2="360.70" stroke="#4a4a4a" stroke-width="0.75" />
<line x1="541.61" y1="357.50" x2="541.61" y2="360.70" stroke="#4a4a4a" stroke-width="0.75" />
<line x1="544.13" y1="357.50" x2="544.13" y2="360.70" stroke="#4a4a4a" stroke-width="0.75" />
<line x1="546.34" y1="357.50" x2="546.34" y2="360.70" stroke="#4a4a4a" stroke-width="0.75" />
<line x1="548.33" y1="357.50" x2="548.33" y2="361.70" stroke="#4a4a4a" stroke-width="0.75" />
<line x1="561.37" y1="357.50" x2="561.37" y2="360.70" stroke="#4a4a4a" stroke-width="0.75" />
<line x1="569.00" y1="357.50" x2="569.00" y2="360.70" stroke="#4a4a4a" stroke-width="0.75" />
<line x1="574.41" y1="357.50" x2="574.41" y2="360.70" stroke="#4a4a4a" stroke-width="0.75" />
<line x1="578.61" y1="357.50" x2="578.61" y2="360.70" stroke="#4a4a4a" stroke-width="0.75" />
<line x1="582.04" y1="357.50" x2="582.04" y2="360.70" stroke="#4a4a4a" stroke-width="0.75" />
<line x1="584.94" y1="357.50" x2="584.94" y2="360.70" stroke="#4a4a4a" stroke-width="0.75" />
<line x1="587.45" y1="357.50" x2="587.45" y2="360.70" stroke="#4a4a4a" stroke-width="0.75" />
<line x1="589.67" y1="357.50" x2="589.67" y2="360.70" stroke="#4a4a4a" stroke-width="0.75" />
<line x1="591.65" y1="357.50" x2="591.65" y2="361.70" stroke="#4a4a4a" stroke-width="0.75" />
<line x1="604.69" y1="357.50" x2="604.69" y2="360.70" stroke="#4a4a4a" stroke-width="0.75" />
<line x1="612.32" y1="357.50" x2="612.32" y2="360.70" stroke="#4a4a4a" stroke-width="0.75" />
<line x1="617.73" y1="357.50" x2="617.73" y2="360.70" stroke="#4a4a4a" stroke-width="0.75" />
<line x1="621.93" y1="357.50" x2="621.93" y2="360.70" stroke="#4a4a4a" stroke-width="0.75" />
<line x1="625.36" y1="357.50" x2="625.36" y2="360.70" stroke="#4a4a4a" stroke-width="0.75" />
<line x1="628.26" y1="357.50" x2="628.26" y2="360.70" stroke="#4a4a4a" stroke-width="0.75" />
<line x1="630.78" y1="357.50" x2="630.78" y2="360.70" stroke="#4a4a4a" stroke-width="0.75" />
<line x1="632.99" y1="357.50" x2="632.99" y2="360.70" stroke="#4a4a4a" stroke-width="0.75" />
<line x1="634.97" y1="357.50" x2="634.97" y2="361.70" stroke="#4a4a4a" stroke-width="0.75" />
<line x1="648.02" y1="357.50" x2="648.02" y2="360.70" stroke="#4a4a4a" stroke-width="0.75" />
<line x1="655.65" y1="357.50" x2="655.65" y2="360.70" stroke="#4a4a4a" stroke-width="0.75" />
<line x1="661.06" y1="357.50" x2="661.06" y2="360.70" stroke="#4a4a4a" stroke-width="0.75" />
<line x1="665.26" y1="357.50" x2="665.26" y2="360.70" stroke="#4a4a4a" stroke-width="0.75" />
<line x1="668.69" y1="357.50" x2="668.69" y2="360.70" stroke="#4a4a4a" stroke-width="0.75" />
<line x1="671.59" y1="357.50" x2="671.59" y2="360.70" stroke="#4a4a4a" stroke-width="0.75" />
<line x1="674.10" y1="357.50" x2="674.10" y2="360.70" stroke="#4a4a4a" stroke-width="0.75" />
<line x1="676.32" y1="357.50" x2="676.32" y2="360.70" stroke="#4a4a4a" stroke-width="0.75" />
<line x1="678.30" y1="357.50" x2="678.30" y2="361.70" stroke="#4a4a4a" stroke-width="0.75" />
<text x="498.23" y="373.40" font-size="9.3" fill="#262626" textLength="9.62" lengthAdjust="spacingAndGlyphs">10</text>
<text x="508.15" y="368.70" font-size="6.5" fill="#262626" style="stroke-width:0">0</text>
<text x="541.56" y="373.40" font-size="9.3" fill="#262626" textLength="9.62" lengthAdjust="spacingAndGlyphs">10</text>
<text x="551.48" y="368.70" font-size="6.5" fill="#262626" style="stroke-width:0">1</text>
<text x="584.88" y="373.40" font-size="9.3" fill="#262626" textLength="9.62" lengthAdjust="spacingAndGlyphs">10</text>
<text x="594.80" y="368.70" font-size="6.5" fill="#262626" style="stroke-width:0">2</text>
<text x="628.21" y="373.40" font-size="9.3" fill="#262626" textLength="9.62" lengthAdjust="spacingAndGlyphs">10</text>
<text x="638.13" y="368.70" font-size="6.5" fill="#262626" style="stroke-width:0">3</text>
<text x="671.53" y="373.40" font-size="9.3" fill="#262626" textLength="9.62" lengthAdjust="spacingAndGlyphs">10</text>
<text x="681.45" y="368.70" font-size="6.5" fill="#262626" style="stroke-width:0">4</text>
<text x="554.85" y="388.50" font-size="9.6" fill="#262626" textLength="73.60" lengthAdjust="spacingAndGlyphs">Frequency (Hz)</text>
<line x1="500.80" y1="329.40" x2="505.00" y2="329.40" stroke="#4a4a4a" stroke-width="0.75" />
<text x="497.60" y="332.70" font-size="9.3" text-anchor="end" fill="#262626" font-weight="normal" font-style="normal" >2</text>
<line x1="500.80" y1="292.40" x2="505.00" y2="292.40" stroke="#4a4a4a" stroke-width="0.75" />
<text x="497.60" y="295.70" font-size="9.3" text-anchor="end" fill="#262626" font-weight="normal" font-style="normal" >4</text>
<line x1="500.80" y1="255.40" x2="505.00" y2="255.40" stroke="#4a4a4a" stroke-width="0.75" />
<text x="497.60" y="258.70" font-size="9.3" text-anchor="end" fill="#262626" font-weight="normal" font-style="normal" >6</text>
<line x1="500.80" y1="218.40" x2="505.00" y2="218.40" stroke="#4a4a4a" stroke-width="0.75" />
<text x="497.60" y="221.70" font-size="9.3" text-anchor="end" fill="#262626" font-weight="normal" font-style="normal" >8</text>
<text x="-73.50" y="0" font-size="9.6" fill="#262626" textLength="147.00" lengthAdjust="spacingAndGlyphs" transform="translate(483.80,287.85) rotate(-90)">Specific detectivity (arb. units)</text>
<line x1="606.10" y1="265.80" x2="618.70" y2="265.80" stroke="#4a2c8a" stroke-width="1.7" />
<text x="624.10" y="268.90" font-size="8.8" fill="#262626" textLength="42.50" lengthAdjust="spacingAndGlyphs"><tspan font-style="italic">B</tspan> = 10<tspan font-size="5.8" dy="-4.0" style="stroke-width:0">&#8722;1</tspan><tspan dy="4.0"> Hz</tspan></text>
<line x1="606.10" y1="276.75" x2="618.70" y2="276.75" stroke="#3d5e9c" stroke-width="1.7" />
<text x="624.10" y="279.85" font-size="8.8" fill="#262626" textLength="42.50" lengthAdjust="spacingAndGlyphs"><tspan font-style="italic">B</tspan> = 10<tspan font-size="5.8" dy="-4.0" style="stroke-width:0">0</tspan><tspan dy="4.0"> Hz</tspan></text>
<line x1="606.10" y1="287.70" x2="618.70" y2="287.70" stroke="#2a8c88" stroke-width="1.7" />
<text x="624.10" y="290.80" font-size="8.8" fill="#262626" textLength="42.50" lengthAdjust="spacingAndGlyphs"><tspan font-style="italic">B</tspan> = 10<tspan font-size="5.8" dy="-4.0" style="stroke-width:0">1</tspan><tspan dy="4.0"> Hz</tspan></text>
<line x1="606.10" y1="298.65" x2="618.70" y2="298.65" stroke="#4cc26c" stroke-width="1.7" />
<text x="624.10" y="301.75" font-size="8.8" fill="#262626" textLength="42.50" lengthAdjust="spacingAndGlyphs"><tspan font-style="italic">B</tspan> = 10<tspan font-size="5.8" dy="-4.0" style="stroke-width:0">2</tspan><tspan dy="4.0"> Hz</tspan></text>
<line x1="606.10" y1="309.60" x2="618.70" y2="309.60" stroke="#ff1a1a" stroke-width="1.7" stroke-dasharray="3.2,4.4"/>
<text x="624.10" y="312.70" font-size="8.8" fill="#262626" textLength="32.60" lengthAdjust="spacingAndGlyphs">Approx.</text></svg></body></html>
